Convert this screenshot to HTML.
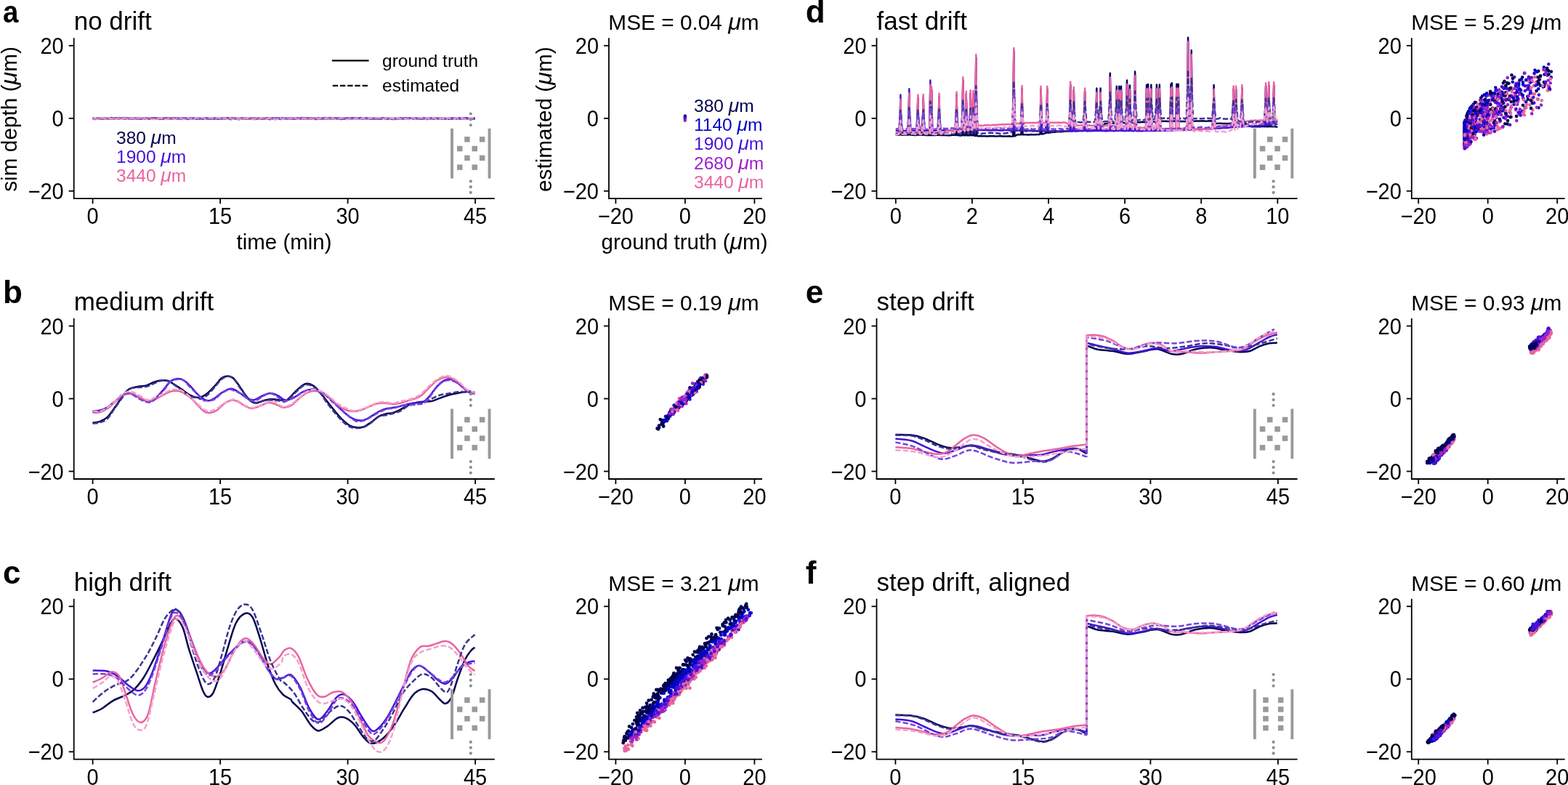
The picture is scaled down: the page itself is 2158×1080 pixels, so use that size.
<!DOCTYPE html>
<html><head><meta charset="utf-8"><style>html,body{margin:0;padding:0;background:#fff;overflow:hidden;}svg{display:block;}</style></head><body>
<svg width="2158" height="1080" viewBox="0 0 2158 1080" font-family="'Liberation Sans', Arial, sans-serif">
<rect width="2158" height="1080" fill="#fff"/>
<path d="M127.6 162.8C128.3 162.9 130.5 163.1 132.0 163.2C133.4 163.2 134.9 163.2 136.4 163.1C137.8 163.1 139.3 162.9 140.8 162.9C142.2 162.9 143.7 163.0 145.1 163.0C146.6 163.0 148.1 163.0 149.5 163.0C151.0 163.0 152.5 163.0 153.9 163.1C155.4 163.1 156.8 163.2 158.3 163.1C159.8 163.1 161.2 162.9 162.7 162.8C164.1 162.7 165.6 162.7 167.1 162.8C168.5 162.8 170.0 163.1 171.5 163.2C172.9 163.2 174.4 163.0 175.8 163.0C177.3 163.0 178.8 163.2 180.2 163.1C181.7 163.1 183.2 162.8 184.6 162.8C186.1 162.7 187.5 162.9 189.0 163.0C190.5 163.0 191.9 163.1 193.4 163.1C194.8 163.1 196.3 162.8 197.8 162.9C199.2 162.9 200.7 163.2 202.2 163.2C203.6 163.3 205.1 163.3 206.5 163.2C208.0 163.1 209.5 162.8 210.9 162.8C212.4 162.7 213.9 162.7 215.3 162.8C216.8 162.8 218.2 162.9 219.7 163.0C221.2 163.1 222.6 163.2 224.1 163.2C225.6 163.2 227.0 163.0 228.5 162.9C229.9 162.9 231.4 162.9 232.9 162.9C234.3 162.9 235.8 163.0 237.2 163.0C238.7 162.9 240.2 162.8 241.6 162.8C243.1 162.7 244.6 162.8 246.0 162.9C247.5 162.9 248.9 162.9 250.4 163.0C251.9 163.0 253.3 163.0 254.8 163.0C256.3 163.0 257.7 162.9 259.2 162.9C260.6 162.8 262.1 162.9 263.6 162.9C265.0 162.9 266.5 162.8 267.9 162.9C269.4 162.9 270.9 163.0 272.3 163.0C273.8 163.0 275.3 162.9 276.7 162.9C278.2 162.9 279.6 162.7 281.1 162.8C282.6 162.8 284.0 163.1 285.5 163.2C287.0 163.2 288.4 163.0 289.9 163.0C291.3 163.0 292.8 163.1 294.3 163.1C295.7 163.0 297.2 162.8 298.6 162.8C300.1 162.9 301.6 163.2 303.0 163.2C304.5 163.3 306.0 163.3 307.4 163.2C308.9 163.1 310.3 162.9 311.8 162.8C313.3 162.8 314.7 162.9 316.2 162.9C317.7 163.0 319.1 163.1 320.6 163.1C322.0 163.1 323.5 163.1 325.0 163.1C326.4 163.1 327.9 163.2 329.3 163.2C330.8 163.2 332.3 163.0 333.7 163.0C335.2 163.0 336.7 163.1 338.1 163.2C339.6 163.2 341.0 163.1 342.5 163.1C344.0 163.0 345.4 162.9 346.9 162.9C348.4 162.9 349.8 163.0 351.3 163.0C352.7 163.1 354.2 163.2 355.7 163.2C357.1 163.2 358.6 163.2 360.0 163.2C361.5 163.1 363.0 163.0 364.4 163.0C365.9 163.0 367.4 163.1 368.8 163.0C370.3 163.0 371.7 162.8 373.2 162.8C374.7 162.7 376.1 162.8 377.6 162.9C379.1 162.9 380.5 163.1 382.0 163.1C383.4 163.2 384.9 163.0 386.4 163.0C387.8 162.9 389.3 162.8 390.8 162.8C392.2 162.8 393.7 163.0 395.1 163.0C396.6 163.1 398.1 163.1 399.5 163.1C401.0 163.1 402.4 163.1 403.9 163.1C405.4 163.1 406.8 163.0 408.3 162.9C409.8 162.9 411.2 163.0 412.7 163.0C414.1 163.0 415.6 163.0 417.1 163.0C418.5 163.0 420.0 163.1 421.5 163.1C422.9 163.1 424.4 163.0 425.8 163.0C427.3 163.0 428.8 162.9 430.2 162.9C431.7 162.9 433.1 163.0 434.6 163.0C436.1 163.0 437.5 162.8 439.0 162.8C440.5 162.7 441.9 162.7 443.4 162.8C444.8 162.8 446.3 163.0 447.8 163.1C449.2 163.2 450.7 163.3 452.2 163.2C453.6 163.2 455.1 163.1 456.5 163.0C458.0 163.0 459.5 163.0 460.9 162.9C462.4 162.9 463.8 162.8 465.3 162.8C466.8 162.8 468.2 162.9 469.7 163.0C471.2 163.1 472.6 163.2 474.1 163.2C475.5 163.3 477.0 163.2 478.5 163.1C479.9 163.1 481.4 163.0 482.9 163.0C484.3 163.0 485.8 163.2 487.2 163.2C488.7 163.2 490.2 162.9 491.6 162.9C493.1 162.8 494.5 162.9 496.0 163.0C497.5 163.1 498.9 163.2 500.4 163.2C501.9 163.2 503.3 163.1 504.8 163.0C506.2 163.0 507.7 163.0 509.2 163.0C510.6 163.0 512.1 162.9 513.6 162.9C515.0 162.9 516.5 163.0 517.9 163.0C519.4 163.1 520.9 163.3 522.3 163.2C523.8 163.2 525.2 162.8 526.7 162.8C528.2 162.7 529.6 163.1 531.1 163.1C532.6 163.2 534.0 163.2 535.5 163.2C536.9 163.2 538.4 163.2 539.9 163.2C541.3 163.2 542.8 163.1 544.3 163.1C545.7 163.1 547.2 163.2 548.6 163.2C550.1 163.1 551.6 163.0 553.0 163.0C554.5 163.0 555.9 163.0 557.4 163.0C558.9 163.0 560.3 163.0 561.8 163.0C563.3 162.9 564.7 162.7 566.2 162.8C567.6 162.8 569.1 163.1 570.6 163.2C572.0 163.2 573.5 163.1 575.0 163.0C576.4 163.0 577.9 162.9 579.3 162.8C580.8 162.8 582.3 163.0 583.7 163.0C585.2 163.0 586.7 163.0 588.1 163.0C589.6 163.0 591.0 162.9 592.5 162.9C594.0 162.9 595.4 162.9 596.9 162.9C598.3 162.9 599.8 163.0 601.3 163.0C602.7 163.0 604.2 163.1 605.7 163.1C607.1 163.1 608.6 163.1 610.0 163.1C611.5 163.0 613.0 163.0 614.4 163.0C615.9 162.9 617.4 162.8 618.8 162.8C620.3 162.7 621.7 162.9 623.2 162.9C624.7 162.9 626.1 162.8 627.6 162.8C629.0 162.9 630.5 163.0 632.0 163.0C633.4 163.1 634.9 163.2 636.4 163.2C637.8 163.2 639.3 163.2 640.7 163.1C642.2 163.1 643.7 163.1 645.1 163.1C646.6 163.2 648.1 163.2 649.5 163.2C651.0 163.1 653.2 162.9 653.9 162.9" fill="none" stroke="#03034f" stroke-width="2.5" stroke-linejoin="round"/>
<path d="M127.6 163.2C128.3 163.2 130.5 163.1 132.0 163.1C133.4 163.0 134.9 162.8 136.4 162.8C137.8 162.7 139.3 162.8 140.8 162.8C142.2 162.8 143.7 162.7 145.1 162.8C146.6 162.8 148.1 163.1 149.5 163.1C151.0 163.1 152.5 162.9 153.9 162.9C155.4 162.8 156.8 162.8 158.3 162.8C159.8 162.8 161.2 163.0 162.7 163.1C164.1 163.1 165.6 163.0 167.1 162.9C168.5 162.9 170.0 162.8 171.5 162.8C172.9 162.8 174.4 162.8 175.8 162.8C177.3 162.9 178.8 163.0 180.2 163.0C181.7 163.0 183.2 162.9 184.6 162.8C186.1 162.8 187.5 162.8 189.0 162.9C190.5 162.9 191.9 163.1 193.4 163.1C194.8 163.1 196.3 163.0 197.8 163.0C199.2 162.9 200.7 162.9 202.2 162.9C203.6 162.9 205.1 163.0 206.5 163.0C208.0 163.0 209.5 162.8 210.9 162.8C212.4 162.8 213.9 162.9 215.3 162.9C216.8 163.0 218.2 163.0 219.7 163.0C221.2 162.9 222.6 162.9 224.1 162.8C225.6 162.8 227.0 162.7 228.5 162.8C229.9 162.9 231.4 163.2 232.9 163.2C234.3 163.2 235.8 163.1 237.2 163.0C238.7 162.9 240.2 162.8 241.6 162.9C243.1 162.9 244.6 163.0 246.0 163.1C247.5 163.1 248.9 163.2 250.4 163.2C251.9 163.1 253.3 162.8 254.8 162.8C256.3 162.7 257.7 162.7 259.2 162.8C260.6 162.8 262.1 162.8 263.6 162.8C265.0 162.9 266.5 163.1 267.9 163.1C269.4 163.1 270.9 162.8 272.3 162.8C273.8 162.8 275.3 163.1 276.7 163.1C278.2 163.1 279.6 163.1 281.1 163.1C282.6 163.1 284.0 163.1 285.5 163.0C287.0 163.0 288.4 162.8 289.9 162.9C291.3 162.9 292.8 163.2 294.3 163.2C295.7 163.3 297.2 163.2 298.6 163.1C300.1 163.1 301.6 163.1 303.0 163.0C304.5 163.0 306.0 162.9 307.4 162.9C308.9 162.9 310.3 163.1 311.8 163.1C313.3 163.1 314.7 163.0 316.2 162.9C317.7 162.9 319.1 163.0 320.6 163.0C322.0 163.0 323.5 162.9 325.0 162.9C326.4 162.9 327.9 163.1 329.3 163.1C330.8 163.0 332.3 162.8 333.7 162.8C335.2 162.8 336.7 162.8 338.1 162.9C339.6 163.0 341.0 163.2 342.5 163.2C344.0 163.3 345.4 163.2 346.9 163.2C348.4 163.1 349.8 162.9 351.3 162.9C352.7 162.9 354.2 163.2 355.7 163.2C357.1 163.2 358.6 162.9 360.0 162.9C361.5 162.9 363.0 163.2 364.4 163.2C365.9 163.3 367.4 163.2 368.8 163.1C370.3 163.1 371.7 163.0 373.2 163.0C374.7 162.9 376.1 162.9 377.6 162.9C379.1 162.8 380.5 162.7 382.0 162.8C383.4 162.8 384.9 163.2 386.4 163.2C387.8 163.2 389.3 162.8 390.8 162.8C392.2 162.8 393.7 163.1 395.1 163.2C396.6 163.2 398.1 163.3 399.5 163.2C401.0 163.2 402.4 163.1 403.9 163.0C405.4 163.0 406.8 162.8 408.3 162.8C409.8 162.9 411.2 163.1 412.7 163.2C414.1 163.3 415.6 163.3 417.1 163.2C418.5 163.2 420.0 163.1 421.5 163.1C422.9 163.1 424.4 163.0 425.8 163.0C427.3 163.0 428.8 163.0 430.2 162.9C431.7 162.9 433.1 162.9 434.6 162.9C436.1 162.9 437.5 162.8 439.0 162.9C440.5 162.9 441.9 163.1 443.4 163.1C444.8 163.1 446.3 163.0 447.8 163.0C449.2 162.9 450.7 162.9 452.2 162.8C453.6 162.8 455.1 162.8 456.5 162.8C458.0 162.8 459.5 163.1 460.9 163.1C462.4 163.1 463.8 162.9 465.3 162.9C466.8 162.9 468.2 163.0 469.7 163.0C471.2 163.0 472.6 162.9 474.1 162.9C475.5 162.9 477.0 163.1 478.5 163.2C479.9 163.2 481.4 163.3 482.9 163.2C484.3 163.1 485.8 162.8 487.2 162.8C488.7 162.7 490.2 162.8 491.6 162.9C493.1 162.9 494.5 162.8 496.0 162.9C497.5 163.0 498.9 163.2 500.4 163.2C501.9 163.3 503.3 163.2 504.8 163.1C506.2 163.1 507.7 163.0 509.2 162.9C510.6 162.9 512.1 162.8 513.6 162.9C515.0 162.9 516.5 163.0 517.9 163.1C519.4 163.1 520.9 163.1 522.3 163.2C523.8 163.2 525.2 163.3 526.7 163.2C528.2 163.2 529.6 162.9 531.1 162.9C532.6 162.9 534.0 163.2 535.5 163.2C536.9 163.2 538.4 163.1 539.9 163.1C541.3 163.1 542.8 163.0 544.3 163.0C545.7 163.0 547.2 163.3 548.6 163.2C550.1 163.2 551.6 162.9 553.0 162.9C554.5 162.8 555.9 163.1 557.4 163.1C558.9 163.1 560.3 162.8 561.8 162.8C563.3 162.7 564.7 162.8 566.2 162.8C567.6 162.9 569.1 163.2 570.6 163.2C572.0 163.2 573.5 162.9 575.0 162.9C576.4 162.8 577.9 163.1 579.3 163.1C580.8 163.2 582.3 163.0 583.7 163.1C585.2 163.1 586.7 163.2 588.1 163.2C589.6 163.2 591.0 163.0 592.5 162.9C594.0 162.9 595.4 162.9 596.9 162.9C598.3 162.9 599.8 162.9 601.3 162.9C602.7 162.9 604.2 163.2 605.7 163.2C607.1 163.2 608.6 163.0 610.0 163.1C611.5 163.1 613.0 163.2 614.4 163.2C615.9 163.3 617.4 163.3 618.8 163.2C620.3 163.1 621.7 162.8 623.2 162.8C624.7 162.8 626.1 163.0 627.6 163.0C629.0 163.0 630.5 162.8 632.0 162.8C633.4 162.8 634.9 162.8 636.4 162.8C637.8 162.8 639.3 162.7 640.7 162.8C642.2 162.9 643.7 163.1 645.1 163.2C646.6 163.2 648.1 163.1 649.5 163.1C651.0 163.1 653.2 163.2 653.9 163.2" fill="none" stroke="#4512d9" stroke-width="2.5" stroke-linejoin="round"/>
<path d="M127.6 162.9C128.3 162.9 130.5 163.0 132.0 163.1C133.4 163.1 134.9 163.2 136.4 163.1C137.8 163.1 139.3 163.0 140.8 162.9C142.2 162.9 143.7 163.0 145.1 163.0C146.6 163.0 148.1 162.9 149.5 162.9C151.0 162.8 152.5 162.8 153.9 162.8C155.4 162.8 156.8 162.8 158.3 162.9C159.8 163.0 161.2 163.2 162.7 163.2C164.1 163.2 165.6 163.0 167.1 163.0C168.5 163.0 170.0 163.2 171.5 163.2C172.9 163.2 174.4 163.0 175.8 163.0C177.3 162.9 178.8 162.9 180.2 162.9C181.7 162.9 183.2 163.1 184.6 163.1C186.1 163.2 187.5 163.2 189.0 163.2C190.5 163.1 191.9 162.8 193.4 162.8C194.8 162.7 196.3 163.1 197.8 163.1C199.2 163.1 200.7 162.8 202.2 162.8C203.6 162.7 205.1 162.7 206.5 162.8C208.0 162.9 209.5 163.2 210.9 163.2C212.4 163.2 213.9 162.8 215.3 162.8C216.8 162.7 218.2 162.8 219.7 162.9C221.2 162.9 222.6 163.2 224.1 163.2C225.6 163.3 227.0 163.0 228.5 163.0C229.9 162.9 231.4 162.8 232.9 162.8C234.3 162.8 235.8 162.8 237.2 162.8C238.7 162.8 240.2 162.8 241.6 162.9C243.1 162.9 244.6 163.1 246.0 163.1C247.5 163.1 248.9 162.8 250.4 162.8C251.9 162.8 253.3 163.2 254.8 163.2C256.3 163.2 257.7 162.9 259.2 162.9C260.6 162.9 262.1 163.2 263.6 163.2C265.0 163.3 266.5 163.3 267.9 163.2C269.4 163.1 270.9 163.0 272.3 162.9C273.8 162.8 275.3 162.9 276.7 162.9C278.2 162.9 279.6 163.0 281.1 163.0C282.6 163.0 284.0 162.8 285.5 162.8C287.0 162.8 288.4 163.1 289.9 163.1C291.3 163.1 292.8 162.8 294.3 162.8C295.7 162.7 297.2 162.7 298.6 162.8C300.1 162.8 301.6 163.2 303.0 163.2C304.5 163.3 306.0 162.9 307.4 162.9C308.9 162.9 310.3 163.0 311.8 163.0C313.3 163.1 314.7 163.0 316.2 163.0C317.7 163.0 319.1 162.9 320.6 162.9C322.0 162.9 323.5 162.7 325.0 162.8C326.4 162.8 327.9 163.1 329.3 163.2C330.8 163.3 332.3 163.2 333.7 163.2C335.2 163.2 336.7 163.3 338.1 163.2C339.6 163.2 341.0 162.9 342.5 162.8C344.0 162.7 345.4 162.8 346.9 162.9C348.4 162.9 349.8 163.0 351.3 163.1C352.7 163.1 354.2 163.2 355.7 163.2C357.1 163.2 358.6 163.0 360.0 163.0C361.5 163.0 363.0 163.1 364.4 163.1C365.9 163.1 367.4 163.1 368.8 163.1C370.3 163.0 371.7 162.9 373.2 162.9C374.7 162.9 376.1 163.0 377.6 163.0C379.1 163.0 380.5 162.9 382.0 162.9C383.4 162.9 384.9 162.9 386.4 162.9C387.8 162.9 389.3 162.8 390.8 162.8C392.2 162.8 393.7 162.8 395.1 162.9C396.6 163.0 398.1 163.2 399.5 163.2C401.0 163.3 402.4 163.0 403.9 163.0C405.4 162.9 406.8 163.1 408.3 163.1C409.8 163.1 411.2 163.0 412.7 163.1C414.1 163.1 415.6 163.2 417.1 163.2C418.5 163.2 420.0 163.0 421.5 162.9C422.9 162.9 424.4 162.9 425.8 162.9C427.3 162.9 428.8 162.9 430.2 162.9C431.7 162.9 433.1 162.9 434.6 162.9C436.1 163.0 437.5 163.1 439.0 163.2C440.5 163.2 441.9 163.2 443.4 163.2C444.8 163.2 446.3 162.9 447.8 162.9C449.2 162.9 450.7 162.9 452.2 162.9C453.6 162.9 455.1 163.0 456.5 163.0C458.0 163.0 459.5 163.0 460.9 163.0C462.4 163.0 463.8 163.1 465.3 163.0C466.8 163.0 468.2 162.9 469.7 162.9C471.2 162.8 472.6 162.8 474.1 162.8C475.5 162.8 477.0 162.9 478.5 162.9C479.9 162.9 481.4 162.8 482.9 162.8C484.3 162.8 485.8 163.0 487.2 163.0C488.7 163.0 490.2 162.8 491.6 162.8C493.1 162.7 494.5 162.7 496.0 162.8C497.5 162.8 498.9 163.0 500.4 163.1C501.9 163.1 503.3 162.9 504.8 162.9C506.2 162.9 507.7 163.1 509.2 163.1C510.6 163.2 512.1 163.0 513.6 163.0C515.0 163.0 516.5 163.2 517.9 163.2C519.4 163.2 520.9 162.9 522.3 162.8C523.8 162.8 525.2 162.9 526.7 163.0C528.2 163.1 529.6 163.2 531.1 163.1C532.6 163.1 534.0 162.8 535.5 162.8C536.9 162.8 538.4 163.2 539.9 163.2C541.3 163.2 542.8 162.9 544.3 162.8C545.7 162.8 547.2 163.1 548.6 163.1C550.1 163.2 551.6 163.2 553.0 163.2C554.5 163.2 555.9 163.2 557.4 163.2C558.9 163.1 560.3 163.0 561.8 162.9C563.3 162.9 564.7 162.8 566.2 162.8C567.6 162.8 569.1 162.9 570.6 163.0C572.0 163.1 573.5 163.2 575.0 163.2C576.4 163.2 577.9 162.9 579.3 162.9C580.8 162.9 582.3 163.2 583.7 163.2C585.2 163.2 586.7 162.8 588.1 162.8C589.6 162.8 591.0 163.2 592.5 163.2C594.0 163.2 595.4 162.8 596.9 162.8C598.3 162.7 599.8 162.8 601.3 162.9C602.7 163.0 604.2 163.2 605.7 163.2C607.1 163.2 608.6 163.2 610.0 163.2C611.5 163.2 613.0 163.2 614.4 163.2C615.9 163.2 617.4 163.2 618.8 163.2C620.3 163.2 621.7 163.1 623.2 163.1C624.7 163.1 626.1 163.1 627.6 163.1C629.0 163.0 630.5 162.9 632.0 162.8C633.4 162.8 634.9 163.0 636.4 163.0C637.8 163.0 639.3 162.8 640.7 162.8C642.2 162.9 643.7 163.1 645.1 163.1C646.6 163.1 648.1 163.1 649.5 163.1C651.0 163.0 653.2 162.9 653.9 162.9" fill="none" stroke="#e9659f" stroke-width="2.5" stroke-linejoin="round"/>
<path d="M127.6 162.0C128.0 162.4 129.4 163.7 130.2 164.0C131.1 164.3 132.0 163.8 132.9 163.7C133.7 163.5 134.6 163.2 135.5 163.1C136.4 163.0 137.2 163.0 138.1 163.1C139.0 163.2 139.9 163.8 140.8 163.8C141.6 163.7 142.5 163.1 143.4 162.9C144.3 162.7 145.1 162.8 146.0 162.8C146.9 162.7 147.8 162.7 148.7 162.6C149.5 162.6 150.4 162.6 151.3 162.5C152.2 162.4 153.0 161.8 153.9 162.0C154.8 162.1 155.7 163.2 156.5 163.3C157.4 163.5 158.3 162.8 159.2 162.8C160.1 162.8 160.9 163.3 161.8 163.2C162.7 163.0 163.6 162.1 164.4 162.0C165.3 162.0 166.2 162.7 167.1 162.7C167.9 162.7 168.8 162.3 169.7 162.2C170.6 162.1 171.5 162.1 172.3 162.2C173.2 162.2 174.1 162.2 175.0 162.5C175.8 162.7 176.7 163.7 177.6 163.7C178.5 163.8 179.4 162.9 180.2 162.8C181.1 162.6 182.0 162.7 182.9 162.8C183.7 162.9 184.6 163.3 185.5 163.2C186.4 163.2 187.2 162.6 188.1 162.4C189.0 162.2 189.9 161.8 190.8 161.9C191.6 162.0 192.5 162.9 193.4 163.1C194.3 163.2 195.1 163.0 196.0 163.0C196.9 163.0 197.8 163.4 198.7 163.3C199.5 163.3 200.4 162.9 201.3 162.9C202.2 162.9 203.0 163.3 203.9 163.4C204.8 163.5 205.7 163.7 206.5 163.5C207.4 163.3 208.3 162.5 209.2 162.4C210.1 162.3 210.9 162.9 211.8 163.0C212.7 163.1 213.6 163.1 214.4 163.0C215.3 162.9 216.2 162.4 217.1 162.4C217.9 162.4 218.8 162.7 219.7 162.8C220.6 162.9 221.5 163.0 222.3 163.1C223.2 163.3 224.1 163.8 225.0 163.9C225.8 164.0 226.7 164.2 227.6 163.9C228.5 163.7 229.4 162.6 230.2 162.5C231.1 162.4 232.0 163.4 232.9 163.3C233.7 163.2 234.6 162.2 235.5 162.0C236.4 161.8 237.2 161.9 238.1 162.1C239.0 162.2 239.9 162.7 240.8 163.0C241.6 163.3 242.5 164.0 243.4 163.8C244.3 163.7 245.1 162.3 246.0 162.3C246.9 162.2 247.8 163.3 248.6 163.6C249.5 163.9 250.4 164.0 251.3 163.8C252.2 163.7 253.0 162.7 253.9 162.6C254.8 162.5 255.7 163.2 256.5 163.4C257.4 163.6 258.3 163.9 259.2 163.8C260.1 163.7 260.9 162.8 261.8 162.7C262.7 162.7 263.6 163.3 264.4 163.4C265.3 163.6 266.2 163.6 267.1 163.5C267.9 163.5 268.8 163.2 269.7 163.2C270.6 163.3 271.5 163.7 272.3 163.8C273.2 163.9 274.1 163.8 275.0 163.9C275.8 163.9 276.7 164.1 277.6 164.0C278.5 163.9 279.3 163.4 280.2 163.2C281.1 162.9 282.0 162.4 282.9 162.3C283.7 162.2 284.6 162.4 285.5 162.5C286.4 162.5 287.2 162.3 288.1 162.4C289.0 162.5 289.9 163.0 290.8 163.2C291.6 163.4 292.5 163.8 293.4 163.6C294.3 163.4 295.1 162.0 296.0 162.0C296.9 162.0 297.8 163.2 298.6 163.4C299.5 163.6 300.4 163.6 301.3 163.5C302.2 163.4 303.0 162.7 303.9 162.7C304.8 162.6 305.7 163.1 306.5 163.0C307.4 163.0 308.3 162.2 309.2 162.3C310.1 162.3 310.9 163.6 311.8 163.5C312.7 163.5 313.6 161.9 314.4 162.0C315.3 162.1 316.2 163.8 317.1 164.1C317.9 164.3 318.8 163.8 319.7 163.7C320.6 163.5 321.5 163.5 322.3 163.3C323.2 163.1 324.1 162.4 325.0 162.5C325.8 162.6 326.7 163.7 327.6 163.9C328.5 164.2 329.3 164.3 330.2 164.0C331.1 163.7 332.0 162.3 332.9 162.2C333.7 162.1 334.6 163.3 335.5 163.6C336.4 163.9 337.2 163.8 338.1 163.8C339.0 163.7 339.9 163.4 340.8 163.4C341.6 163.3 342.5 163.5 343.4 163.4C344.3 163.4 345.1 162.8 346.0 162.9C346.9 163.0 347.8 163.7 348.6 163.9C349.5 164.1 350.4 164.2 351.3 164.0C352.2 163.8 353.0 162.8 353.9 162.7C354.8 162.7 355.7 163.6 356.5 163.7C357.4 163.7 358.3 163.1 359.2 162.9C360.0 162.6 360.9 162.3 361.8 162.3C362.7 162.2 363.6 162.6 364.4 162.6C365.3 162.6 366.2 162.0 367.1 162.2C367.9 162.4 368.8 163.6 369.7 163.9C370.6 164.2 371.5 164.3 372.3 164.0C373.2 163.7 374.1 162.3 375.0 162.2C375.8 162.0 376.7 163.1 377.6 163.2C378.5 163.3 379.3 163.0 380.2 162.8C381.1 162.6 382.0 162.2 382.9 162.2C383.7 162.1 384.6 162.5 385.5 162.6C386.4 162.6 387.2 162.3 388.1 162.4C389.0 162.6 389.9 163.6 390.8 163.5C391.6 163.5 392.5 162.1 393.4 161.9C394.3 161.7 395.1 162.2 396.0 162.3C396.9 162.5 397.8 162.9 398.6 162.9C399.5 162.8 400.4 161.9 401.3 161.9C402.2 162.0 403.0 163.1 403.9 163.3C404.8 163.5 405.7 163.2 406.5 163.2C407.4 163.3 408.3 163.9 409.2 163.7C410.0 163.6 410.9 162.6 411.8 162.4C412.7 162.2 413.6 162.4 414.4 162.5C415.3 162.6 416.2 163.1 417.1 163.1C417.9 163.1 418.8 162.5 419.7 162.5C420.6 162.5 421.5 163.2 422.3 163.2C423.2 163.2 424.1 162.4 425.0 162.5C425.8 162.5 426.7 163.2 427.6 163.4C428.5 163.6 429.3 163.6 430.2 163.6C431.1 163.7 432.0 163.6 432.9 163.7C433.7 163.7 434.6 164.1 435.5 164.0C436.4 163.9 437.2 163.3 438.1 163.1C439.0 162.9 439.9 162.9 440.7 163.0C441.6 163.1 442.5 163.7 443.4 163.8C444.3 163.9 445.1 163.7 446.0 163.6C446.9 163.5 447.8 163.3 448.6 163.2C449.5 163.0 450.4 162.8 451.3 162.7C452.2 162.6 453.0 162.6 453.9 162.5C454.8 162.4 455.7 161.9 456.5 162.1C457.4 162.3 458.3 163.7 459.2 163.7C460.0 163.7 460.9 162.2 461.8 162.2C462.7 162.1 463.6 163.4 464.4 163.5C465.3 163.7 466.2 163.0 467.1 163.1C467.9 163.2 468.8 163.9 469.7 164.0C470.6 164.1 471.4 163.6 472.3 163.6C473.2 163.6 474.1 164.3 475.0 164.0C475.8 163.8 476.7 162.4 477.6 162.2C478.5 162.0 479.3 162.8 480.2 163.0C481.1 163.2 482.0 163.2 482.9 163.2C483.7 163.1 484.6 162.6 485.5 162.6C486.4 162.6 487.2 163.0 488.1 163.0C489.0 163.0 489.9 162.7 490.7 162.7C491.6 162.7 492.5 163.2 493.4 163.1C494.3 162.9 495.1 161.9 496.0 161.9C496.9 161.9 497.8 162.7 498.6 162.9C499.5 163.0 500.4 162.9 501.3 162.9C502.2 162.8 503.0 162.6 503.9 162.6C504.8 162.6 505.7 162.6 506.5 162.8C507.4 163.0 508.3 163.5 509.2 163.6C510.0 163.7 510.9 163.5 511.8 163.4C512.7 163.3 513.6 163.0 514.4 163.0C515.3 163.0 516.2 163.4 517.1 163.3C517.9 163.3 518.8 162.9 519.7 162.7C520.6 162.6 521.4 162.5 522.3 162.3C523.2 162.2 524.1 161.9 525.0 161.9C525.8 161.9 526.7 162.3 527.6 162.5C528.5 162.7 529.3 163.0 530.2 163.2C531.1 163.4 532.0 163.8 532.9 163.8C533.7 163.9 534.6 163.9 535.5 163.7C536.4 163.6 537.2 163.0 538.1 163.0C539.0 163.1 539.9 164.1 540.7 164.1C541.6 164.1 542.5 163.0 543.4 162.9C544.3 162.9 545.1 163.8 546.0 163.7C546.9 163.7 547.8 162.8 548.6 162.8C549.5 162.8 550.4 163.3 551.3 163.5C552.1 163.8 553.0 164.2 553.9 164.1C554.8 163.9 555.7 162.9 556.5 162.6C557.4 162.3 558.3 162.2 559.2 162.3C560.0 162.4 560.9 163.1 561.8 163.3C562.7 163.4 563.6 163.2 564.4 163.1C565.3 163.0 566.2 162.9 567.1 162.7C567.9 162.5 568.8 161.9 569.7 161.9C570.6 161.9 571.4 162.6 572.3 162.8C573.2 162.9 574.1 162.8 575.0 162.8C575.8 162.8 576.7 162.6 577.6 162.8C578.5 163.0 579.3 163.7 580.2 163.8C581.1 163.9 582.0 163.2 582.8 163.2C583.7 163.1 584.6 163.4 585.5 163.5C586.4 163.6 587.2 163.9 588.1 163.9C589.0 163.9 589.9 163.7 590.7 163.5C591.6 163.4 592.5 163.0 593.4 163.0C594.3 163.0 595.1 163.5 596.0 163.5C596.9 163.6 597.8 163.3 598.6 163.3C599.5 163.3 600.4 163.3 601.3 163.3C602.1 163.3 603.0 163.4 603.9 163.3C604.8 163.2 605.7 162.8 606.5 162.8C607.4 162.8 608.3 163.2 609.2 163.3C610.0 163.4 610.9 163.2 611.8 163.3C612.7 163.4 613.6 163.9 614.4 164.0C615.3 164.0 616.2 163.7 617.1 163.6C617.9 163.6 618.8 163.8 619.7 163.8C620.6 163.8 621.4 163.6 622.3 163.6C623.2 163.6 624.1 163.8 625.0 163.7C625.8 163.6 626.7 163.4 627.6 163.2C628.5 163.1 629.3 162.8 630.2 162.7C631.1 162.5 632.0 162.4 632.8 162.5C633.7 162.6 634.6 163.2 635.5 163.5C636.4 163.7 637.2 163.9 638.1 163.8C639.0 163.8 639.9 163.4 640.7 163.1C641.6 162.8 642.5 162.1 643.4 162.2C644.3 162.3 645.1 163.6 646.0 163.7C646.9 163.9 647.8 163.1 648.6 163.0C649.5 162.8 650.4 163.1 651.3 162.9C652.1 162.8 653.5 162.2 653.9 162.0" fill="none" stroke="#3b3590" stroke-width="2.5" stroke-linejoin="round" stroke-dasharray="7.4 3" stroke-opacity="0.85"/>
<path d="M127.6 163.0C128.0 163.1 129.4 163.6 130.2 163.5C131.1 163.5 132.0 163.0 132.9 162.8C133.7 162.7 134.6 162.6 135.5 162.7C136.4 162.8 137.2 163.5 138.1 163.3C139.0 163.2 139.9 162.0 140.8 161.9C141.6 161.9 142.5 162.7 143.4 163.0C144.3 163.4 145.1 163.9 146.0 164.0C146.9 164.0 147.8 163.6 148.7 163.4C149.5 163.2 150.4 162.8 151.3 162.8C152.2 162.8 153.0 163.3 153.9 163.4C154.8 163.5 155.7 163.4 156.5 163.2C157.4 163.1 158.3 162.5 159.2 162.4C160.1 162.2 160.9 162.1 161.8 162.4C162.7 162.6 163.6 163.8 164.4 163.8C165.3 163.9 166.2 162.8 167.1 162.5C167.9 162.2 168.8 161.9 169.7 162.1C170.6 162.3 171.5 163.6 172.3 163.7C173.2 163.9 174.1 163.2 175.0 163.1C175.8 162.9 176.7 162.7 177.6 162.7C178.5 162.7 179.4 162.9 180.2 163.0C181.1 163.2 182.0 163.6 182.9 163.5C183.7 163.4 184.6 162.3 185.5 162.3C186.4 162.2 187.2 163.1 188.1 163.3C189.0 163.5 189.9 163.4 190.8 163.5C191.6 163.5 192.5 163.9 193.4 163.7C194.3 163.5 195.1 162.6 196.0 162.5C196.9 162.4 197.8 163.3 198.7 163.2C199.5 163.2 200.4 162.4 201.3 162.4C202.2 162.4 203.0 163.2 203.9 163.1C204.8 163.1 205.7 162.2 206.5 162.3C207.4 162.4 208.3 163.4 209.2 163.6C210.1 163.9 210.9 164.0 211.8 163.8C212.7 163.6 213.6 162.9 214.4 162.6C215.3 162.4 216.2 162.2 217.1 162.4C217.9 162.6 218.8 163.8 219.7 164.0C220.6 164.2 221.5 163.5 222.3 163.5C223.2 163.4 224.1 164.0 225.0 163.8C225.8 163.5 226.7 161.9 227.6 162.0C228.5 162.0 229.4 163.7 230.2 163.9C231.1 164.1 232.0 163.5 232.9 163.3C233.7 163.1 234.6 162.7 235.5 162.6C236.4 162.5 237.2 162.7 238.1 162.8C239.0 163.0 239.9 163.4 240.8 163.6C241.6 163.7 242.5 163.8 243.4 163.6C244.3 163.4 245.1 162.4 246.0 162.3C246.9 162.3 247.8 163.3 248.6 163.3C249.5 163.3 250.4 162.1 251.3 162.3C252.2 162.4 253.0 163.9 253.9 164.0C254.8 164.1 255.7 162.9 256.5 162.9C257.4 162.9 258.3 163.8 259.2 163.9C260.1 164.0 260.9 163.6 261.8 163.5C262.7 163.4 263.6 163.4 264.4 163.2C265.3 163.1 266.2 162.5 267.1 162.5C267.9 162.4 268.8 163.1 269.7 163.1C270.6 163.0 271.5 162.3 272.3 162.2C273.2 162.1 274.1 162.0 275.0 162.2C275.8 162.4 276.7 163.4 277.6 163.5C278.5 163.6 279.3 162.7 280.2 162.7C281.1 162.7 282.0 163.6 282.9 163.6C283.7 163.5 284.6 162.4 285.5 162.4C286.4 162.4 287.2 163.3 288.1 163.5C289.0 163.7 289.9 163.6 290.8 163.5C291.6 163.3 292.5 162.8 293.4 162.6C294.3 162.3 295.1 162.1 296.0 162.1C296.9 162.2 297.8 162.6 298.6 162.8C299.5 162.9 300.4 163.1 301.3 163.0C302.2 162.9 303.0 162.2 303.9 162.1C304.8 162.0 305.7 162.3 306.5 162.3C307.4 162.3 308.3 161.9 309.2 162.0C310.1 162.2 310.9 162.9 311.8 163.2C312.7 163.5 313.6 164.0 314.4 163.9C315.3 163.7 316.2 162.7 317.1 162.4C317.9 162.1 318.8 161.8 319.7 162.0C320.6 162.2 321.5 163.2 322.3 163.4C323.2 163.7 324.1 163.6 325.0 163.7C325.8 163.8 326.7 164.1 327.6 164.0C328.5 163.9 329.3 163.5 330.2 163.2C331.1 163.0 332.0 162.6 332.9 162.7C333.7 162.7 334.6 163.8 335.5 163.7C336.4 163.7 337.2 162.2 338.1 162.2C339.0 162.1 339.9 163.4 340.8 163.4C341.6 163.4 342.5 162.2 343.4 162.1C344.3 162.0 345.1 162.6 346.0 162.8C346.9 162.9 347.8 163.0 348.6 163.0C349.5 163.0 350.4 162.9 351.3 162.7C352.2 162.6 353.0 162.3 353.9 162.3C354.8 162.2 355.7 162.2 356.5 162.4C357.4 162.6 358.3 163.6 359.2 163.7C360.0 163.8 360.9 163.0 361.8 162.9C362.7 162.8 363.6 163.3 364.4 163.2C365.3 163.1 366.2 162.3 367.1 162.4C367.9 162.4 368.8 163.4 369.7 163.5C370.6 163.5 371.5 162.7 372.3 162.6C373.2 162.6 374.1 163.0 375.0 163.2C375.8 163.4 376.7 163.8 377.6 163.9C378.5 164.0 379.3 164.4 380.2 164.1C381.1 163.8 382.0 162.1 382.9 162.0C383.7 161.9 384.6 163.4 385.5 163.7C386.4 164.0 387.2 164.0 388.1 163.8C389.0 163.6 389.9 162.8 390.8 162.6C391.6 162.4 392.5 162.6 393.4 162.7C394.3 162.8 395.1 163.0 396.0 163.2C396.9 163.4 397.8 164.0 398.6 163.9C399.5 163.9 400.4 162.8 401.3 162.8C402.2 162.8 403.0 163.7 403.9 163.8C404.8 164.0 405.7 163.8 406.5 163.6C407.4 163.3 408.3 162.2 409.2 162.2C410.0 162.3 410.9 164.0 411.8 163.9C412.7 163.9 413.6 162.2 414.4 161.9C415.3 161.7 416.2 162.0 417.1 162.2C417.9 162.5 418.8 163.4 419.7 163.4C420.6 163.3 421.5 162.1 422.3 162.0C423.2 161.9 424.1 162.7 425.0 162.7C425.8 162.8 426.7 162.2 427.6 162.2C428.5 162.2 429.3 162.7 430.2 162.9C431.1 163.2 432.0 163.6 432.9 163.7C433.7 163.9 434.6 164.2 435.5 163.9C436.4 163.6 437.2 162.3 438.1 162.0C439.0 161.7 439.9 161.7 440.7 162.0C441.6 162.3 442.5 163.8 443.4 163.7C444.3 163.7 445.1 162.2 446.0 162.0C446.9 161.8 447.8 162.5 448.6 162.5C449.5 162.5 450.4 162.2 451.3 162.2C452.2 162.1 453.0 162.1 453.9 162.1C454.8 162.1 455.7 161.8 456.5 162.0C457.4 162.2 458.3 163.0 459.2 163.3C460.0 163.6 460.9 163.5 461.8 163.5C462.7 163.6 463.6 163.4 464.4 163.4C465.3 163.4 466.2 163.8 467.1 163.8C467.9 163.8 468.8 163.5 469.7 163.4C470.6 163.2 471.4 162.8 472.3 162.8C473.2 162.7 474.1 163.1 475.0 163.3C475.8 163.5 476.7 164.0 477.6 164.0C478.5 164.0 479.3 163.6 480.2 163.3C481.1 163.0 482.0 162.6 482.9 162.4C483.7 162.2 484.6 161.8 485.5 162.0C486.4 162.3 487.2 163.8 488.1 164.0C489.0 164.2 489.9 163.4 490.7 163.2C491.6 163.0 492.5 162.7 493.4 162.7C494.3 162.7 495.1 163.2 496.0 163.2C496.9 163.3 497.8 163.2 498.6 163.1C499.5 163.1 500.4 163.2 501.3 163.0C502.2 162.9 503.0 162.1 503.9 162.0C504.8 162.0 505.7 162.5 506.5 162.7C507.4 162.8 508.3 162.9 509.2 162.8C510.0 162.8 510.9 162.2 511.8 162.3C512.7 162.5 513.6 163.8 514.4 163.8C515.3 163.9 516.2 162.9 517.1 162.8C517.9 162.8 518.8 163.3 519.7 163.4C520.6 163.5 521.4 163.4 522.3 163.5C523.2 163.5 524.1 163.5 525.0 163.5C525.8 163.5 526.7 163.5 527.6 163.5C528.5 163.5 529.3 163.7 530.2 163.6C531.1 163.4 532.0 162.4 532.9 162.5C533.7 162.5 534.6 164.1 535.5 164.0C536.4 164.0 537.2 162.3 538.1 162.2C539.0 162.2 539.9 163.7 540.7 163.9C541.6 164.2 542.5 163.8 543.4 163.8C544.3 163.8 545.1 164.1 546.0 163.8C546.9 163.5 547.8 162.3 548.6 162.0C549.5 161.7 550.4 161.8 551.3 162.1C552.1 162.4 553.0 163.6 553.9 163.7C554.8 163.8 555.7 163.1 556.5 162.9C557.4 162.8 558.3 162.5 559.2 162.7C560.0 162.9 560.9 164.2 561.8 164.1C562.7 163.9 563.6 162.2 564.4 162.0C565.3 161.8 566.2 162.9 567.1 163.1C567.9 163.2 568.8 163.0 569.7 162.9C570.6 162.7 571.4 162.2 572.3 162.2C573.2 162.2 574.1 162.6 575.0 162.8C575.8 163.0 576.7 163.3 577.6 163.5C578.5 163.6 579.3 164.1 580.2 163.8C581.1 163.6 582.0 162.1 582.8 162.0C583.7 161.8 584.6 163.0 585.5 163.1C586.4 163.1 587.2 162.0 588.1 162.1C589.0 162.2 589.9 163.7 590.7 163.7C591.6 163.7 592.5 162.4 593.4 162.1C594.3 161.8 595.1 161.9 596.0 162.0C596.9 162.1 597.8 162.5 598.6 162.7C599.5 163.0 600.4 163.5 601.3 163.5C602.1 163.5 603.0 162.8 603.9 162.6C604.8 162.4 605.7 162.0 606.5 162.2C607.4 162.4 608.3 163.4 609.2 163.6C610.0 163.9 610.9 163.7 611.8 163.7C612.7 163.7 613.6 164.0 614.4 163.8C615.3 163.6 616.2 162.7 617.1 162.6C617.9 162.4 618.8 162.9 619.7 162.8C620.6 162.8 621.4 162.4 622.3 162.4C623.2 162.5 624.1 163.1 625.0 163.1C625.8 163.2 626.7 162.7 627.6 162.6C628.5 162.5 629.3 162.5 630.2 162.6C631.1 162.8 632.0 163.4 632.8 163.6C633.7 163.9 634.6 164.1 635.5 164.0C636.4 163.9 637.2 163.5 638.1 163.2C639.0 162.9 639.9 162.1 640.7 162.1C641.6 162.2 642.5 163.2 643.4 163.3C644.3 163.5 645.1 162.8 646.0 162.9C646.9 163.0 647.8 164.0 648.6 164.1C649.5 164.2 650.4 163.5 651.3 163.5C652.1 163.4 653.5 163.7 653.9 163.7" fill="none" stroke="#7444dc" stroke-width="2.5" stroke-linejoin="round" stroke-dasharray="7.4 3" stroke-opacity="0.85"/>
<path d="M127.6 163.4C128.0 163.4 129.4 163.0 130.2 163.1C131.1 163.2 132.0 163.8 132.9 163.9C133.7 164.0 134.6 164.0 135.5 163.7C136.4 163.5 137.2 162.8 138.1 162.5C139.0 162.3 139.9 162.2 140.8 162.2C141.6 162.3 142.5 162.6 143.4 162.7C144.3 162.8 145.1 163.1 146.0 163.0C146.9 162.9 147.8 162.2 148.7 162.1C149.5 162.0 150.4 162.5 151.3 162.7C152.2 162.8 153.0 163.3 153.9 163.2C154.8 163.1 155.7 161.9 156.5 162.0C157.4 162.1 158.3 163.5 159.2 163.7C160.1 163.9 160.9 163.5 161.8 163.3C162.7 163.1 163.6 162.7 164.4 162.6C165.3 162.5 166.2 162.5 167.1 162.6C167.9 162.6 168.8 162.7 169.7 162.7C170.6 162.7 171.5 162.5 172.3 162.6C173.2 162.8 174.1 163.5 175.0 163.5C175.8 163.6 176.7 163.1 177.6 163.0C178.5 162.9 179.4 163.2 180.2 163.1C181.1 162.9 182.0 162.1 182.9 162.2C183.7 162.4 184.6 163.8 185.5 163.9C186.4 164.0 187.2 162.8 188.1 162.6C189.0 162.4 189.9 162.7 190.8 162.6C191.6 162.5 192.5 161.8 193.4 162.1C194.3 162.3 195.1 163.9 196.0 164.1C196.9 164.2 197.8 163.0 198.7 163.0C199.5 162.9 200.4 163.7 201.3 163.9C202.2 164.1 203.0 163.9 203.9 163.9C204.8 164.0 205.7 164.1 206.5 164.0C207.4 164.0 208.3 163.7 209.2 163.7C210.1 163.7 210.9 163.9 211.8 163.9C212.7 164.0 213.6 164.0 214.4 163.9C215.3 163.9 216.2 164.0 217.1 163.7C217.9 163.4 218.8 162.3 219.7 162.2C220.6 162.1 221.5 162.9 222.3 163.1C223.2 163.2 224.1 163.0 225.0 163.2C225.8 163.3 226.7 164.0 227.6 164.1C228.5 164.2 229.4 163.7 230.2 163.6C231.1 163.5 232.0 163.5 232.9 163.4C233.7 163.4 234.6 163.7 235.5 163.5C236.4 163.4 237.2 162.6 238.1 162.7C239.0 162.8 239.9 163.9 240.8 164.0C241.6 164.1 242.5 163.5 243.4 163.3C244.3 163.1 245.1 162.9 246.0 162.8C246.9 162.7 247.8 162.7 248.6 162.9C249.5 163.1 250.4 164.0 251.3 164.1C252.2 164.1 253.0 163.4 253.9 163.1C254.8 162.8 255.7 162.4 256.5 162.3C257.4 162.1 258.3 162.0 259.2 162.2C260.1 162.4 260.9 163.3 261.8 163.4C262.7 163.6 263.6 163.1 264.4 163.1C265.3 163.2 266.2 164.0 267.1 163.9C267.9 163.8 268.8 162.5 269.7 162.3C270.6 162.1 271.5 162.6 272.3 162.8C273.2 163.0 274.1 163.6 275.0 163.5C275.8 163.4 276.7 162.2 277.6 162.0C278.5 161.8 279.3 161.9 280.2 162.1C281.1 162.3 282.0 163.0 282.9 163.1C283.7 163.2 284.6 162.6 285.5 162.5C286.4 162.3 287.2 162.1 288.1 162.1C289.0 162.1 289.9 162.3 290.8 162.5C291.6 162.7 292.5 163.2 293.4 163.3C294.3 163.4 295.1 163.3 296.0 163.1C296.9 162.9 297.8 162.2 298.6 162.1C299.5 161.9 300.4 161.8 301.3 162.1C302.2 162.3 303.0 163.6 303.9 163.8C304.8 164.0 305.7 163.6 306.5 163.3C307.4 163.1 308.3 162.2 309.2 162.3C310.1 162.4 310.9 163.9 311.8 163.8C312.7 163.7 313.6 162.1 314.4 161.9C315.3 161.8 316.2 162.4 317.1 162.7C317.9 163.0 318.8 163.6 319.7 163.8C320.6 163.9 321.5 163.7 322.3 163.5C323.2 163.3 324.1 162.5 325.0 162.5C325.8 162.6 326.7 163.7 327.6 163.9C328.5 164.0 329.3 163.2 330.2 163.2C331.1 163.2 332.0 163.7 332.9 163.8C333.7 163.9 334.6 164.0 335.5 163.9C336.4 163.7 337.2 162.9 338.1 162.8C339.0 162.8 339.9 163.3 340.8 163.4C341.6 163.4 342.5 163.0 343.4 163.1C344.3 163.2 345.1 163.9 346.0 164.0C346.9 164.1 347.8 163.7 348.6 163.7C349.5 163.6 350.4 163.5 351.3 163.5C352.2 163.5 353.0 163.6 353.9 163.7C354.8 163.8 355.7 164.3 356.5 164.1C357.4 163.9 358.3 162.8 359.2 162.5C360.0 162.2 360.9 162.2 361.8 162.3C362.7 162.5 363.6 163.3 364.4 163.5C365.3 163.8 366.2 163.7 367.1 163.6C367.9 163.5 368.8 163.1 369.7 163.0C370.6 162.9 371.5 163.0 372.3 163.0C373.2 162.9 374.1 162.6 375.0 162.8C375.8 162.9 376.7 163.7 377.6 163.8C378.5 164.0 379.3 163.8 380.2 163.7C381.1 163.5 382.0 163.5 382.9 163.2C383.7 162.9 384.6 161.9 385.5 162.0C386.4 162.1 387.2 163.6 388.1 163.8C389.0 163.9 389.9 163.2 390.8 162.9C391.6 162.7 392.5 162.4 393.4 162.3C394.3 162.3 395.1 162.4 396.0 162.6C396.9 162.7 397.8 163.5 398.6 163.4C399.5 163.3 400.4 162.1 401.3 161.9C402.2 161.7 403.0 162.1 403.9 162.2C404.8 162.3 405.7 162.3 406.5 162.6C407.4 162.8 408.3 163.7 409.2 163.9C410.0 164.0 410.9 163.5 411.8 163.5C412.7 163.6 413.6 164.1 414.4 164.0C415.3 164.0 416.2 163.2 417.1 163.1C417.9 162.9 418.8 163.2 419.7 163.2C420.6 163.2 421.5 163.1 422.3 163.1C423.2 163.1 424.1 163.1 425.0 163.1C425.8 163.1 426.7 163.0 427.6 163.1C428.5 163.2 429.3 163.6 430.2 163.7C431.1 163.9 432.0 164.1 432.9 164.0C433.7 163.8 434.6 162.9 435.5 162.8C436.4 162.7 437.2 163.3 438.1 163.3C439.0 163.2 439.9 162.7 440.7 162.6C441.6 162.5 442.5 162.5 443.4 162.6C444.3 162.6 445.1 162.9 446.0 163.0C446.9 163.1 447.8 163.2 448.6 163.2C449.5 163.2 450.4 163.0 451.3 163.1C452.2 163.3 453.0 164.2 453.9 164.0C454.8 163.9 455.7 162.4 456.5 162.3C457.4 162.1 458.3 163.0 459.2 163.3C460.0 163.6 460.9 164.1 461.8 164.1C462.7 164.1 463.6 163.7 464.4 163.5C465.3 163.4 466.2 163.3 467.1 163.1C467.9 163.0 468.8 162.8 469.7 162.7C470.6 162.7 471.4 162.6 472.3 162.8C473.2 163.0 474.1 163.8 475.0 164.0C475.8 164.1 476.7 164.0 477.6 163.9C478.5 163.8 479.3 163.4 480.2 163.4C481.1 163.4 482.0 163.8 482.9 163.9C483.7 164.0 484.6 164.0 485.5 163.9C486.4 163.9 487.2 164.0 488.1 163.8C489.0 163.6 489.9 162.9 490.7 162.7C491.6 162.6 492.5 162.8 493.4 162.9C494.3 163.1 495.1 163.7 496.0 163.7C496.9 163.6 497.8 162.7 498.6 162.7C499.5 162.7 500.4 163.5 501.3 163.5C502.2 163.6 503.0 163.1 503.9 163.0C504.8 162.8 505.7 162.6 506.5 162.6C507.4 162.6 508.3 163.0 509.2 162.9C510.0 162.8 510.9 162.2 511.8 162.2C512.7 162.1 513.6 162.6 514.4 162.7C515.3 162.8 516.2 162.9 517.1 162.8C517.9 162.7 518.8 162.0 519.7 161.9C520.6 161.9 521.4 162.2 522.3 162.3C523.2 162.4 524.1 162.2 525.0 162.5C525.8 162.7 526.7 163.7 527.6 163.8C528.5 163.9 529.3 163.4 530.2 163.2C531.1 163.0 532.0 162.4 532.9 162.5C533.7 162.7 534.6 164.1 535.5 164.1C536.4 164.1 537.2 162.6 538.1 162.5C539.0 162.3 539.9 162.9 540.7 163.0C541.6 163.2 542.5 163.5 543.4 163.5C544.3 163.6 545.1 163.5 546.0 163.4C546.9 163.3 547.8 162.8 548.6 162.9C549.5 162.9 550.4 163.6 551.3 163.6C552.1 163.6 553.0 163.0 553.9 163.0C554.8 162.9 555.7 163.5 556.5 163.5C557.4 163.5 558.3 162.9 559.2 163.0C560.0 163.1 560.9 164.0 561.8 164.0C562.7 164.1 563.6 163.8 564.4 163.5C565.3 163.2 566.2 162.3 567.1 162.1C567.9 161.9 568.8 161.9 569.7 162.2C570.6 162.5 571.4 164.0 572.3 164.0C573.2 164.1 574.1 162.7 575.0 162.4C575.8 162.1 576.7 161.9 577.6 162.0C578.5 162.0 579.3 162.3 580.2 162.5C581.1 162.6 582.0 162.7 582.8 163.0C583.7 163.2 584.6 164.0 585.5 164.0C586.4 164.0 587.2 162.9 588.1 162.8C589.0 162.7 589.9 163.3 590.7 163.5C591.6 163.7 592.5 164.0 593.4 163.7C594.3 163.5 595.1 162.2 596.0 162.1C596.9 162.0 597.8 162.9 598.6 163.2C599.5 163.6 600.4 164.1 601.3 164.1C602.1 164.1 603.0 163.3 603.9 163.1C604.8 162.9 605.7 163.2 606.5 163.1C607.4 163.0 608.3 162.5 609.2 162.7C610.0 162.8 610.9 163.8 611.8 164.0C612.7 164.2 613.6 164.3 614.4 164.0C615.3 163.7 616.2 162.3 617.1 162.1C617.9 162.0 618.8 163.0 619.7 163.1C620.6 163.2 621.4 162.8 622.3 162.8C623.2 162.9 624.1 163.5 625.0 163.4C625.8 163.3 626.7 162.3 627.6 162.2C628.5 162.0 629.3 162.4 630.2 162.5C631.1 162.5 632.0 162.4 632.8 162.5C633.7 162.6 634.6 162.8 635.5 163.0C636.4 163.1 637.2 163.5 638.1 163.6C639.0 163.8 639.9 163.8 640.7 163.8C641.6 163.8 642.5 163.7 643.4 163.6C644.3 163.6 645.1 163.6 646.0 163.4C646.9 163.1 647.8 162.2 648.6 162.1C649.5 162.0 650.4 162.5 651.3 162.8C652.1 163.0 653.5 163.3 653.9 163.4" fill="none" stroke="#f2a2cc" stroke-width="2.5" stroke-linejoin="round" stroke-dasharray="7.4 3" stroke-opacity="0.85"/>
<path d="M942.7 161.9h0M943.4 159.5h0" stroke="#03034f" stroke-width="3.2" stroke-linecap="round" fill="none"/>
<path d="M942.7 163.0h0M942.5 164.7h0" stroke="#0505c4" stroke-width="3.2" stroke-linecap="round" fill="none"/>
<path d="M942.6 159.9h0M942.3 160.5h0" stroke="#4512d9" stroke-width="3.2" stroke-linecap="round" fill="none"/>
<path d="M943.1 161.0h0M943.4 160.9h0" stroke="#9b22cc" stroke-width="3.2" stroke-linecap="round" fill="none"/>
<path d="M942.6 165.4h0M942.6 163.9h0" stroke="#e9659f" stroke-width="3.2" stroke-linecap="round" fill="none"/>
<path d="M943.1 162.5h0M942.4 161.2h0M943.1 163.2h0" stroke="#0505c4" stroke-width="3.2" stroke-linecap="round" fill="none"/>
<path d="M942.8 165.4h0M943.1 161.1h0M943.1 161.3h0" stroke="#4512d9" stroke-width="3.2" stroke-linecap="round" fill="none"/>
<path d="M943.4 161.3h0M943.3 165.3h0M942.7 165.5h0" stroke="#9b22cc" stroke-width="3.2" stroke-linecap="round" fill="none"/>
<path d="M942.7 161.4h0M943.2 166.1h0M942.7 165.9h0" stroke="#e9659f" stroke-width="3.2" stroke-linecap="round" fill="none"/>
<path d="M943.3 159.5h0M942.8 164.4h0M942.5 162.0h0" stroke="#03034f" stroke-width="3.2" stroke-linecap="round" fill="none"/>
<path d="M942.9 161.6h0M943.4 161.8h0" stroke="#4512d9" stroke-width="3.2" stroke-linecap="round" fill="none"/>
<path d="M942.5 165.3h0M942.8 162.7h0" stroke="#9b22cc" stroke-width="3.2" stroke-linecap="round" fill="none"/>
<path d="M942.7 164.5h0M943.5 165.2h0" stroke="#e9659f" stroke-width="3.2" stroke-linecap="round" fill="none"/>
<path d="M942.8 164.3h0M943.5 160.6h0" stroke="#03034f" stroke-width="3.2" stroke-linecap="round" fill="none"/>
<path d="M943.3 164.7h0M942.7 162.3h0" stroke="#0505c4" stroke-width="3.2" stroke-linecap="round" fill="none"/>
<path d="M942.4 163.7h0M942.6 164.1h0M943.3 163.7h0" stroke="#9b22cc" stroke-width="3.2" stroke-linecap="round" fill="none"/>
<path d="M942.4 163.1h0M942.8 162.2h0M943.3 163.1h0" stroke="#e9659f" stroke-width="3.2" stroke-linecap="round" fill="none"/>
<path d="M942.9 164.3h0M943.0 160.1h0M943.2 160.9h0" stroke="#03034f" stroke-width="3.2" stroke-linecap="round" fill="none"/>
<path d="M942.7 160.0h0M942.5 160.8h0M942.4 162.5h0" stroke="#0505c4" stroke-width="3.2" stroke-linecap="round" fill="none"/>
<path d="M943.3 163.6h0M943.3 163.4h0M943.3 162.1h0" stroke="#4512d9" stroke-width="3.2" stroke-linecap="round" fill="none"/>
<path d="M943.1 164.3h0M942.9 160.7h0" stroke="#e9659f" stroke-width="3.2" stroke-linecap="round" fill="none"/>
<path d="M942.9 158.9h0M943.5 162.9h0" stroke="#03034f" stroke-width="3.2" stroke-linecap="round" fill="none"/>
<path d="M943.1 162.7h0M943.1 160.6h0" stroke="#0505c4" stroke-width="3.2" stroke-linecap="round" fill="none"/>
<path d="M943.1 163.4h0M942.9 163.1h0" stroke="#4512d9" stroke-width="3.2" stroke-linecap="round" fill="none"/>
<path d="M942.3 165.9h0M943.4 164.0h0" stroke="#9b22cc" stroke-width="3.2" stroke-linecap="round" fill="none"/>
<path d="M943.4 164.8h0M942.6 162.2h0M942.8 163.5h0" stroke="#03034f" stroke-width="3.2" stroke-linecap="round" fill="none"/>
<path d="M942.5 162.7h0M943.4 161.8h0M942.3 159.3h0" stroke="#0505c4" stroke-width="3.2" stroke-linecap="round" fill="none"/>
<path d="M942.9 162.0h0M943.4 163.5h0M943.0 159.9h0" stroke="#4512d9" stroke-width="3.2" stroke-linecap="round" fill="none"/>
<path d="M942.8 163.5h0M943.4 162.8h0M943.2 163.7h0" stroke="#9b22cc" stroke-width="3.2" stroke-linecap="round" fill="none"/>
<path d="M943.1 165.9h0M942.5 164.4h0M942.9 162.5h0" stroke="#e9659f" stroke-width="3.2" stroke-linecap="round" fill="none"/>
<path d="M942.7 163.0h0M942.4 160.6h0" stroke="#0505c4" stroke-width="3.2" stroke-linecap="round" fill="none"/>
<path d="M942.9 160.7h0M942.6 162.3h0" stroke="#4512d9" stroke-width="3.2" stroke-linecap="round" fill="none"/>
<path d="M942.8 165.8h0M942.8 163.8h0" stroke="#9b22cc" stroke-width="3.2" stroke-linecap="round" fill="none"/>
<path d="M943.2 166.4h0M942.3 166.0h0" stroke="#e9659f" stroke-width="3.2" stroke-linecap="round" fill="none"/>
<path d="M943.3 160.2h0M942.6 163.2h0" stroke="#03034f" stroke-width="3.2" stroke-linecap="round" fill="none"/>
<path d="M943.0 161.2h0M942.6 162.9h0M942.9 162.1h0" stroke="#4512d9" stroke-width="3.2" stroke-linecap="round" fill="none"/>
<path d="M942.4 162.9h0M942.3 164.4h0M942.3 160.3h0" stroke="#9b22cc" stroke-width="3.2" stroke-linecap="round" fill="none"/>
<path d="M942.8 165.6h0M942.5 164.8h0M942.4 162.5h0" stroke="#e9659f" stroke-width="3.2" stroke-linecap="round" fill="none"/>
<path d="M942.8 159.6h0M942.5 162.3h0M943.0 164.8h0" stroke="#03034f" stroke-width="3.2" stroke-linecap="round" fill="none"/>
<path d="M943.1 165.3h0M942.7 162.9h0M942.9 159.3h0" stroke="#0505c4" stroke-width="3.2" stroke-linecap="round" fill="none"/>
<path d="M942.4 160.9h0M942.9 162.2h0" stroke="#9b22cc" stroke-width="3.2" stroke-linecap="round" fill="none"/>
<path d="M943.5 164.5h0M943.2 163.3h0" stroke="#e9659f" stroke-width="3.2" stroke-linecap="round" fill="none"/>
<path d="M942.9 162.6h0M942.5 161.4h0" stroke="#03034f" stroke-width="3.2" stroke-linecap="round" fill="none"/>
<path d="M942.7 160.1h0M942.6 164.0h0" stroke="#0505c4" stroke-width="3.2" stroke-linecap="round" fill="none"/>
<path d="M942.4 161.9h0M943.1 163.0h0" stroke="#4512d9" stroke-width="3.2" stroke-linecap="round" fill="none"/>
<path d="M942.9 163.5h0M943.2 164.9h0M942.5 163.1h0" stroke="#e9659f" stroke-width="3.2" stroke-linecap="round" fill="none"/>
<path d="M942.6 163.1h0M942.6 160.1h0M942.7 161.7h0" stroke="#03034f" stroke-width="3.2" stroke-linecap="round" fill="none"/>
<path d="M943.1 159.5h0M942.4 163.7h0M942.4 161.2h0" stroke="#0505c4" stroke-width="3.2" stroke-linecap="round" fill="none"/>
<path d="M943.0 164.8h0M943.2 163.8h0M942.3 161.5h0" stroke="#4512d9" stroke-width="3.2" stroke-linecap="round" fill="none"/>
<path d="M942.6 166.1h0M943.4 164.1h0M943.3 165.1h0" stroke="#9b22cc" stroke-width="3.2" stroke-linecap="round" fill="none"/>
<path d="M127.5 581.5C129.1 581.3 133.6 581.3 136.9 580.1C140.2 578.9 144.2 577.1 147.6 574.1C150.9 571.1 153.9 566.3 157.0 562.0C160.1 557.7 163.5 552.5 166.4 548.5C169.3 544.5 172.0 540.2 174.5 537.8C177.0 535.3 178.5 534.8 181.2 533.8C183.9 532.8 187.2 532.3 190.6 531.7C194.0 531.1 197.8 531.4 201.4 530.4C205.0 529.4 208.5 526.9 212.1 525.7C215.7 524.5 219.8 523.6 222.9 523.3C226.1 523.0 228.3 522.9 231.0 523.7C233.7 524.6 235.7 526.3 239.0 528.4C242.3 530.5 247.3 533.8 251.1 536.4C254.9 539.0 258.5 542.0 261.9 543.8C265.3 545.5 268.9 546.4 271.3 546.9C273.8 547.4 274.4 547.4 276.6 546.5C278.8 545.6 281.6 544.4 284.7 541.8C287.8 539.2 292.1 534.7 295.5 531.1C298.9 527.5 302.0 522.6 304.9 520.3C307.8 518.0 310.2 517.4 312.9 517.4C315.6 517.4 318.1 517.8 321.0 520.3C323.9 522.8 327.5 528.4 330.4 532.4C333.3 536.4 335.8 541.1 338.5 544.5C341.2 547.9 343.8 551.0 346.5 552.6C349.2 554.2 351.9 554.1 354.6 553.9C357.3 553.7 359.8 552.0 362.7 551.2C365.6 550.4 369.0 549.4 372.1 549.2C375.2 549.0 378.5 549.7 381.5 549.9C384.5 550.1 387.7 550.6 390.0 550.6C392.3 550.6 392.7 551.8 395.4 549.9C398.1 548.0 402.5 542.5 406.1 539.1C409.7 535.7 414.0 531.6 416.9 529.7C419.8 527.8 421.1 527.5 423.6 527.7C426.1 527.9 428.8 529.0 431.7 531.1C434.6 533.2 438.0 536.9 441.1 540.5C444.2 544.1 447.1 548.4 450.5 552.6C453.9 556.9 457.8 562.0 461.2 566.0C464.6 570.0 467.2 573.5 470.6 576.8C474.0 580.0 477.8 583.6 481.4 585.5C485.0 587.4 488.8 588.0 492.1 588.2C495.5 588.4 498.4 588.0 501.5 586.8C504.6 585.6 507.6 583.1 511.0 580.8C514.4 578.4 518.4 574.6 521.7 572.7C525.1 570.8 528.0 570.2 531.1 569.4C534.2 568.6 537.1 569.0 540.5 568.0C543.9 567.0 547.7 565.1 551.3 563.3C554.9 561.5 558.4 558.9 562.0 557.3C565.6 555.7 569.2 554.7 572.8 553.9C576.4 553.1 579.9 552.9 583.5 552.6C587.1 552.3 590.7 552.7 594.3 551.9C597.9 551.1 601.0 549.3 605.0 547.9C609.0 546.5 614.0 544.4 618.5 543.2C623.0 542.0 627.9 541.2 631.9 540.5C635.9 539.8 639.1 539.2 642.7 539.1C646.3 539.0 651.6 539.7 653.4 539.8" fill="none" stroke="#03034f" stroke-width="2.5" stroke-linejoin="round"/>
<path d="M127.5 565.3C129.1 565.2 133.6 565.5 136.9 564.7C140.2 563.9 144.2 562.5 147.6 560.6C150.9 558.7 153.9 555.7 157.0 553.2C160.1 550.8 163.5 547.9 166.4 545.9C169.3 543.9 172.0 541.8 174.5 541.1C177.0 540.4 178.5 540.9 181.2 541.8C183.9 542.7 187.5 544.9 190.6 546.5C193.7 548.1 197.1 550.3 200.0 551.2C202.9 552.1 205.2 553.0 208.1 551.9C211.0 550.8 214.4 547.5 217.5 544.5C220.6 541.5 224.0 537.2 226.9 533.8C229.8 530.4 232.1 526.4 235.0 524.3C237.9 522.2 241.5 521.2 244.4 521.0C247.3 520.8 249.6 521.3 252.5 523.0C255.4 524.7 258.8 528.0 261.9 531.1C265.0 534.2 268.4 538.9 271.3 541.8C274.2 544.7 276.6 546.9 279.3 548.5C282.0 550.1 284.7 551.3 287.4 551.2C290.1 551.1 292.6 549.7 295.5 547.9C298.4 546.1 301.5 542.6 304.9 540.5C308.2 538.4 312.7 535.9 315.6 535.1C318.5 534.3 319.6 534.7 322.3 535.8C325.0 536.9 328.6 539.7 331.7 541.8C334.8 543.9 338.0 547.1 341.1 548.5C344.2 549.9 347.2 550.6 350.6 549.9C354.0 549.2 357.7 546.0 361.3 544.5C364.9 543.0 368.5 541.1 372.1 541.1C375.7 541.1 379.8 543.1 382.8 544.5C385.8 545.9 387.9 548.5 390.0 549.5C392.1 550.5 392.7 551.2 395.4 550.6C398.1 550.0 402.5 547.8 406.1 545.9C409.7 544.0 413.3 540.8 416.9 539.1C420.5 537.4 424.5 536.2 427.6 535.8C430.7 535.3 432.6 535.4 435.7 536.4C438.8 537.4 442.8 539.3 446.4 541.8C450.0 544.3 453.6 547.8 457.2 551.2C460.8 554.6 464.4 558.6 468.0 562.0C471.6 565.4 475.1 568.8 478.7 571.4C482.3 574.0 485.8 576.3 489.4 577.4C493.0 578.5 496.6 578.9 500.2 578.1C503.8 577.3 507.4 574.7 511.0 572.7C514.6 570.7 518.1 567.8 521.7 566.0C525.3 564.2 528.9 562.9 532.5 562.0C536.1 561.1 539.6 561.3 543.2 560.6C546.8 559.9 550.4 558.8 554.0 557.9C557.6 557.0 561.1 556.0 564.7 555.3C568.3 554.6 572.4 554.3 575.5 553.9C578.6 553.5 580.8 554.2 583.5 552.6C586.2 551.0 588.9 547.6 591.6 544.5C594.3 541.4 596.9 536.9 599.6 533.8C602.3 530.7 605.0 527.7 607.7 525.7C610.4 523.7 613.1 522.2 615.8 521.7C618.5 521.2 621.1 521.9 623.8 523.0C626.5 524.1 629.0 526.2 631.9 528.4C634.8 530.6 637.7 534.4 641.3 536.4C644.9 538.4 651.4 539.8 653.4 540.5" fill="none" stroke="#4512d9" stroke-width="2.5" stroke-linejoin="round"/>
<path d="M127.5 567.4C129.1 567.4 133.6 568.3 136.9 567.4C140.2 566.5 144.2 564.1 147.6 562.0C150.9 559.9 153.9 557.3 157.0 554.6C160.1 551.9 163.2 548.1 166.4 545.9C169.6 543.6 173.2 541.8 175.9 541.1C178.6 540.4 179.7 540.8 182.6 541.8C185.5 542.8 190.0 545.6 193.3 547.2C196.7 548.8 199.6 550.8 202.7 551.2C205.8 551.7 208.7 551.0 212.1 549.9C215.5 548.8 219.3 546.3 222.9 544.5C226.5 542.7 230.5 540.2 233.6 539.1C236.7 538.0 239.0 537.8 241.7 537.8C244.4 537.8 246.7 537.8 249.8 539.1C252.9 540.5 256.9 543.0 260.5 545.9C264.1 548.8 267.9 553.2 271.3 556.6C274.7 560.0 277.8 564.1 280.7 566.0C283.6 567.9 285.8 568.2 288.7 568.0C291.6 567.8 294.7 566.8 298.1 564.7C301.5 562.6 305.3 557.6 308.9 555.3C312.5 552.9 316.5 551.0 319.6 550.6C322.7 550.2 324.6 551.2 327.7 552.6C330.8 554.0 335.4 557.7 338.5 559.3C341.6 560.9 343.6 562.0 346.5 562.0C349.4 562.0 352.1 560.6 355.9 559.3C359.7 557.9 365.4 554.3 369.4 553.9C373.4 553.5 376.7 555.5 380.1 556.6C383.5 557.7 386.6 560.4 390.0 560.6C393.4 560.8 397.2 559.9 400.8 557.9C404.4 555.9 407.9 551.4 411.5 548.5C415.1 545.6 418.7 542.3 422.3 540.5C425.9 538.7 429.4 537.7 433.0 537.8C436.6 537.9 440.2 539.3 443.8 541.1C447.4 542.9 450.9 545.7 454.5 548.5C458.1 551.3 461.7 555.3 465.3 557.9C468.9 560.5 472.4 562.6 476.0 564.0C479.6 565.4 483.2 566.0 486.8 566.0C490.4 566.0 493.9 565.1 497.5 564.0C501.1 562.9 504.7 560.8 508.3 559.3C511.9 557.8 515.4 556.1 519.0 555.3C522.6 554.5 526.2 554.5 529.8 554.6C533.4 554.7 536.9 555.9 540.5 555.9C544.1 555.9 547.7 555.4 551.3 554.6C554.9 553.8 558.4 552.3 562.0 551.2C565.6 550.1 569.7 549.2 572.8 547.9C575.9 546.6 577.7 545.8 580.8 543.2C583.9 540.6 588.0 535.8 591.6 532.4C595.2 529.0 598.7 525.2 602.3 523.0C605.9 520.8 610.0 519.5 613.1 519.0C616.2 518.5 618.0 519.0 621.1 520.3C624.2 521.6 628.3 524.1 631.9 527.0C635.5 529.9 639.1 535.2 642.7 537.8C646.3 540.4 651.6 541.7 653.4 542.5" fill="none" stroke="#e9659f" stroke-width="2.5" stroke-linejoin="round"/>
<path d="M127.5 582.6C129.1 582.4 133.6 582.5 136.9 581.4C140.2 580.4 144.2 579.4 147.6 576.3C150.9 573.3 153.9 567.6 157.0 563.1C160.1 558.7 163.5 553.7 166.4 549.7C169.3 545.7 172.0 541.8 174.5 539.2C177.0 536.6 178.5 535.3 181.2 534.2C183.9 533.2 187.2 533.3 190.6 532.9C194.0 532.5 197.8 532.8 201.4 531.9C205.0 531.0 208.5 529.0 212.1 527.6C215.7 526.2 219.8 524.1 222.9 523.5C226.1 523.0 228.3 523.6 231.0 524.4C233.7 525.3 235.7 526.3 239.0 528.6C242.3 530.9 247.3 535.5 251.1 538.3C254.9 541.2 258.5 544.0 261.9 545.5C265.3 546.9 268.9 546.4 271.3 547.0C273.8 547.6 274.4 549.3 276.6 548.9C278.8 548.4 281.6 546.8 284.7 544.1C287.8 541.4 292.1 536.4 295.5 532.7C298.9 528.9 302.0 524.3 304.9 521.8C307.8 519.3 310.2 518.0 312.9 517.8C315.6 517.5 318.1 517.7 321.0 520.3C323.9 523.0 327.5 529.6 330.4 533.7C333.3 537.7 335.8 541.4 338.5 544.6C341.2 547.9 343.8 551.4 346.5 553.1C349.2 554.7 351.9 554.8 354.6 554.5C357.3 554.2 359.8 552.0 362.7 551.3C365.6 550.6 369.0 550.4 372.1 550.3C375.2 550.3 378.5 550.6 381.5 551.0C384.5 551.3 387.7 552.6 390.0 552.6C392.3 552.7 392.7 553.1 395.4 551.1C398.1 549.1 402.5 544.0 406.1 540.6C409.7 537.3 414.0 532.8 416.9 530.9C419.8 529.0 421.1 529.1 423.6 529.3C426.1 529.5 428.8 530.2 431.7 532.2C434.6 534.2 438.0 537.4 441.1 541.2C444.2 545.0 447.1 550.5 450.5 555.0C453.9 559.5 457.8 564.4 461.2 568.4C464.6 572.4 467.2 575.7 470.6 578.8C474.0 582.0 477.8 585.5 481.4 587.2C485.0 588.9 488.8 588.9 492.1 589.0C495.5 589.0 498.4 588.6 501.5 587.4C504.6 586.1 507.6 583.9 511.0 581.5C514.4 579.1 518.4 574.6 521.7 572.9C525.1 571.2 528.0 571.9 531.1 571.2C534.2 570.6 537.1 569.9 540.5 569.0C543.9 568.0 547.7 567.1 551.3 565.3C554.9 563.5 558.4 559.7 562.0 558.2C565.6 556.7 569.2 556.9 572.8 556.2C576.4 555.5 579.9 555.1 583.5 553.8C587.1 552.5 590.7 550.1 594.3 548.5C597.9 546.8 601.0 544.9 605.0 543.7C609.0 542.5 614.0 542.1 618.5 541.3C623.0 540.5 627.9 539.2 631.9 538.9C635.9 538.6 639.1 539.5 642.7 539.7C646.3 539.9 651.6 540.0 653.4 540.0" fill="none" stroke="#3b3590" stroke-width="2.5" stroke-linejoin="round" stroke-dasharray="7.4 3"/>
<path d="M127.5 566.2C129.1 566.2 133.6 566.8 136.9 566.1C140.2 565.4 144.2 564.1 147.6 562.0C150.9 559.9 153.9 556.1 157.0 553.3C160.1 550.6 163.5 547.6 166.4 545.7C169.3 543.8 172.0 542.4 174.5 541.8C177.0 541.2 178.5 541.2 181.2 542.3C183.9 543.3 187.5 546.5 190.6 548.2C193.7 550.0 197.1 551.8 200.0 552.7C202.9 553.5 205.2 554.3 208.1 553.1C211.0 552.0 214.4 548.6 217.5 545.6C220.6 542.6 224.0 538.7 226.9 535.2C229.8 531.7 232.1 526.7 235.0 524.4C237.9 522.2 241.5 522.1 244.4 521.9C247.3 521.6 249.6 521.3 252.5 523.2C255.4 525.1 258.8 530.0 261.9 533.1C265.0 536.2 268.4 538.9 271.3 541.7C274.2 544.6 276.6 548.7 279.3 550.3C282.0 551.8 284.7 551.3 287.4 551.2C290.1 551.0 292.6 551.0 295.5 549.3C298.4 547.7 301.5 543.4 304.9 541.1C308.2 538.9 312.7 536.5 315.6 535.9C318.5 535.3 319.6 536.7 322.3 537.6C325.0 538.6 328.6 539.8 331.7 541.6C334.8 543.4 338.0 546.7 341.1 548.4C344.2 550.2 347.2 552.4 350.6 551.9C354.0 551.4 357.7 547.3 361.3 545.5C364.9 543.7 368.5 540.9 372.1 541.1C375.7 541.3 379.8 544.9 382.8 546.7C385.8 548.4 387.9 550.9 390.0 551.6C392.1 552.2 392.7 551.5 395.4 550.7C398.1 549.9 402.5 548.6 406.1 546.7C409.7 544.8 413.3 541.0 416.9 539.2C420.5 537.5 424.5 536.6 427.6 536.4C430.7 536.1 432.6 536.8 435.7 537.7C438.8 538.6 442.8 539.5 446.4 542.0C450.0 544.5 453.6 549.4 457.2 552.7C460.8 556.0 464.4 558.8 468.0 561.9C471.6 565.1 475.1 568.7 478.7 571.6C482.3 574.5 485.8 577.9 489.4 579.2C493.0 580.4 496.6 579.8 500.2 578.9C503.8 577.9 507.4 575.4 511.0 573.5C514.6 571.6 518.1 569.0 521.7 567.2C525.3 565.5 528.9 563.9 532.5 562.9C536.1 562.0 539.6 562.2 543.2 561.3C546.8 560.5 550.4 558.5 554.0 557.8C557.6 557.0 561.1 557.1 564.7 556.8C568.3 556.6 572.4 556.4 575.5 556.0C578.6 555.7 580.8 556.4 583.5 554.7C586.2 553.1 588.9 549.3 591.6 545.9C594.3 542.5 596.9 537.7 599.6 534.5C602.3 531.2 605.0 528.3 607.7 526.4C610.4 524.5 613.1 523.5 615.8 523.2C618.5 522.8 621.1 523.5 623.8 524.4C626.5 525.3 629.0 526.4 631.9 528.5C634.8 530.5 637.7 534.6 641.3 536.8C644.9 538.9 651.4 540.4 653.4 541.2" fill="none" stroke="#7444dc" stroke-width="2.5" stroke-linejoin="round" stroke-dasharray="7.4 3"/>
<path d="M127.5 565.2C129.1 565.4 133.6 567.0 136.9 566.2C140.2 565.5 144.2 562.9 147.6 560.8C150.9 558.8 153.9 556.7 157.0 553.8C160.1 551.0 163.2 546.0 166.4 543.5C169.6 541.0 173.2 539.6 175.9 538.9C178.6 538.2 179.7 538.3 182.6 539.4C185.5 540.4 190.0 543.1 193.3 544.9C196.7 546.7 199.6 549.7 202.7 550.2C205.8 550.6 208.7 548.6 212.1 547.4C215.5 546.2 219.3 544.7 222.9 543.0C226.5 541.2 230.5 538.0 233.6 536.8C236.7 535.6 239.0 535.6 241.7 535.7C244.4 535.8 246.7 535.8 249.8 537.3C252.9 538.9 256.9 542.1 260.5 545.1C264.1 548.1 267.9 552.2 271.3 555.3C274.7 558.3 277.8 561.5 280.7 563.2C283.6 565.0 285.8 566.0 288.7 565.9C291.6 565.7 294.7 564.1 298.1 562.3C301.5 560.4 305.3 556.7 308.9 554.6C312.5 552.5 316.5 550.2 319.6 549.7C322.7 549.3 324.6 550.3 327.7 551.7C330.8 553.2 335.4 556.9 338.5 558.5C341.6 560.0 343.6 560.9 346.5 561.0C349.4 561.0 352.1 560.1 355.9 558.8C359.7 557.4 365.4 553.7 369.4 553.0C373.4 552.3 376.7 553.3 380.1 554.4C383.5 555.6 386.6 559.5 390.0 559.8C393.4 560.1 397.2 558.3 400.8 556.3C404.4 554.2 407.9 550.4 411.5 547.5C415.1 544.6 418.7 541.0 422.3 539.1C425.9 537.1 429.4 536.0 433.0 536.0C436.6 536.1 440.2 537.4 443.8 539.2C447.4 541.0 450.9 544.0 454.5 546.7C458.1 549.5 461.7 553.4 465.3 555.9C468.9 558.3 472.4 559.9 476.0 561.5C479.6 563.0 483.2 564.9 486.8 565.2C490.4 565.4 493.9 564.2 497.5 563.1C501.1 562.1 504.7 560.4 508.3 558.9C511.9 557.4 515.4 555.1 519.0 554.2C522.6 553.2 526.2 553.0 529.8 553.1C533.4 553.3 536.9 555.1 540.5 554.9C544.1 554.7 547.7 552.9 551.3 552.1C554.9 551.3 558.4 551.0 562.0 550.0C565.6 549.0 569.7 547.7 572.8 546.2C575.9 544.6 577.7 543.5 580.8 540.8C583.9 538.1 588.0 533.3 591.6 530.1C595.2 526.9 598.7 523.7 602.3 521.5C605.9 519.2 610.0 517.3 613.1 516.8C616.2 516.3 618.0 517.1 621.1 518.6C624.2 520.1 628.3 522.8 631.9 525.7C635.5 528.5 639.1 533.6 642.7 535.9C646.3 538.3 651.6 539.3 653.4 540.0" fill="none" stroke="#f2a2cc" stroke-width="2.5" stroke-linejoin="round" stroke-dasharray="7.4 3"/>
<path d="M945.3 547.1h0M964.7 519.9h0M941.1 553.6h0M971.0 523.9h0M916.0 572.9h0M945.1 542.4h0M954.4 537.9h0M938.1 552.8h0M926.1 566.9h0" stroke="#4512d9" stroke-width="4.8" stroke-linecap="round" fill="none"/>
<path d="M936.0 553.4h0M935.3 554.4h0M936.2 555.2h0M928.2 564.5h0M927.6 562.1h0M931.3 558.9h0M926.2 565.0h0M953.7 536.4h0M931.6 560.8h0" stroke="#e9659f" stroke-width="4.8" stroke-linecap="round" fill="none"/>
<path d="M951.8 535.7h0M942.5 547.4h0M926.0 566.2h0M919.9 576.1h0M956.6 532.1h0M927.7 557.7h0M941.4 549.0h0M938.0 552.6h0M941.8 551.0h0" stroke="#0505c4" stroke-width="4.8" stroke-linecap="round" fill="none"/>
<path d="M946.1 545.4h0M934.4 555.0h0M926.5 570.1h0M945.0 550.8h0M956.2 528.6h0M959.4 530.3h0M929.1 563.2h0M931.9 559.2h0M952.0 541.1h0" stroke="#9b22cc" stroke-width="4.8" stroke-linecap="round" fill="none"/>
<path d="M962.4 531.7h0M947.9 545.2h0M964.0 526.4h0M956.5 532.5h0M955.5 537.6h0M943.1 553.5h0M940.0 551.2h0M942.5 550.3h0M971.8 518.0h0" stroke="#03034f" stroke-width="4.8" stroke-linecap="round" fill="none"/>
<path d="M933.4 554.1h0M941.8 546.1h0M933.1 564.8h0M949.1 543.9h0M954.3 537.3h0M942.2 548.9h0M932.0 558.5h0M966.8 520.6h0M934.8 556.1h0" stroke="#e9659f" stroke-width="4.8" stroke-linecap="round" fill="none"/>
<path d="M944.5 546.6h0M960.8 526.7h0M942.3 552.0h0M948.5 537.7h0M932.0 559.2h0M962.6 526.6h0M944.2 548.3h0M934.0 560.4h0M943.0 545.6h0" stroke="#0505c4" stroke-width="4.8" stroke-linecap="round" fill="none"/>
<path d="M951.1 538.3h0M935.0 558.8h0M962.7 524.6h0M925.0 568.6h0M938.7 547.6h0M970.3 523.3h0M930.5 562.6h0M934.3 558.0h0M938.7 552.5h0" stroke="#9b22cc" stroke-width="4.8" stroke-linecap="round" fill="none"/>
<path d="M923.5 564.0h0M964.3 523.6h0M959.4 533.9h0M949.8 543.3h0M953.2 540.9h0M946.7 544.7h0M907.1 588.2h0M941.4 547.9h0M936.2 552.5h0" stroke="#03034f" stroke-width="4.8" stroke-linecap="round" fill="none"/>
<path d="M928.8 563.1h0M951.5 537.4h0M958.4 532.9h0M913.4 580.7h0M939.9 551.6h0M946.3 545.4h0M967.5 522.3h0M952.2 541.6h0M967.4 519.8h0" stroke="#4512d9" stroke-width="4.8" stroke-linecap="round" fill="none"/>
<path d="M961.0 530.9h0M922.1 572.6h0M961.7 533.6h0M965.2 526.5h0M939.6 550.5h0M956.3 532.9h0M952.3 538.5h0M948.4 539.3h0M951.2 539.6h0" stroke="#0505c4" stroke-width="4.8" stroke-linecap="round" fill="none"/>
<path d="M950.5 544.4h0M934.0 557.9h0M955.0 534.7h0M922.7 570.2h0M959.0 530.5h0M924.1 562.8h0M942.5 550.5h0M945.0 546.6h0M938.7 550.8h0" stroke="#9b22cc" stroke-width="4.8" stroke-linecap="round" fill="none"/>
<path d="M950.9 544.1h0M962.4 532.6h0M954.0 540.3h0M925.7 567.0h0M922.0 567.0h0M944.6 546.6h0M942.2 547.5h0M945.8 547.3h0M923.1 568.3h0" stroke="#03034f" stroke-width="4.8" stroke-linecap="round" fill="none"/>
<path d="M929.8 561.9h0M928.7 562.8h0M927.8 563.0h0M967.7 528.5h0M942.0 549.6h0M943.9 546.6h0M963.5 521.5h0M940.0 546.3h0M925.8 568.2h0" stroke="#4512d9" stroke-width="4.8" stroke-linecap="round" fill="none"/>
<path d="M935.6 552.8h0M972.6 515.5h0M937.1 552.1h0M925.9 564.4h0M954.5 534.7h0M938.6 551.0h0M933.2 557.3h0M929.9 560.9h0M949.9 540.3h0" stroke="#e9659f" stroke-width="4.8" stroke-linecap="round" fill="none"/>
<path d="M936.9 551.4h0M943.9 546.3h0M950.8 540.5h0M929.0 562.1h0M923.4 568.0h0M953.7 538.2h0M960.8 532.1h0M938.7 554.9h0M951.8 543.8h0" stroke="#9b22cc" stroke-width="4.8" stroke-linecap="round" fill="none"/>
<path d="M940.5 553.3h0M940.0 549.3h0M918.2 575.2h0M911.5 582.4h0M937.9 555.4h0M940.2 551.0h0M952.5 536.2h0M927.3 564.3h0M962.5 530.2h0" stroke="#03034f" stroke-width="4.8" stroke-linecap="round" fill="none"/>
<path d="M930.6 559.9h0M946.7 544.3h0M941.1 555.2h0M944.8 546.2h0M951.2 538.7h0M942.3 550.3h0M917.3 577.5h0M950.1 537.4h0M943.0 551.8h0" stroke="#4512d9" stroke-width="4.8" stroke-linecap="round" fill="none"/>
<path d="M970.8 522.3h0M952.6 537.5h0M950.0 539.5h0M943.2 549.9h0M951.4 536.1h0M959.2 532.2h0M951.4 539.3h0M942.5 552.6h0M925.0 565.9h0" stroke="#e9659f" stroke-width="4.8" stroke-linecap="round" fill="none"/>
<path d="M942.8 546.5h0M944.6 545.6h0M952.4 535.1h0M911.2 580.1h0M954.2 538.7h0M939.1 553.8h0M911.9 584.0h0M958.6 535.0h0M958.7 533.3h0" stroke="#0505c4" stroke-width="4.8" stroke-linecap="round" fill="none"/>
<path d="M953.3 538.2h0M939.3 556.1h0M908.8 577.1h0M941.0 553.0h0M934.7 556.9h0M921.0 569.5h0M912.2 583.3h0M942.0 551.5h0M958.4 532.8h0" stroke="#03034f" stroke-width="4.8" stroke-linecap="round" fill="none"/>
<path d="M918.1 579.1h0M933.4 559.3h0M938.1 558.1h0M954.4 541.7h0M942.8 548.9h0M949.2 546.1h0M946.9 545.3h0M947.3 541.0h0M934.0 561.1h0" stroke="#4512d9" stroke-width="4.8" stroke-linecap="round" fill="none"/>
<path d="M929.8 559.1h0M941.9 545.9h0M935.9 550.6h0M935.3 553.8h0M945.5 539.8h0M962.4 522.6h0M946.3 541.6h0M924.0 566.3h0M934.9 560.6h0" stroke="#e9659f" stroke-width="4.8" stroke-linecap="round" fill="none"/>
<path d="M948.3 541.7h0M962.2 527.8h0M912.8 578.2h0M948.7 537.4h0M910.5 583.5h0M948.1 543.1h0M928.3 565.4h0M944.9 545.6h0M953.4 537.3h0" stroke="#0505c4" stroke-width="4.8" stroke-linecap="round" fill="none"/>
<path d="M946.4 542.9h0M920.1 571.3h0M968.4 520.2h0M942.6 551.7h0M933.5 561.2h0M933.1 557.8h0M953.7 542.5h0M938.6 558.9h0M932.8 562.6h0" stroke="#9b22cc" stroke-width="4.8" stroke-linecap="round" fill="none"/>
<path d="M969.1 520.9h0M948.1 542.8h0M957.7 537.2h0M921.5 568.0h0M940.9 550.9h0M934.0 558.7h0M930.1 560.3h0M965.5 527.4h0M941.2 546.6h0" stroke="#4512d9" stroke-width="4.8" stroke-linecap="round" fill="none"/>
<path d="M932.2 553.9h0M941.2 546.1h0M949.7 539.5h0M935.9 555.9h0M939.8 547.6h0M935.1 556.4h0M941.0 551.0h0M931.9 557.2h0M931.4 557.0h0" stroke="#e9659f" stroke-width="4.8" stroke-linecap="round" fill="none"/>
<path d="M917.1 573.2h0M926.7 564.3h0M944.9 546.1h0M954.1 537.1h0M950.6 538.8h0M964.7 524.7h0M962.0 527.4h0M945.2 548.2h0M952.5 542.0h0" stroke="#0505c4" stroke-width="4.8" stroke-linecap="round" fill="none"/>
<path d="M939.0 554.5h0M945.3 543.0h0M953.1 542.9h0M937.0 556.0h0M941.4 548.9h0M939.2 548.6h0M947.8 540.2h0M952.0 540.2h0M963.3 528.6h0" stroke="#9b22cc" stroke-width="4.8" stroke-linecap="round" fill="none"/>
<path d="M967.2 520.8h0M942.2 550.6h0M911.3 583.1h0M957.3 531.4h0M957.3 535.4h0M953.0 534.1h0M931.4 562.5h0M952.7 543.1h0M972.9 519.0h0" stroke="#03034f" stroke-width="4.8" stroke-linecap="round" fill="none"/>
<path d="M944.6 551.1h0M934.2 552.7h0M943.8 542.9h0M937.8 551.1h0M953.1 539.3h0M928.1 565.2h0M951.7 537.7h0M925.5 568.1h0M929.9 564.5h0" stroke="#e9659f" stroke-width="4.8" stroke-linecap="round" fill="none"/>
<path d="M951.9 537.9h0M923.8 569.0h0M945.4 543.3h0M957.6 536.7h0M927.9 567.3h0M939.6 552.8h0M953.5 542.6h0M949.7 541.4h0M950.0 541.4h0" stroke="#0505c4" stroke-width="4.8" stroke-linecap="round" fill="none"/>
<path d="M934.0 558.3h0M940.9 552.1h0M950.3 543.1h0M954.7 537.6h0M938.3 550.8h0M929.2 560.1h0M937.0 554.5h0M924.9 567.4h0M936.9 554.1h0" stroke="#9b22cc" stroke-width="4.8" stroke-linecap="round" fill="none"/>
<path d="M905.9 590.3h0M907.0 585.7h0M953.4 536.1h0M965.6 526.4h0M948.0 541.1h0M939.7 556.1h0M943.0 550.6h0M917.1 577.9h0M963.0 529.3h0" stroke="#03034f" stroke-width="4.8" stroke-linecap="round" fill="none"/>
<path d="M915.6 577.7h0M931.6 562.9h0M943.0 547.3h0M955.9 536.6h0M960.8 526.8h0M947.4 539.7h0M943.2 552.4h0M956.4 538.9h0M947.0 546.4h0" stroke="#4512d9" stroke-width="4.8" stroke-linecap="round" fill="none"/>
<path d="M955.1 534.3h0M958.1 528.0h0M949.8 539.9h0M938.6 547.4h0M925.5 565.6h0M918.1 573.0h0M955.8 535.6h0M954.9 535.6h0M948.1 544.3h0" stroke="#0505c4" stroke-width="4.8" stroke-linecap="round" fill="none"/>
<path d="M948.1 542.5h0M955.0 533.4h0M940.1 553.1h0M954.9 538.8h0M948.8 538.2h0M947.6 545.4h0M938.9 551.4h0M944.3 549.5h0M953.0 539.2h0" stroke="#9b22cc" stroke-width="4.8" stroke-linecap="round" fill="none"/>
<path d="M913.1 586.5h0M937.3 555.3h0M949.5 533.4h0M933.8 560.2h0M912.9 580.5h0M911.1 579.2h0M932.4 561.3h0M949.8 540.0h0M941.3 550.7h0" stroke="#03034f" stroke-width="4.8" stroke-linecap="round" fill="none"/>
<path d="M957.7 528.7h0M954.5 535.4h0M948.9 546.6h0M921.1 570.5h0M937.2 554.6h0M943.8 547.3h0M970.6 516.3h0M956.1 533.1h0M958.6 538.8h0" stroke="#4512d9" stroke-width="4.8" stroke-linecap="round" fill="none"/>
<path d="M938.6 549.9h0M936.8 551.3h0M937.5 555.5h0M950.4 542.6h0M936.1 550.6h0M970.3 517.4h0M931.2 555.4h0M933.0 557.3h0M960.1 525.2h0" stroke="#e9659f" stroke-width="4.8" stroke-linecap="round" fill="none"/>
<path d="M934.1 556.6h0M934.5 557.3h0M939.5 550.9h0M933.8 553.2h0M944.2 555.2h0M943.3 549.8h0M967.6 524.2h0M934.6 558.5h0M955.2 540.5h0" stroke="#9b22cc" stroke-width="4.8" stroke-linecap="round" fill="none"/>
<path d="M967.8 525.3h0M945.0 550.6h0M963.9 523.5h0M946.8 548.3h0M952.8 534.3h0M929.9 559.2h0M922.6 567.3h0M951.1 536.2h0M937.6 556.3h0" stroke="#03034f" stroke-width="4.8" stroke-linecap="round" fill="none"/>
<path d="M940.7 546.9h0M940.1 549.4h0M954.4 533.4h0M935.6 557.3h0M949.2 541.4h0M945.3 545.0h0M945.6 544.9h0M943.9 547.4h0M949.4 549.4h0" stroke="#4512d9" stroke-width="4.8" stroke-linecap="round" fill="none"/>
<path d="M937.0 556.0h0M959.3 531.6h0M926.3 564.4h0M941.4 547.3h0M941.1 550.9h0M956.8 540.0h0M952.7 536.2h0M931.4 555.4h0M948.7 542.5h0" stroke="#e9659f" stroke-width="4.8" stroke-linecap="round" fill="none"/>
<path d="M927.8 566.8h0M943.6 549.5h0M917.1 577.0h0M946.3 545.2h0M950.0 541.0h0M925.3 565.8h0M922.3 570.5h0M914.9 579.7h0M937.0 557.2h0" stroke="#0505c4" stroke-width="4.8" stroke-linecap="round" fill="none"/>
<path d="M963.5 527.3h0M973.0 517.2h0M918.0 573.8h0M904.6 589.4h0M948.4 546.6h0M960.4 525.1h0M963.0 522.9h0M961.2 532.1h0M956.3 536.7h0M943.8 551.6h0" stroke="#03034f" stroke-width="4.8" stroke-linecap="round" fill="none"/>
<path d="M940.7 550.2h0M952.7 540.0h0M960.0 533.9h0M937.6 553.9h0M954.1 534.2h0M951.2 541.0h0M934.5 560.5h0M950.7 536.1h0M927.4 567.3h0M952.1 538.1h0" stroke="#4512d9" stroke-width="4.8" stroke-linecap="round" fill="none"/>
<path d="M942.7 551.6h0M937.3 556.9h0M945.2 543.6h0M932.0 563.8h0M947.5 539.9h0M934.9 548.2h0M948.5 538.4h0M942.8 549.8h0M925.2 566.3h0M964.9 526.2h0" stroke="#e9659f" stroke-width="4.8" stroke-linecap="round" fill="none"/>
<path d="M952.7 539.1h0M946.0 547.8h0M922.5 570.7h0M948.6 544.9h0M946.2 542.0h0M935.9 553.1h0M938.3 555.1h0M962.7 528.3h0M959.7 532.5h0M959.1 535.0h0" stroke="#0505c4" stroke-width="4.8" stroke-linecap="round" fill="none"/>
<path d="M934.2 555.8h0M941.8 549.2h0M943.8 549.9h0M922.2 569.0h0M953.2 527.4h0M938.2 548.0h0M969.8 522.8h0M943.9 549.4h0M941.7 549.8h0M936.8 549.2h0" stroke="#9b22cc" stroke-width="4.8" stroke-linecap="round" fill="none"/>
<path d="M127.7 980.4C130.0 979.4 136.6 977.0 141.3 974.2C146.0 971.4 150.6 966.8 155.8 963.8C161.0 960.8 167.6 959.1 172.5 956.5C177.4 953.9 180.8 952.1 185.0 948.1C189.2 944.1 193.3 938.9 197.5 932.5C201.7 926.1 205.8 917.6 210.0 909.6C214.2 901.6 218.3 893.3 222.5 884.6C226.7 875.9 231.7 863.0 235.0 857.5C238.3 852.0 239.5 850.2 242.3 851.3C245.1 852.3 248.8 856.9 251.7 863.8C254.6 870.7 256.9 882.8 260.0 892.9C263.1 903.0 267.3 914.8 270.4 924.2C273.5 933.6 276.4 943.5 278.8 949.2C281.2 954.9 282.6 957.8 285.0 958.5C287.4 959.2 290.2 959.0 293.3 953.3C296.4 947.6 300.3 935.0 303.8 924.2C307.3 913.5 310.7 899.9 314.2 888.8C317.7 877.7 320.8 865.0 324.6 857.5C328.4 850.0 333.3 845.4 337.1 844.0C340.9 842.6 344.0 843.5 347.5 849.2C351.0 854.9 354.4 867.5 357.9 878.3C361.4 889.1 364.8 903.4 368.3 913.8C371.8 924.2 375.3 933.9 378.8 940.8C382.3 947.7 385.7 951.9 389.2 955.4C392.7 958.9 397.8 960.3 400.0 962.0C402.2 963.7 400.0 963.1 402.5 965.8C405.0 968.5 410.8 973.1 415.0 978.3C419.2 983.5 423.7 992.6 427.5 997.1C431.3 1001.6 434.1 1005.0 437.9 1005.4C441.7 1005.8 445.9 1002.2 450.4 999.2C454.9 996.2 460.8 989.6 465.0 987.7C469.2 985.8 471.6 986.1 475.4 987.7C479.2 989.3 484.1 993.1 487.9 997.1C491.7 1001.1 494.8 1007.5 498.3 1011.7C501.8 1015.9 505.3 1020.6 508.8 1022.1C512.3 1023.6 515.4 1022.7 519.2 1021.0C523.0 1019.3 527.5 1016.0 531.7 1011.7C535.9 1007.4 540.0 1001.2 544.2 995.0C548.4 988.8 552.5 980.8 556.7 974.2C560.9 967.6 565.0 959.8 569.2 955.4C573.4 951.0 577.5 948.8 581.7 948.1C585.9 947.4 590.4 949.0 594.2 951.3C598.0 953.6 601.5 958.9 604.6 961.7C607.7 964.5 610.1 968.2 612.9 967.9C615.7 967.5 618.5 965.1 621.3 959.6C624.1 954.1 626.5 943.3 629.6 934.6C632.7 925.9 636.9 914.1 640.0 907.5C643.1 900.9 646.0 897.8 648.3 895.0C650.5 892.2 652.6 891.5 653.5 890.8" fill="none" stroke="#03034f" stroke-width="2.5" stroke-linejoin="round"/>
<path d="M127.7 922.5C131.0 922.7 141.8 922.2 147.5 923.5C153.2 924.8 157.2 927.2 162.1 930.4C167.0 933.6 172.2 939.6 176.7 942.9C181.2 946.2 185.4 949.9 189.2 950.2C193.0 950.6 196.1 949.3 199.6 945.0C203.1 940.7 206.2 933.9 210.0 924.2C213.8 914.5 218.3 899.6 222.5 886.7C226.7 873.9 231.7 855.1 235.0 847.1C238.3 839.1 239.5 838.4 242.3 838.8C245.1 839.1 248.0 841.9 251.7 849.2C255.3 856.5 260.0 871.7 264.2 882.5C268.4 893.3 272.9 906.5 276.7 913.8C280.5 921.1 283.6 925.3 287.1 926.3C290.6 927.3 293.7 923.5 297.5 920.0C301.3 916.5 305.8 909.9 310.0 905.4C314.2 900.9 318.3 896.7 322.5 892.9C326.7 889.1 331.2 883.9 335.0 882.5C338.8 881.1 341.9 882.2 345.4 884.6C348.9 887.0 352.0 891.2 355.8 897.1C359.6 903.0 364.5 913.9 368.3 920.0C372.1 926.1 375.3 931.4 378.8 933.5C382.3 935.6 385.6 933.4 389.2 932.5C392.8 931.6 396.4 926.2 400.4 928.3C404.3 930.4 408.7 937.4 412.9 945.0C417.1 952.6 421.2 966.7 425.4 974.2C429.6 981.7 433.7 989.1 437.9 989.8C442.1 990.5 446.2 983.3 450.4 978.3C454.6 973.3 459.1 963.4 462.9 959.6C466.7 955.8 469.5 954.4 473.3 955.4C477.1 956.4 481.6 960.6 485.8 965.8C490.0 971.0 494.1 980.3 498.3 986.7C502.5 993.1 507.3 1001.6 510.8 1004.4C514.3 1007.2 515.7 1005.9 519.2 1003.3C522.7 1000.7 527.5 995.0 531.7 988.8C535.9 982.5 540.0 973.8 544.2 965.8C548.4 957.8 552.9 948.1 556.7 940.8C560.5 933.5 563.6 926.3 567.1 922.1C570.6 917.9 573.7 915.4 577.5 915.8C581.3 916.1 585.8 920.9 590.0 924.2C594.2 927.5 598.7 932.8 602.5 935.6C606.3 938.4 609.4 941.3 612.9 940.8C616.4 940.3 619.5 936.7 623.3 932.5C627.1 928.3 632.0 919.4 635.8 915.8C639.6 912.1 643.3 911.6 646.3 910.6C649.2 909.6 652.3 909.8 653.5 909.6" fill="none" stroke="#4512d9" stroke-width="2.5" stroke-linejoin="round"/>
<path d="M127.7 938.8C130.0 937.8 137.0 934.9 141.3 932.5C145.7 930.1 150.0 924.6 153.8 924.2C157.6 923.9 161.1 925.5 164.2 930.4C167.3 935.2 169.4 944.6 172.5 953.3C175.6 962.0 179.4 975.7 182.9 982.5C186.4 989.3 189.8 994.0 193.3 994.0C196.8 994.0 200.3 992.0 203.8 982.5C207.3 973.0 210.4 952.7 214.2 936.7C218.0 920.7 222.9 900.2 226.7 886.7C230.5 873.2 234.1 862.0 237.1 855.4C240.1 848.8 241.6 846.8 244.4 847.1C247.2 847.5 250.2 850.5 253.8 857.5C257.4 864.5 262.1 879.1 266.3 888.8C270.5 898.5 275.0 909.2 278.8 915.8C282.6 922.4 285.7 925.9 289.2 928.3C292.7 930.7 296.1 931.8 299.6 930.4C303.1 929.0 306.5 925.2 310.0 920.0C313.5 914.8 316.9 905.5 320.4 899.2C323.9 893.0 327.7 886.0 330.8 882.5C333.9 879.0 336.1 877.6 339.2 878.3C342.3 879.0 345.8 882.2 349.6 886.7C353.4 891.2 358.3 900.9 362.1 905.4C365.9 909.9 368.7 914.1 372.5 913.8C376.3 913.4 381.9 906.4 385.0 903.3C388.1 900.2 388.4 896.9 391.0 895.0C393.6 893.1 397.1 890.5 400.4 891.9C403.7 893.3 407.0 896.2 410.8 903.3C414.6 910.4 419.1 925.9 423.3 934.6C427.5 943.3 432.0 951.4 435.8 955.4C439.6 959.4 442.5 959.0 446.3 958.5C450.1 958.0 454.6 953.3 458.8 952.3C463.0 951.3 467.1 950.0 471.3 952.3C475.5 954.5 479.6 959.4 483.8 965.8C488.0 972.2 492.5 983.1 496.3 990.8C500.1 998.4 503.2 1006.8 506.7 1011.7C510.2 1016.6 513.6 1019.0 517.1 1020.4C520.6 1021.8 523.7 1023.9 527.5 1020.0C531.3 1016.1 535.8 1007.9 540.0 997.1C544.2 986.3 548.3 970.0 552.5 955.4C556.7 940.8 560.8 920.4 565.0 909.6C569.2 898.8 573.3 894.3 577.5 890.8C581.7 887.3 586.2 889.7 590.0 888.8C593.8 887.9 596.6 886.7 600.4 885.6C604.2 884.5 609.1 881.9 612.9 882.1C616.7 882.3 619.8 883.9 623.3 886.7C626.8 889.6 630.3 894.4 633.8 899.2C637.3 904.1 640.9 911.8 644.2 915.8C647.5 919.8 652.0 921.9 653.5 923.1" fill="none" stroke="#e9659f" stroke-width="2.5" stroke-linejoin="round"/>
<path d="M127.7 965.8C130.0 963.7 136.3 957.1 141.3 953.3C146.3 949.5 151.7 946.2 157.9 942.9C164.2 939.6 171.9 939.8 178.8 933.5C185.8 927.2 193.7 914.6 199.6 905.4C205.5 896.2 209.7 887.3 214.2 878.3C218.7 869.3 222.9 857.7 226.7 851.3C230.5 844.9 234.3 841.9 237.1 839.8C239.9 837.7 240.5 836.2 243.3 838.8C246.1 841.4 250.3 846.7 253.8 855.4C257.3 864.1 260.7 879.7 264.2 890.8C267.7 901.9 271.1 913.8 274.6 922.1C278.1 930.4 281.5 939.1 285.0 940.8C288.5 942.5 291.9 939.4 295.4 932.5C298.9 925.6 302.3 911.0 305.8 899.2C309.3 887.4 312.8 871.8 316.3 861.7C319.8 851.6 323.2 843.8 326.7 838.8C330.2 833.8 333.6 831.5 337.1 831.5C340.6 831.5 343.7 832.0 347.5 838.8C351.3 845.6 355.8 860.3 360.0 872.1C364.2 883.9 368.3 899.2 372.5 909.6C376.7 920.0 381.8 929.5 385.0 934.6C388.2 939.7 388.7 936.9 392.0 940.0C395.3 943.1 400.4 947.6 404.6 953.3C408.8 959.0 412.9 968.0 417.1 974.2C421.3 980.5 425.8 987.7 429.6 990.8C433.4 993.9 436.2 994.6 440.0 992.9C443.8 991.2 448.0 984.0 452.5 980.4C457.0 976.8 462.6 971.4 467.1 971.0C471.6 970.6 475.4 973.9 479.6 978.3C483.8 982.6 487.9 990.9 492.1 997.1C496.3 1003.4 500.8 1012.1 504.6 1015.8C508.4 1019.4 511.2 1021.1 515.0 1019.0C518.8 1016.9 523.3 1009.4 527.5 1003.3C531.7 997.2 535.5 990.8 540.0 982.5C544.5 974.2 549.7 960.9 554.6 953.3C559.5 945.7 564.7 941.0 569.2 936.7C573.7 932.4 577.5 928.0 581.7 927.3C585.9 926.6 590.0 929.2 594.2 932.5C598.4 935.8 603.2 943.8 606.7 947.1C610.2 950.4 612.6 953.3 615.0 952.3C617.4 951.2 618.9 947.2 621.3 940.8C623.7 934.4 626.5 922.8 629.6 913.8C632.7 904.8 636.0 893.5 640.0 886.7C644.0 879.9 651.2 875.4 653.5 873.1" fill="none" stroke="#3b3590" stroke-width="2.5" stroke-linejoin="round" stroke-dasharray="7.4 3"/>
<path d="M127.7 927.3C131.0 927.3 141.8 926.4 147.5 927.5C153.2 928.6 157.2 930.6 162.1 934.0C167.0 937.4 172.2 944.2 176.7 948.0C181.2 951.8 185.4 956.2 189.2 956.5C193.0 956.8 196.1 954.8 199.6 950.0C203.1 945.2 206.2 938.0 210.0 928.0C213.8 918.0 218.3 903.0 222.5 890.0C226.7 877.0 231.7 857.8 235.0 850.0C238.3 842.2 239.5 842.5 242.3 843.0C245.1 843.5 248.0 845.7 251.7 853.0C255.3 860.3 260.0 876.2 264.2 887.0C268.4 897.8 272.9 911.0 276.7 918.0C280.5 925.0 283.6 928.3 287.1 929.0C290.6 929.7 293.7 925.7 297.5 922.0C301.3 918.3 305.8 911.7 310.0 907.0C314.2 902.3 318.3 897.9 322.5 894.0C326.7 890.1 331.2 884.8 335.0 883.5C338.8 882.2 341.9 883.4 345.4 886.0C348.9 888.6 352.0 893.2 355.8 899.0C359.6 904.8 364.5 915.2 368.3 921.0C372.1 926.8 375.3 932.0 378.8 934.0C382.3 936.0 385.6 933.7 389.2 933.0C392.8 932.3 396.4 927.5 400.4 930.0C404.3 932.5 408.7 940.0 412.9 948.0C417.1 956.0 421.2 970.2 425.4 978.0C429.6 985.8 433.7 994.0 437.9 995.0C442.1 996.0 446.2 989.3 450.4 984.0C454.6 978.7 459.1 966.8 462.9 963.0C466.7 959.2 469.5 959.7 473.3 961.0C477.1 962.3 481.6 966.0 485.8 971.0C490.0 976.0 494.1 984.7 498.3 991.0C502.5 997.3 507.3 1006.3 510.8 1009.0C514.3 1011.7 515.7 1010.0 519.2 1007.0C522.7 1004.0 527.5 997.5 531.7 991.0C535.9 984.5 540.0 976.0 544.2 968.0C548.4 960.0 552.9 950.3 556.7 943.0C560.5 935.7 563.6 928.5 567.1 924.0C570.6 919.5 573.7 916.0 577.5 916.0C581.3 916.0 585.8 921.0 590.0 924.0C594.2 927.0 598.7 931.6 602.5 934.0C606.3 936.4 609.4 939.0 612.9 938.5C616.4 938.0 619.5 934.6 623.3 931.0C627.1 927.4 632.0 920.0 635.8 917.0C639.6 914.0 643.3 913.7 646.3 913.0C649.2 912.3 652.3 912.8 653.5 912.8" fill="none" stroke="#7444dc" stroke-width="2.5" stroke-linejoin="round" stroke-dasharray="7.4 3"/>
<path d="M127.7 947.1C130.0 945.7 137.3 941.6 141.3 938.8C145.3 936.0 148.2 930.8 151.7 930.4C155.2 930.0 158.6 931.1 162.1 936.7C165.6 942.3 169.0 954.1 172.5 963.8C176.0 973.5 179.6 988.2 182.9 995.0C186.2 1001.8 189.2 1004.1 192.3 1004.4C195.4 1004.7 198.4 1005.2 201.7 997.0C205.0 988.8 208.3 971.0 212.1 955.4C215.9 939.8 220.4 918.9 224.6 903.3C228.8 887.7 233.8 870.4 237.1 861.7C240.4 853.0 241.3 850.6 244.4 851.3C247.5 852.0 251.8 857.8 255.8 865.8C259.8 873.8 264.1 889.5 268.3 899.2C272.5 908.9 276.6 918.0 280.8 924.2C285.0 930.5 289.5 935.3 293.3 936.7C297.1 938.1 300.0 937.4 303.8 932.5C307.6 927.6 312.1 915.1 316.3 907.5C320.5 899.9 325.0 890.9 328.8 886.7C332.6 882.5 335.4 880.8 339.2 882.5C343.0 884.2 347.5 891.9 351.7 897.1C355.9 902.3 360.4 910.0 364.2 913.8C368.0 917.6 370.8 920.4 374.6 920.0C378.4 919.6 384.5 914.5 387.1 911.7C389.7 908.9 387.8 905.2 390.0 903.3C392.2 901.4 396.9 898.8 400.4 900.2C403.9 901.6 407.0 904.2 410.8 911.7C414.6 919.2 419.1 936.3 423.3 945.0C427.5 953.7 432.0 960.0 435.8 963.8C439.6 967.6 442.5 967.9 446.3 967.9C450.1 967.9 454.6 964.8 458.8 963.8C463.0 962.8 467.1 960.3 471.3 961.7C475.5 963.1 479.3 965.9 483.8 972.1C488.3 978.4 493.8 990.5 498.3 999.2C502.8 1007.9 507.0 1018.3 510.8 1024.2C514.6 1030.1 517.8 1033.9 521.3 1034.6C524.8 1035.3 528.2 1033.5 531.7 1028.3C535.2 1023.1 538.3 1016.5 542.1 1003.3C545.9 990.1 550.4 964.8 554.6 949.2C558.8 933.6 562.9 918.3 567.1 909.6C571.3 900.9 575.4 899.9 579.6 897.1C583.8 894.3 587.6 894.3 592.1 892.9C596.6 891.5 602.2 889.1 606.7 888.8C611.2 888.4 615.0 888.4 619.2 890.8C623.4 893.2 627.5 898.4 631.7 903.3C635.9 908.2 640.6 915.8 644.2 920.0C647.8 924.2 652.0 926.9 653.5 928.3" fill="none" stroke="#f2a2cc" stroke-width="2.5" stroke-linejoin="round" stroke-dasharray="7.4 3"/>
<path d="M968.3 909.0h0M932.0 955.8h0M949.4 946.7h0M996.3 882.6h0M989.9 893.6h0M949.5 935.9h0M928.6 959.3h0M1026.4 854.0h0M960.4 924.3h0M936.8 948.3h0M985.7 898.6h0M987.9 890.9h0M876.6 1017.7h0M984.3 900.9h0M954.3 924.9h0M961.4 924.5h0M995.5 881.6h0M963.3 918.3h0M950.5 933.6h0M970.0 915.8h0M953.1 928.4h0M974.0 904.2h0M964.9 919.1h0M928.6 955.7h0M995.7 886.4h0M970.5 911.2h0" stroke="#e9659f" stroke-width="4.8" stroke-linecap="round" fill="none"/>
<path d="M997.0 856.3h0M991.3 869.9h0M891.9 972.5h0M937.0 924.0h0M902.2 960.3h0M939.2 921.3h0M944.6 910.2h0M912.8 953.1h0M919.8 935.6h0M953.7 900.8h0M876.0 994.8h0M925.3 935.2h0M918.2 944.4h0M890.6 971.3h0M994.6 859.0h0M876.2 990.5h0M925.5 930.9h0M861.9 1015.5h0M916.4 949.7h0M930.6 928.5h0M947.7 906.3h0M879.8 984.5h0M914.7 946.4h0M909.5 947.6h0M973.2 884.6h0M973.0 884.8h0" stroke="#03034f" stroke-width="4.8" stroke-linecap="round" fill="none"/>
<path d="M1006.6 862.4h0M986.9 877.0h0M1005.6 864.1h0M886.9 995.9h0M1012.3 856.2h0M895.5 977.7h0M905.0 970.5h0M928.0 944.9h0M939.8 927.2h0M1022.3 843.8h0M941.4 927.1h0M943.0 928.6h0M886.5 985.5h0M963.3 902.1h0M906.9 969.8h0M933.5 937.4h0M998.6 869.0h0M936.6 927.5h0M893.7 983.6h0M985.2 881.6h0M940.3 924.5h0M931.9 930.1h0M932.6 941.1h0M972.1 896.6h0M915.1 949.8h0M988.7 878.3h0" stroke="#0505c4" stroke-width="4.8" stroke-linecap="round" fill="none"/>
<path d="M959.3 921.1h0M947.5 932.9h0M882.9 1000.9h0M969.0 907.4h0M926.1 955.8h0M939.0 945.4h0M931.4 947.2h0M979.8 896.8h0M900.1 982.5h0M945.7 926.1h0M971.4 906.8h0M910.6 968.6h0M889.6 994.7h0M931.3 953.4h0M898.0 986.4h0M985.7 897.7h0M955.1 921.8h0M923.3 953.7h0M966.3 913.6h0M963.6 916.0h0M948.0 929.5h0M924.9 958.9h0M948.6 932.0h0M957.0 924.1h0M941.1 941.7h0M939.5 939.0h0" stroke="#4512d9" stroke-width="4.8" stroke-linecap="round" fill="none"/>
<path d="M920.7 963.7h0M995.7 883.0h0M991.0 886.3h0M943.0 940.1h0M934.9 948.3h0M964.7 913.1h0M1019.5 857.8h0M959.8 922.0h0M911.3 979.0h0M949.7 934.3h0M879.6 1010.5h0M943.5 944.3h0M916.6 968.8h0M967.7 912.4h0M957.4 919.3h0M965.0 909.1h0M957.6 922.3h0M970.9 912.7h0M917.1 969.3h0M960.5 917.8h0M967.9 912.2h0M952.5 929.2h0M876.2 1017.1h0M914.4 966.9h0M954.1 924.9h0M893.4 993.4h0" stroke="#9b22cc" stroke-width="4.8" stroke-linecap="round" fill="none"/>
<path d="M936.9 926.2h0M893.1 978.7h0M999.4 856.4h0M981.3 877.6h0M862.4 1008.9h0M927.6 933.2h0M941.1 921.4h0M978.9 876.4h0M999.1 852.8h0M898.9 968.2h0M935.6 918.8h0M933.7 921.3h0M925.2 936.6h0M957.2 904.1h0M990.0 864.4h0M923.4 936.0h0M915.7 940.1h0M884.0 980.9h0M1018.1 841.9h0M987.7 866.1h0M902.4 956.7h0M1014.2 848.2h0M858.1 1019.0h0M865.0 1005.7h0M948.6 908.6h0M941.0 914.5h0" stroke="#03034f" stroke-width="4.8" stroke-linecap="round" fill="none"/>
<path d="M936.8 933.6h0M941.2 927.5h0M977.5 890.9h0M1020.1 844.8h0M929.2 944.9h0M894.7 977.6h0M968.2 899.4h0M878.7 996.5h0M953.5 915.4h0M959.5 906.3h0M869.7 1012.4h0M932.0 938.1h0M873.9 1007.6h0M928.5 942.6h0M900.1 975.2h0M937.4 928.7h0M934.5 933.9h0M996.7 873.4h0M907.1 971.4h0M932.2 932.3h0M887.3 992.0h0M1005.9 857.5h0M985.4 878.0h0M897.1 979.7h0M958.3 914.0h0M884.8 995.3h0" stroke="#0505c4" stroke-width="4.8" stroke-linecap="round" fill="none"/>
<path d="M952.2 924.1h0M964.3 912.2h0M986.1 889.6h0M945.4 933.9h0M887.6 993.9h0M886.2 999.3h0M950.6 925.4h0M877.9 1006.9h0M940.5 940.6h0M953.8 924.1h0M979.8 897.3h0M989.1 886.0h0M937.1 939.3h0M958.8 918.8h0M889.4 990.8h0M955.6 922.5h0M952.0 922.2h0M924.7 956.2h0M918.6 964.4h0M943.2 931.7h0M954.7 925.7h0M897.5 985.1h0M948.5 930.4h0M907.5 970.4h0M900.1 981.0h0M949.6 932.3h0" stroke="#4512d9" stroke-width="4.8" stroke-linecap="round" fill="none"/>
<path d="M917.4 967.2h0M967.9 910.5h0M933.8 952.5h0M921.0 961.1h0M931.1 956.0h0M970.3 908.8h0M907.9 977.1h0M913.4 971.7h0M961.9 914.5h0M913.4 978.3h0M964.6 915.9h0M966.8 914.2h0M990.1 890.9h0M924.8 958.1h0M950.0 932.7h0M916.3 971.5h0M967.5 915.5h0M891.5 995.1h0M904.6 980.2h0M943.3 933.5h0M908.8 974.8h0M888.0 996.3h0M987.3 892.3h0M868.2 1019.4h0M973.6 906.9h0M960.6 920.8h0" stroke="#9b22cc" stroke-width="4.8" stroke-linecap="round" fill="none"/>
<path d="M920.3 965.5h0M955.0 922.9h0M984.3 894.9h0M991.3 889.0h0M891.6 988.7h0M989.6 891.3h0M1007.4 868.4h0M1006.9 876.9h0M891.4 998.6h0M984.2 893.0h0M981.3 902.2h0M971.0 912.3h0M983.1 902.3h0M861.6 1030.5h0M982.8 902.9h0M940.0 947.4h0M878.5 1016.0h0M918.0 965.2h0M980.0 901.9h0M919.5 964.8h0M983.7 897.9h0M947.9 930.4h0M969.3 915.2h0M909.7 975.7h0M926.3 963.1h0M879.3 1002.1h0" stroke="#e9659f" stroke-width="4.8" stroke-linecap="round" fill="none"/>
<path d="M940.0 927.8h0M971.7 900.9h0M999.9 864.2h0M930.9 936.6h0M900.8 975.8h0M962.8 903.7h0M890.6 986.6h0M943.9 921.9h0M929.7 938.9h0M971.1 898.8h0M927.6 945.7h0M932.0 941.5h0M931.6 938.1h0M890.6 981.1h0M995.2 869.6h0M1009.9 857.8h0M931.2 938.3h0M877.7 993.7h0M927.6 937.3h0M889.7 986.5h0M873.8 1003.4h0M949.4 919.8h0M879.7 990.5h0M899.2 976.9h0M928.8 940.7h0M1029.8 838.8h0" stroke="#0505c4" stroke-width="4.8" stroke-linecap="round" fill="none"/>
<path d="M951.5 927.2h0M929.6 951.8h0M1024.5 848.4h0M953.9 927.0h0M991.5 882.0h0M975.8 901.1h0M906.9 974.3h0M950.9 932.1h0M875.5 1006.8h0M960.2 913.5h0M918.1 968.9h0M933.6 950.1h0M990.7 890.1h0M926.1 954.7h0M896.9 983.5h0M967.1 912.8h0M934.8 945.5h0M885.3 994.9h0M965.8 910.0h0M891.1 993.6h0M943.9 933.3h0M899.0 984.7h0M990.0 886.1h0M953.4 925.7h0M897.5 986.6h0M981.8 893.1h0" stroke="#4512d9" stroke-width="4.8" stroke-linecap="round" fill="none"/>
<path d="M928.9 955.1h0M967.4 914.2h0M962.5 913.5h0M884.4 997.7h0M969.4 906.7h0M966.4 917.5h0M868.0 1019.6h0M992.4 883.6h0M915.3 976.7h0M874.4 1008.7h0M1023.3 854.8h0M868.1 1016.9h0M955.5 923.7h0M919.7 967.7h0M969.0 912.0h0M952.7 929.7h0M936.1 950.2h0M928.1 956.6h0M1005.6 872.7h0M1012.7 869.6h0M975.1 903.1h0M947.3 934.5h0M963.8 912.8h0M938.1 945.5h0M916.9 964.5h0M954.7 925.3h0" stroke="#9b22cc" stroke-width="4.8" stroke-linecap="round" fill="none"/>
<path d="M947.2 941.9h0M921.2 969.9h0M888.3 1001.8h0M985.8 899.6h0M863.0 1030.6h0M916.6 967.1h0M967.7 908.7h0M934.7 955.9h0M964.9 920.1h0M967.2 919.0h0M948.3 935.3h0M891.1 999.8h0M957.2 923.4h0M899.0 992.3h0M1011.5 869.8h0M984.5 904.9h0M947.3 932.9h0M977.3 908.8h0M989.8 890.1h0M955.3 934.1h0M980.2 907.5h0M987.3 894.3h0M987.4 893.2h0M914.1 968.4h0M985.7 898.3h0M995.9 885.7h0" stroke="#e9659f" stroke-width="4.8" stroke-linecap="round" fill="none"/>
<path d="M946.5 905.3h0M904.3 956.3h0M926.2 935.6h0M1019.2 841.2h0M865.4 1011.5h0M881.8 991.1h0M961.4 894.5h0M879.5 997.4h0M903.3 949.0h0M893.3 972.7h0M890.4 974.6h0M860.8 1018.8h0M928.7 929.5h0M879.5 992.0h0M1016.7 849.2h0M859.5 1013.5h0M914.9 943.7h0M920.8 936.5h0M910.3 953.7h0M955.9 896.6h0M983.7 877.8h0M1020.9 843.1h0M920.8 941.8h0M971.7 889.6h0M914.8 947.3h0M915.3 943.9h0" stroke="#03034f" stroke-width="4.8" stroke-linecap="round" fill="none"/>
<path d="M974.6 901.6h0M895.5 986.2h0M945.7 931.3h0M947.4 933.7h0M889.6 994.3h0M927.9 959.1h0M953.4 927.6h0M991.2 883.3h0M953.0 924.3h0M879.3 1004.9h0M954.4 927.4h0M965.8 911.5h0M965.6 911.6h0M939.0 939.6h0M1026.8 848.6h0M1026.8 852.7h0M978.6 895.6h0M956.1 921.8h0M959.6 919.9h0M942.6 933.1h0M1031.5 847.1h0M933.7 951.4h0M903.6 981.6h0M918.1 962.4h0M950.9 930.5h0M989.5 886.0h0" stroke="#4512d9" stroke-width="4.8" stroke-linecap="round" fill="none"/>
<path d="M958.1 924.4h0M951.2 933.4h0M948.6 937.9h0M965.1 916.9h0M920.4 963.4h0M962.5 918.0h0M951.5 929.2h0M959.3 921.3h0M917.3 971.6h0M967.8 910.3h0M915.5 970.1h0M933.8 949.5h0M969.9 907.3h0M981.5 895.6h0M965.5 914.0h0M975.9 903.1h0M951.5 933.1h0M1028.1 850.7h0M916.5 969.5h0M960.7 919.3h0M968.0 914.3h0M908.3 980.6h0M1018.5 856.7h0M963.6 915.0h0M957.9 923.8h0M984.8 895.2h0" stroke="#9b22cc" stroke-width="4.8" stroke-linecap="round" fill="none"/>
<path d="M864.4 1025.1h0M982.2 903.6h0M973.9 910.6h0M911.5 972.9h0M981.6 895.4h0M930.9 957.5h0M951.0 932.3h0M986.3 892.7h0M863.8 1030.2h0M982.3 900.0h0M923.3 963.4h0M955.6 926.8h0M916.4 966.4h0M981.2 904.5h0M988.1 895.0h0M903.7 986.6h0M939.8 946.3h0M1013.2 865.4h0M987.6 894.0h0M907.3 988.0h0M991.2 888.7h0M991.9 890.5h0M925.7 954.0h0M981.6 898.7h0M879.5 1003.0h0M924.3 962.8h0" stroke="#e9659f" stroke-width="4.8" stroke-linecap="round" fill="none"/>
<path d="M985.5 875.6h0M967.9 893.0h0M1007.6 850.1h0M960.8 897.7h0M919.5 939.4h0M1022.1 836.3h0M926.1 934.6h0M886.6 984.6h0M1023.5 837.7h0M934.7 926.3h0M905.6 948.8h0M869.6 1006.7h0M927.4 926.1h0M866.1 999.5h0M893.6 980.0h0M966.8 890.5h0M913.9 947.4h0M889.2 979.3h0M964.6 895.6h0M925.5 935.9h0M876.4 992.5h0M902.8 965.8h0M859.5 1018.0h0M1010.8 848.9h0M911.1 949.2h0M882.8 988.0h0" stroke="#03034f" stroke-width="4.8" stroke-linecap="round" fill="none"/>
<path d="M981.6 881.9h0M974.9 892.5h0M942.3 926.6h0M931.2 935.9h0M1011.4 855.9h0M960.9 907.3h0M1009.0 858.8h0M1003.2 864.9h0M931.9 941.3h0M930.9 936.0h0M905.3 966.1h0M928.9 944.5h0M905.2 969.8h0M946.2 922.3h0M970.0 898.1h0M969.3 903.4h0M934.4 937.4h0M1011.6 862.1h0M868.3 1013.3h0M894.2 974.9h0M992.6 879.1h0M929.6 943.0h0M924.4 944.2h0M931.9 942.6h0M970.3 895.9h0M949.8 915.1h0" stroke="#0505c4" stroke-width="4.8" stroke-linecap="round" fill="none"/>
<path d="M973.9 908.4h0M906.1 983.2h0M898.9 986.8h0M989.1 889.2h0M955.8 924.2h0M966.2 917.3h0M970.7 907.0h0M949.7 929.2h0M940.6 941.0h0M921.5 964.9h0M966.5 909.2h0M910.6 975.2h0M918.7 968.0h0M909.7 977.4h0M920.8 962.1h0M923.4 963.8h0M947.3 938.4h0M987.3 894.4h0M996.6 880.9h0M957.8 923.1h0M982.1 891.5h0M915.1 971.3h0M966.2 907.5h0M991.6 882.4h0M961.4 922.4h0M912.7 973.5h0" stroke="#9b22cc" stroke-width="4.8" stroke-linecap="round" fill="none"/>
<path d="M986.7 896.2h0M900.9 993.3h0M897.9 992.9h0M987.6 894.0h0M943.1 943.0h0M979.3 902.9h0M990.4 886.3h0M1023.7 856.6h0M859.7 1033.0h0M963.4 922.9h0M947.3 937.1h0M944.5 946.9h0M968.7 909.7h0M940.6 939.3h0M959.7 925.4h0M954.9 929.3h0M976.5 907.9h0M914.2 975.3h0M992.4 889.9h0M963.6 917.7h0M950.1 931.2h0M871.5 1013.8h0M987.3 893.2h0M989.8 884.2h0M968.3 914.8h0M951.9 931.5h0" stroke="#e9659f" stroke-width="4.8" stroke-linecap="round" fill="none"/>
<path d="M923.9 933.7h0M946.8 917.0h0M899.0 958.7h0M946.7 915.7h0M963.1 890.0h0M916.1 944.6h0M1026.9 833.0h0M1027.8 835.9h0M915.8 942.5h0M923.8 932.8h0M1018.4 837.6h0M870.8 1004.4h0M994.8 861.1h0M863.8 1006.7h0M931.0 918.8h0M912.6 949.5h0M881.8 989.7h0M920.9 943.2h0M885.0 979.0h0M860.6 1013.2h0M953.8 908.0h0M881.3 989.6h0M1002.1 850.7h0M920.0 942.1h0M873.4 991.1h0M857.7 1022.1h0" stroke="#03034f" stroke-width="4.8" stroke-linecap="round" fill="none"/>
<path d="M883.9 987.6h0M1021.0 847.5h0M954.7 911.6h0M929.3 940.4h0M1008.3 860.0h0M894.8 983.8h0M1013.1 854.6h0M931.3 940.9h0M943.0 922.5h0M906.2 968.9h0M968.0 899.2h0M927.2 937.7h0M933.1 939.1h0M889.5 985.8h0M942.8 925.9h0M938.9 929.9h0M984.8 885.4h0M948.6 921.0h0M940.8 925.1h0M957.8 906.0h0M976.8 888.4h0M970.3 897.5h0M936.7 931.5h0M982.0 890.7h0M899.0 973.3h0M875.2 1001.9h0" stroke="#0505c4" stroke-width="4.8" stroke-linecap="round" fill="none"/>
<path d="M942.7 931.8h0M909.2 971.0h0M947.0 926.0h0M894.5 984.5h0M884.2 999.5h0M920.6 965.5h0M1010.6 865.7h0M982.8 890.7h0M890.0 990.1h0M1030.1 847.6h0M1008.1 866.7h0M983.2 895.9h0M874.5 1011.0h0M905.4 980.0h0M918.1 963.1h0M906.9 974.3h0M881.2 1004.3h0M935.6 944.7h0M953.0 923.5h0M945.3 933.5h0M991.4 885.2h0M955.7 925.0h0M937.9 943.1h0M928.5 954.9h0M920.3 961.7h0M900.0 980.6h0" stroke="#4512d9" stroke-width="4.8" stroke-linecap="round" fill="none"/>
<path d="M925.9 963.4h0M976.8 901.4h0M942.6 941.2h0M884.3 1003.4h0M976.5 908.1h0M964.4 919.3h0M967.0 915.4h0M982.4 899.3h0M949.1 929.3h0M949.3 936.7h0M978.2 902.8h0M994.3 887.2h0M934.1 953.5h0M890.2 1005.0h0M941.5 944.4h0M968.4 911.9h0M868.4 1018.8h0M996.8 882.0h0M967.9 913.2h0M996.7 887.9h0M960.6 923.7h0M925.7 961.3h0M978.3 905.0h0M986.2 896.9h0M896.0 994.4h0M961.9 912.6h0" stroke="#e9659f" stroke-width="4.8" stroke-linecap="round" fill="none"/>
<path d="M892.3 973.0h0M970.2 885.9h0M918.8 939.9h0M1018.5 837.4h0M958.2 897.0h0M890.1 967.3h0M869.1 1001.0h0M900.1 966.2h0M1015.7 846.2h0M1018.6 841.5h0M1004.6 853.0h0M979.2 879.9h0M933.4 921.9h0M1004.7 858.6h0M974.3 884.7h0M970.1 885.4h0M928.0 930.5h0M914.5 941.8h0M877.2 980.9h0M933.3 919.3h0M932.0 928.8h0M905.9 956.6h0M904.6 960.6h0M898.9 958.4h0M1026.1 833.4h0M913.5 948.1h0" stroke="#03034f" stroke-width="4.8" stroke-linecap="round" fill="none"/>
<path d="M1010.3 857.8h0M925.5 943.4h0M902.7 972.2h0M930.1 942.7h0M965.7 896.8h0M1000.5 868.4h0M888.8 987.0h0M997.7 871.0h0M914.4 962.6h0M871.3 1004.1h0M941.3 926.7h0M977.3 888.4h0M929.5 941.8h0M954.1 917.3h0M1024.3 841.2h0M933.4 933.7h0M936.4 930.1h0M880.4 1000.5h0M1017.0 851.8h0M895.8 974.4h0M997.9 873.6h0M922.8 944.1h0M918.9 959.4h0M932.4 938.7h0M929.3 939.3h0M1009.5 860.1h0" stroke="#0505c4" stroke-width="4.8" stroke-linecap="round" fill="none"/>
<path d="M951.6 928.8h0M962.7 913.1h0M949.4 926.9h0M940.1 931.5h0M951.1 924.1h0M964.7 918.2h0M991.6 884.9h0M954.9 926.7h0M998.7 881.3h0M960.7 919.6h0M953.3 927.7h0M943.1 931.1h0M950.3 924.6h0M936.9 945.2h0M989.4 893.4h0M944.9 935.3h0M948.4 927.8h0M1031.7 846.3h0M895.6 988.0h0M919.1 960.2h0M938.1 944.8h0M947.7 931.7h0M952.4 929.2h0M967.6 908.3h0M939.1 938.7h0M922.0 958.8h0" stroke="#4512d9" stroke-width="4.8" stroke-linecap="round" fill="none"/>
<path d="M927.6 953.1h0M869.4 1021.6h0M901.7 985.5h0M1021.1 856.2h0M921.1 962.6h0M974.8 906.4h0M984.3 895.0h0M990.3 883.7h0M879.2 1006.9h0M995.0 884.7h0M907.8 979.8h0M953.7 929.2h0M909.2 976.7h0M1006.7 873.3h0M962.2 918.4h0M965.7 909.2h0M946.7 931.2h0M882.0 1007.0h0M944.8 931.8h0M941.5 941.5h0M948.7 935.3h0M952.1 934.0h0M966.3 911.6h0M1002.4 876.2h0M951.7 932.3h0M951.5 926.5h0" stroke="#9b22cc" stroke-width="4.8" stroke-linecap="round" fill="none"/>
<path d="M949.9 906.4h0M926.7 929.2h0M899.7 954.3h0M998.9 866.7h0M906.9 959.5h0M1027.3 833.8h0M877.5 990.9h0M925.6 935.4h0M886.9 986.0h0M912.9 951.7h0M923.7 936.4h0M979.1 880.6h0M923.1 933.8h0M888.1 972.9h0M899.5 975.0h0M949.7 912.2h0M894.7 970.2h0M876.0 986.5h0M917.8 942.9h0M920.8 941.9h0M892.3 975.5h0M880.3 984.1h0M892.7 963.6h0M1010.4 853.1h0M878.1 990.0h0M878.2 985.0h0" stroke="#03034f" stroke-width="4.8" stroke-linecap="round" fill="none"/>
<path d="M908.4 960.1h0M938.2 929.2h0M946.4 922.9h0M1002.4 863.4h0M868.6 1010.7h0M900.7 972.1h0M954.3 914.6h0M988.9 878.5h0M896.9 984.6h0M928.0 941.4h0M964.1 898.6h0M926.4 942.0h0M933.4 931.2h0M940.5 923.4h0M869.5 1008.7h0M905.5 968.6h0M923.3 954.3h0M1009.5 861.4h0M929.5 942.6h0M944.4 925.5h0M935.8 930.1h0M1018.3 849.9h0M925.1 945.2h0M929.0 930.5h0M920.8 945.9h0M975.0 893.6h0" stroke="#0505c4" stroke-width="4.8" stroke-linecap="round" fill="none"/>
<path d="M929.9 950.1h0M931.8 954.5h0M963.1 913.6h0M960.5 917.7h0M973.0 900.7h0M940.0 936.0h0M904.7 978.6h0M917.5 963.6h0M947.9 928.7h0M880.5 1000.5h0M1014.5 860.5h0M894.4 990.1h0M1005.5 874.0h0M1016.5 866.2h0M1033.9 843.3h0M874.7 1005.8h0M961.9 917.1h0M936.4 938.1h0M939.5 937.2h0M957.3 920.1h0M947.2 929.7h0M959.1 919.1h0M941.8 933.0h0M957.9 922.5h0M1005.6 873.0h0M909.6 972.2h0" stroke="#4512d9" stroke-width="4.8" stroke-linecap="round" fill="none"/>
<path d="M964.6 914.2h0M962.0 921.4h0M923.9 963.2h0M946.8 932.5h0M907.4 979.3h0M871.6 1014.2h0M967.6 915.6h0M989.9 886.9h0M910.9 977.1h0M910.1 976.1h0M978.2 902.5h0M903.0 984.1h0M916.4 967.3h0M921.8 962.6h0M949.9 930.3h0M892.1 996.2h0M945.8 935.7h0M947.0 930.7h0M977.0 907.0h0M981.7 893.7h0M961.1 916.4h0M1002.9 876.3h0M960.9 918.5h0M964.5 914.2h0M974.1 902.5h0M931.8 946.4h0" stroke="#9b22cc" stroke-width="4.8" stroke-linecap="round" fill="none"/>
<path d="M965.1 911.8h0M962.9 919.3h0M887.1 997.9h0M927.8 959.7h0M908.7 978.3h0M974.9 909.6h0M984.8 898.9h0M884.8 996.4h0M892.9 995.5h0M952.9 929.7h0M956.8 919.3h0M921.0 966.2h0M887.7 1004.4h0M893.5 991.6h0M928.8 954.3h0M950.6 932.9h0M949.9 932.9h0M923.2 963.3h0M984.5 891.7h0M859.3 1029.6h0M956.6 928.2h0M1000.6 881.0h0M928.2 961.5h0M1025.4 853.2h0M912.9 973.7h0M951.9 933.2h0" stroke="#e9659f" stroke-width="4.8" stroke-linecap="round" fill="none"/>
<path d="M898.8 971.3h0M928.6 940.1h0M927.4 939.3h0M900.8 972.7h0M944.3 925.3h0M939.3 929.3h0M957.1 908.5h0M933.0 936.8h0M933.3 939.3h0M932.3 938.4h0M939.2 929.0h0M874.8 1006.7h0M884.9 994.6h0M867.3 1010.5h0M965.4 902.2h0M868.5 1008.1h0M897.2 980.1h0M868.5 1009.7h0M913.8 953.6h0M931.2 938.6h0M970.8 899.7h0M886.2 988.5h0M939.1 930.0h0M884.5 989.4h0M914.4 964.5h0M958.4 911.5h0" stroke="#0505c4" stroke-width="4.8" stroke-linecap="round" fill="none"/>
<path d="M941.6 934.0h0M950.3 927.7h0M936.1 937.9h0M963.7 914.2h0M942.6 931.1h0M918.7 963.9h0M924.7 963.9h0M974.6 906.9h0M901.2 982.1h0M954.6 928.6h0M954.4 924.3h0M959.5 916.6h0M950.3 929.4h0M973.3 901.2h0M968.2 909.2h0M939.0 937.0h0M935.8 952.1h0M880.7 1004.0h0M929.4 955.1h0M948.2 934.1h0M942.3 935.2h0M940.6 938.4h0M915.1 973.1h0M920.2 961.4h0M954.7 926.1h0M943.8 933.3h0" stroke="#4512d9" stroke-width="4.8" stroke-linecap="round" fill="none"/>
<path d="M947.9 936.5h0M960.3 919.7h0M952.0 928.3h0M919.0 966.7h0M889.4 996.0h0M966.1 915.2h0M894.0 989.0h0M964.6 918.0h0M966.1 913.0h0M927.4 960.5h0M961.5 917.9h0M911.4 976.5h0M978.7 902.5h0M877.4 1010.8h0M1026.1 851.3h0M967.1 914.6h0M989.2 887.3h0M950.4 930.4h0M966.6 919.1h0M945.8 935.2h0M1021.7 856.1h0M961.0 915.9h0M1011.5 864.9h0M955.3 926.0h0M963.7 916.2h0M964.4 916.4h0" stroke="#9b22cc" stroke-width="4.8" stroke-linecap="round" fill="none"/>
<path d="M1026.1 851.0h0M947.3 933.6h0M1017.6 862.3h0M1018.5 862.9h0M990.5 889.0h0M942.8 942.0h0M969.6 918.9h0M971.9 916.3h0M993.0 888.5h0M979.7 894.9h0M923.0 964.9h0M889.0 1004.5h0M860.7 1026.7h0M966.5 917.5h0M993.3 889.6h0M1017.9 862.7h0M903.8 978.7h0M1020.3 857.6h0M937.6 950.4h0M972.1 911.4h0M978.5 901.1h0M912.1 970.1h0M990.5 888.6h0M870.8 1018.3h0M927.2 963.2h0M963.5 918.8h0" stroke="#e9659f" stroke-width="4.8" stroke-linecap="round" fill="none"/>
<path d="M997.4 861.8h0M898.1 974.3h0M906.8 951.5h0M1027.2 830.8h0M1007.7 849.1h0M922.4 935.8h0M972.5 878.2h0M951.8 908.7h0M970.9 889.9h0M1012.8 847.0h0M921.8 936.9h0M998.6 867.7h0M915.3 948.1h0M913.9 948.1h0M975.4 875.8h0M877.1 997.5h0M859.2 1014.4h0M890.0 976.3h0M1015.9 846.9h0M892.3 972.6h0M940.0 914.5h0M964.6 891.0h0M1026.7 834.5h0M985.1 873.1h0M916.5 946.9h0M882.7 982.1h0" stroke="#03034f" stroke-width="4.8" stroke-linecap="round" fill="none"/>
<path d="M942.4 941.8h0M911.8 969.3h0M952.4 926.7h0M944.7 938.2h0M964.3 912.6h0M1027.2 847.7h0M948.6 923.5h0M891.3 994.8h0M1017.8 854.1h0M892.3 995.5h0M920.4 960.4h0M1032.8 843.1h0M978.5 899.0h0M943.3 930.5h0M911.3 970.4h0M993.6 884.9h0M965.4 914.6h0M955.6 922.8h0M989.6 882.7h0M983.5 891.1h0M941.2 936.7h0M876.3 1009.2h0M948.5 931.5h0M984.5 893.8h0M894.6 991.6h0M957.2 921.7h0" stroke="#4512d9" stroke-width="4.8" stroke-linecap="round" fill="none"/>
<path d="M951.0 927.0h0M988.5 887.6h0M869.5 1015.5h0M963.1 916.0h0M959.3 916.2h0M969.2 910.0h0M1022.8 852.1h0M961.2 921.6h0M952.6 928.5h0M908.7 979.1h0M870.5 1018.2h0M960.1 918.2h0M960.5 920.7h0M982.3 900.2h0M960.6 919.2h0M917.4 970.1h0M891.3 993.2h0M966.1 912.2h0M920.3 964.5h0M943.9 939.1h0M965.2 913.1h0M947.9 937.7h0M951.0 931.6h0M966.0 914.4h0M996.9 886.1h0M920.9 962.1h0" stroke="#9b22cc" stroke-width="4.8" stroke-linecap="round" fill="none"/>
<path d="M1019.0 860.5h0M933.5 952.1h0M956.4 923.3h0M998.8 882.3h0M947.7 936.1h0M1000.0 880.9h0M927.1 960.5h0M971.9 909.7h0M954.5 926.7h0M991.4 889.9h0M955.5 928.6h0M985.1 890.0h0M868.9 1024.4h0M983.1 901.1h0M993.7 889.7h0M861.1 1031.3h0M925.8 963.4h0M964.9 916.9h0M922.2 967.9h0M905.7 977.1h0M968.5 905.9h0M945.9 937.6h0M922.6 961.9h0M971.8 908.8h0M1002.7 878.9h0M936.1 950.0h0" stroke="#e9659f" stroke-width="4.8" stroke-linecap="round" fill="none"/>
<path d="M943.1 908.1h0M960.0 895.7h0M960.2 902.8h0M930.4 931.5h0M884.5 974.0h0M984.1 875.5h0M962.7 891.8h0M926.7 930.7h0M921.9 938.0h0M1017.0 839.3h0M979.4 872.5h0M934.1 926.4h0M924.4 932.6h0M924.6 939.5h0M870.9 996.1h0M920.3 938.2h0M944.1 914.7h0M885.3 988.6h0M927.1 934.4h0M1020.0 834.7h0M918.4 941.4h0M874.4 1003.5h0M925.9 935.9h0M976.7 883.1h0M913.1 943.4h0M925.7 935.6h0" stroke="#03034f" stroke-width="4.8" stroke-linecap="round" fill="none"/>
<path d="M980.2 883.0h0M890.3 988.8h0M940.2 928.2h0M903.6 970.0h0M932.1 939.1h0M905.7 964.0h0M929.0 938.6h0M934.6 934.3h0M1018.5 849.9h0M964.8 905.6h0M905.4 972.3h0M921.0 952.0h0M1020.8 849.0h0M992.2 873.7h0M974.0 892.8h0M939.4 930.1h0M928.1 939.2h0M938.6 932.3h0M879.0 1005.1h0M881.9 998.2h0M944.2 925.6h0M906.4 969.7h0M937.7 931.6h0M886.3 991.8h0M929.8 948.0h0M930.1 935.8h0" stroke="#0505c4" stroke-width="4.8" stroke-linecap="round" fill="none"/>
<path d="M924.4 965.5h0M975.8 903.2h0M922.4 961.5h0M1027.6 848.8h0M875.4 1014.4h0M985.7 897.2h0M983.3 895.5h0M914.7 971.5h0M954.2 930.5h0M963.3 919.3h0M876.3 1013.6h0M979.8 904.2h0M975.6 906.9h0M968.3 908.3h0M965.2 914.4h0M1025.7 853.5h0M906.3 980.1h0M982.9 892.4h0M970.4 911.4h0M960.2 921.9h0M912.1 975.6h0M951.8 926.0h0M936.0 946.4h0M947.2 934.2h0M957.1 922.8h0M874.7 1007.1h0M964.2 913.6h0" stroke="#9b22cc" stroke-width="4.8" stroke-linecap="round" fill="none"/>
<path d="M980.9 906.2h0M944.5 938.7h0M948.3 937.5h0M924.0 963.1h0M963.1 919.9h0M887.9 999.3h0M948.7 929.9h0M895.3 998.7h0M949.2 937.7h0M987.2 892.8h0M985.0 896.0h0M923.1 966.7h0M892.8 992.8h0M904.8 981.0h0M874.8 1007.1h0M962.0 916.4h0M957.7 931.8h0M974.2 907.1h0M864.9 1030.8h0M925.4 961.4h0M926.2 967.4h0M861.9 1032.6h0M870.4 1026.1h0M984.6 899.2h0M963.0 922.3h0M924.2 961.9h0M940.6 941.3h0" stroke="#e9659f" stroke-width="4.8" stroke-linecap="round" fill="none"/>
<path d="M952.0 909.3h0M915.3 945.3h0M881.0 977.4h0M986.5 863.8h0M1012.4 846.0h0M922.6 934.4h0M904.8 954.6h0M908.9 948.8h0M919.7 940.9h0M906.0 961.7h0M881.5 980.0h0M879.5 986.6h0M932.0 926.6h0M927.0 928.3h0M919.1 940.8h0M876.3 993.1h0M888.5 978.3h0M1016.4 842.4h0M896.6 962.7h0M892.7 978.1h0M916.2 944.9h0M922.1 938.7h0M971.5 889.4h0M980.0 878.6h0M928.9 929.9h0M864.0 1015.3h0M917.2 940.8h0" stroke="#03034f" stroke-width="4.8" stroke-linecap="round" fill="none"/>
<path d="M956.7 910.8h0M934.3 935.7h0M886.6 990.2h0M919.9 948.1h0M1032.1 843.3h0M895.1 982.4h0M942.4 922.8h0M946.6 921.2h0M973.1 897.6h0M997.6 871.6h0M934.3 933.5h0M924.1 943.6h0M931.9 940.4h0M984.5 885.5h0M940.8 928.6h0M965.9 903.6h0M898.1 978.2h0M1001.4 866.5h0M930.4 937.3h0M936.0 930.0h0M940.3 925.8h0M923.5 950.2h0M946.5 922.2h0M954.1 909.6h0M931.6 939.2h0M949.3 923.8h0M883.8 993.4h0" stroke="#0505c4" stroke-width="4.8" stroke-linecap="round" fill="none"/>
<path d="M931.3 946.8h0M956.2 918.1h0M905.3 981.0h0M990.3 884.7h0M983.3 896.1h0M942.9 933.2h0M922.2 957.9h0M961.3 918.0h0M919.1 964.0h0M933.6 947.4h0M987.4 889.5h0M950.7 928.0h0M947.1 935.3h0M915.8 968.9h0M965.6 918.0h0M956.9 916.2h0M960.4 918.0h0M974.3 903.2h0M1026.7 851.5h0M941.5 936.5h0M996.8 881.9h0M961.3 911.7h0M976.6 905.2h0M965.4 916.5h0M959.3 921.9h0M930.8 954.4h0M902.9 977.4h0" stroke="#4512d9" stroke-width="4.8" stroke-linecap="round" fill="none"/>
<path d="M1232.7 185.3 L1235.7 185.7 L1238.3 185.5 L1239.4 136.6 L1240.5 185.5 L1241.7 185.7 L1244.7 185.4 L1247.7 185.6 L1250.2 185.6 L1251.3 128.2 L1252.4 185.6 L1253.7 185.6 L1256.7 185.8 L1259.7 185.9 L1262.2 185.7 L1263.3 134.6 L1264.4 185.7 L1265.7 185.5 L1268.7 185.5 L1269.6 185.8 L1270.7 133.9 L1271.8 185.8 L1274.7 186.0 L1277.7 185.8 L1279.3 185.9 L1280.4 116.4 L1281.0 185.9 L1281.5 185.9 L1282.1 123.4 L1283.2 185.9 L1286.7 186.1 L1289.7 185.6 L1291.4 185.9 L1292.5 132.5 L1293.6 185.9 L1295.7 185.9 L1298.7 186.1 L1301.7 185.9 L1304.7 186.3 L1307.7 186.3 L1310.7 185.8 L1313.7 185.8 L1315.4 186.1 L1316.5 130.4 L1317.6 186.1 L1319.7 186.2 L1322.7 186.4 L1324.2 186.2 L1325.3 110.3 L1326.4 186.2 L1328.6 186.2 L1329.7 129.7 L1330.8 186.2 L1331.7 186.2 L1334.6 186.3 L1335.7 128.3 L1336.8 186.3 L1337.7 186.1 L1338.3 186.3 L1339.4 129.0 L1340.5 186.3 L1342.2 187.0 L1343.3 79.0 L1344.4 187.0 L1346.7 187.3 L1349.7 187.0 L1352.7 187.2 L1355.7 187.3 L1358.7 187.4 L1361.7 187.2 L1364.7 187.2 L1367.7 187.2 L1370.7 187.4 L1373.7 187.3 L1376.7 187.1 L1379.7 187.6 L1382.7 187.5 L1385.7 187.5 L1388.7 187.3 L1391.7 187.8 L1394.2 187.4 L1395.3 70.0 L1396.4 187.4 L1397.7 186.5 L1400.7 185.1 L1403.7 185.2 L1405.4 185.2 L1406.5 122.1 L1407.6 185.2 L1409.7 185.3 L1412.7 185.3 L1415.7 185.4 L1418.7 185.1 L1421.7 185.3 L1424.7 185.2 L1427.7 184.9 L1430.7 184.9 L1431.5 184.5 L1432.6 122.8 L1433.7 184.5 L1436.7 183.9 L1440.2 182.7 L1441.3 122.8 L1442.4 182.7 L1445.7 182.2 L1448.7 181.8 L1451.7 181.7 L1454.7 181.2 L1457.7 181.1 L1460.7 181.3 L1463.7 180.9 L1466.7 180.6 L1469.7 180.6 L1472.1 180.5 L1473.2 116.5 L1474.3 180.5 L1475.7 180.5 L1476.7 180.3 L1477.8 124.1 L1478.9 180.3 L1481.7 180.3 L1484.7 180.0 L1487.7 179.9 L1490.7 179.8 L1492.0 179.8 L1493.1 125.5 L1494.2 179.8 L1496.7 179.8 L1499.7 179.5 L1502.7 179.4 L1505.7 179.3 L1508.2 179.2 L1509.3 121.5 L1510.4 179.2 L1511.7 178.9 L1513.5 179.0 L1514.6 121.5 L1515.7 179.0 L1517.7 173.6 L1520.7 170.1 L1523.7 170.1 L1526.7 169.7 L1527.8 100.7 L1528.9 169.7 L1529.7 169.7 L1532.7 169.4 L1535.7 169.3 L1536.8 118.8 L1537.9 169.3 L1539.2 169.2 L1540.3 118.8 L1541.4 169.2 L1541.9 169.1 L1543.0 118.8 L1544.1 169.1 L1544.7 168.9 L1547.7 169.0 L1549.9 168.8 L1551.0 110.4 L1552.1 168.8 L1553.8 168.7 L1554.9 117.4 L1556.0 168.7 L1556.7 168.9 L1559.7 168.7 L1561.0 168.4 L1562.1 98.6 L1563.2 168.4 L1565.7 168.3 L1568.7 168.3 L1571.7 167.8 L1574.7 167.9 L1577.0 167.7 L1578.1 116.7 L1579.0 167.6 L1579.2 167.7 L1580.1 116.0 L1581.2 167.6 L1583.2 167.5 L1584.3 116.7 L1585.4 167.5 L1586.7 167.6 L1589.7 167.3 L1590.8 167.1 L1591.9 116.5 L1593.0 167.1 L1594.7 167.0 L1595.8 116.5 L1596.9 167.0 L1598.7 166.8 L1601.7 166.7 L1604.7 166.8 L1607.7 167.0 L1610.4 166.7 L1611.5 115.7 L1611.8 166.7 L1612.6 166.7 L1612.9 114.3 L1614.0 166.7 L1616.7 166.4 L1618.3 166.7 L1619.4 115.7 L1620.5 166.7 L1620.6 166.7 L1621.7 115.7 L1622.8 166.7 L1625.7 166.9 L1628.7 166.9 L1631.7 166.9 L1634.0 166.6 L1635.1 51.8 L1636.2 166.6 L1637.7 166.8 L1638.6 166.6 L1639.7 69.2 L1640.8 166.6 L1643.7 166.8 L1646.7 166.6 L1649.7 166.6 L1652.7 166.5 L1655.7 166.3 L1658.7 166.8 L1661.7 166.6 L1664.7 166.3 L1667.7 166.5 L1669.5 168.7 L1670.6 117.1 L1671.7 168.7 L1673.7 169.9 L1676.7 169.8 L1679.7 169.8 L1682.7 169.9 L1685.7 170.0 L1688.7 170.0 L1691.7 169.9 L1694.7 169.7 L1696.5 170.0 L1697.6 122.5 L1698.7 170.0 L1700.0 170.0 L1701.1 122.5 L1702.2 170.0 L1703.7 169.8 L1706.7 169.8 L1708.3 170.0 L1709.4 121.1 L1710.5 170.0 L1712.7 170.0 L1715.7 170.8 L1718.7 173.1 L1721.7 174.2 L1724.7 174.2 L1727.7 173.9 L1730.7 174.3 L1733.7 174.2 L1736.7 173.9 L1739.7 173.9 L1741.0 174.2 L1742.1 118.3 L1743.2 174.2 L1745.2 174.2 L1746.3 116.9 L1747.4 174.2 L1748.7 173.9 L1752.1 174.3 L1753.2 116.9 L1754.3 174.3 L1757.7 174.4 L1758.3 174.1" fill="none" stroke="#03034f" stroke-width="2.5" stroke-linejoin="round"/>
<path d="M1232.7 179.8 L1235.7 180.0 L1238.3 180.0 L1239.4 130.6 L1240.5 180.0 L1241.7 179.9 L1244.7 180.0 L1247.7 180.0 L1250.2 179.9 L1251.3 122.2 L1252.4 179.9 L1253.7 179.6 L1256.7 179.5 L1259.7 180.0 L1262.2 179.8 L1263.3 135.6 L1264.4 179.8 L1265.7 179.6 L1268.7 179.6 L1269.6 179.7 L1270.7 134.9 L1271.8 179.7 L1274.7 180.0 L1277.7 179.6 L1279.3 179.6 L1280.4 110.4 L1281.0 179.6 L1281.5 179.6 L1282.1 124.4 L1283.2 179.6 L1286.7 179.8 L1289.7 179.6 L1291.4 179.6 L1292.5 133.5 L1293.6 179.6 L1295.7 179.6 L1298.7 179.3 L1301.7 179.6 L1304.7 179.6 L1307.7 179.4 L1310.7 179.5 L1313.7 179.4 L1315.4 179.2 L1316.5 131.4 L1317.6 179.2 L1319.7 178.9 L1322.7 179.3 L1324.2 179.1 L1325.3 111.3 L1326.4 179.1 L1328.6 179.0 L1329.7 130.7 L1330.8 179.0 L1331.7 179.1 L1334.6 178.9 L1335.7 129.3 L1336.8 178.9 L1337.7 178.8 L1338.3 178.9 L1339.4 130.0 L1340.5 178.9 L1342.2 178.8 L1343.3 80.0 L1344.4 178.8 L1346.7 178.5 L1349.7 179.1 L1352.7 178.9 L1355.7 179.1 L1358.7 179.2 L1361.7 179.1 L1364.7 179.3 L1367.7 179.0 L1370.7 179.3 L1373.7 179.1 L1376.7 179.5 L1379.7 179.5 L1382.7 179.0 L1385.7 179.1 L1388.7 179.2 L1391.7 179.7 L1394.2 179.4 L1395.3 71.0 L1396.4 179.4 L1397.7 179.4 L1400.7 179.6 L1403.7 179.4 L1405.4 179.6 L1406.5 123.1 L1407.6 179.6 L1409.7 179.7 L1412.7 179.7 L1415.7 179.7 L1418.7 179.9 L1421.7 179.9 L1424.7 180.2 L1427.7 180.1 L1430.7 180.3 L1431.5 180.1 L1432.6 123.8 L1433.7 180.1 L1436.7 180.4 L1440.2 180.2 L1441.3 123.8 L1442.4 180.2 L1445.7 180.5 L1448.7 180.3 L1451.7 180.0 L1454.7 180.4 L1457.7 180.5 L1460.7 180.4 L1463.7 180.2 L1466.7 180.3 L1469.7 180.0 L1472.1 180.2 L1473.2 117.5 L1474.3 180.2 L1475.7 180.4 L1476.7 180.2 L1477.8 125.1 L1478.9 180.2 L1481.7 180.2 L1484.7 180.0 L1487.7 179.9 L1490.7 180.3 L1492.0 180.1 L1493.1 126.5 L1494.2 180.1 L1496.7 180.4 L1499.7 179.9 L1502.7 180.3 L1505.7 180.1 L1508.2 180.1 L1509.3 126.5 L1510.4 180.1 L1511.7 179.9 L1513.5 180.1 L1514.6 126.5 L1515.7 180.1 L1517.7 180.0 L1520.7 180.3 L1523.7 180.3 L1526.7 180.1 L1527.8 105.7 L1528.9 180.1 L1529.7 179.8 L1532.7 180.2 L1535.7 180.1 L1536.8 123.8 L1537.9 180.1 L1539.2 180.1 L1540.3 123.8 L1541.4 180.1 L1541.9 180.1 L1543.0 123.8 L1544.1 180.1 L1544.7 179.8 L1547.7 180.2 L1549.9 180.1 L1551.0 115.4 L1552.1 180.1 L1553.8 180.1 L1554.9 122.4 L1556.0 180.1 L1556.7 180.0 L1559.7 180.3 L1561.0 180.0 L1562.1 103.6 L1563.2 180.0 L1565.7 180.3 L1568.7 180.0 L1571.7 180.3 L1574.7 179.9 L1577.0 180.0 L1578.1 121.7 L1579.0 180.0 L1579.2 180.0 L1580.1 121.0 L1581.2 180.0 L1583.2 180.0 L1584.3 121.7 L1585.4 180.0 L1586.7 179.8 L1589.7 180.1 L1590.8 180.0 L1591.9 121.5 L1593.0 180.0 L1594.7 180.0 L1595.8 121.5 L1596.9 180.0 L1598.7 179.7 L1601.7 179.8 L1604.7 179.8 L1607.7 179.8 L1610.4 179.5 L1611.5 120.7 L1611.8 179.5 L1612.6 179.5 L1612.9 119.3 L1614.0 179.5 L1616.7 179.1 L1618.3 179.2 L1619.4 120.7 L1620.5 179.2 L1620.6 179.1 L1621.7 120.7 L1622.8 179.1 L1625.7 178.7 L1628.7 179.1 L1631.7 178.6 L1634.0 178.6 L1635.1 56.8 L1636.2 178.6 L1637.7 178.8 L1638.6 178.4 L1639.7 74.2 L1640.8 178.4 L1643.7 178.5 L1646.7 178.1 L1649.7 178.0 L1652.7 177.9 L1655.7 177.7 L1658.7 177.5 L1661.7 177.3 L1664.7 177.2 L1667.7 177.2 L1669.5 176.8 L1670.6 122.1 L1671.7 176.8 L1673.7 176.6 L1676.7 176.4 L1679.7 176.4 L1682.7 175.9 L1685.7 175.7 L1688.7 176.0 L1691.7 175.5 L1694.7 175.3 L1696.5 175.1 L1697.6 123.5 L1698.7 175.1 L1700.0 174.9 L1701.1 123.5 L1702.2 174.9 L1703.7 174.5 L1706.7 174.5 L1708.3 174.4 L1709.4 122.1 L1710.5 174.4 L1712.7 174.2 L1715.7 173.6 L1718.7 173.8 L1721.7 173.6 L1724.7 173.0 L1727.7 173.2 L1730.7 172.9 L1733.7 172.8 L1736.7 172.4 L1739.7 172.4 L1741.0 172.1 L1742.1 119.3 L1743.2 172.1 L1745.2 171.8 L1746.3 117.9 L1747.4 171.8 L1748.7 171.8 L1752.1 171.3 L1753.2 117.9 L1754.3 171.3 L1757.7 170.8 L1758.3 170.7" fill="none" stroke="#4512d9" stroke-width="2.5" stroke-linejoin="round"/>
<path d="M1232.7 183.1 L1235.7 183.2 L1238.3 183.0 L1239.4 136.6 L1240.5 183.0 L1241.7 183.2 L1244.7 183.4 L1247.7 183.3 L1250.2 183.1 L1251.3 128.2 L1252.4 183.1 L1253.7 183.4 L1256.7 182.9 L1259.7 183.2 L1262.2 183.2 L1263.3 130.6 L1264.4 183.2 L1265.7 183.5 L1268.7 183.4 L1269.6 183.3 L1270.7 129.9 L1271.8 183.3 L1274.7 183.6 L1277.7 183.1 L1279.3 183.4 L1280.4 116.4 L1281.0 183.4 L1281.5 183.4 L1282.1 119.4 L1283.2 183.4 L1286.7 183.4 L1289.7 183.3 L1291.4 183.4 L1292.5 128.5 L1293.6 183.4 L1295.7 183.5 L1298.7 183.5 L1301.7 180.7 L1304.7 178.8 L1307.7 178.9 L1310.7 179.2 L1313.7 179.2 L1315.4 179.0 L1316.5 126.4 L1317.6 179.0 L1319.7 178.8 L1322.7 179.2 L1324.2 179.0 L1325.3 106.3 L1326.4 179.0 L1328.6 179.0 L1329.7 125.7 L1330.8 179.0 L1331.7 178.8 L1334.6 179.0 L1335.7 124.3 L1336.8 179.0 L1337.7 179.1 L1338.3 179.0 L1339.4 125.0 L1340.5 179.0 L1342.2 178.4 L1343.3 75.0 L1344.4 178.4 L1346.7 172.7 L1349.7 172.5 L1352.7 172.9 L1355.7 172.3 L1358.7 172.1 L1361.7 172.4 L1364.7 172.2 L1367.7 171.7 L1370.7 171.9 L1373.7 171.5 L1376.7 171.4 L1379.7 171.0 L1382.7 171.3 L1385.7 171.0 L1388.7 171.0 L1391.7 170.8 L1394.2 170.3 L1395.3 66.0 L1396.4 170.3 L1397.7 170.1 L1400.7 170.0 L1403.7 169.7 L1405.4 169.7 L1406.5 118.1 L1407.6 169.7 L1409.7 169.3 L1412.7 169.1 L1415.7 169.1 L1418.7 169.1 L1421.7 168.7 L1424.7 169.1 L1427.7 168.8 L1430.7 168.8 L1431.5 168.9 L1432.6 118.8 L1433.7 168.9 L1436.7 169.1 L1440.2 168.8 L1441.3 118.8 L1442.4 168.8 L1445.7 168.8 L1448.7 168.7 L1451.7 168.7 L1454.7 168.8 L1457.7 168.4 L1460.7 168.9 L1463.7 168.3 L1466.7 168.8 L1469.7 170.5 L1472.1 172.6 L1473.2 112.5 L1474.3 172.6 L1475.7 172.3 L1476.7 172.6 L1477.8 120.1 L1478.9 172.6 L1481.7 172.8 L1484.7 172.5 L1487.7 172.6 L1490.7 172.3 L1492.0 172.6 L1493.1 121.5 L1494.2 172.6 L1496.7 172.3 L1499.7 172.4 L1502.7 172.9 L1505.7 172.4 L1508.2 172.6 L1509.3 127.5 L1510.4 172.6 L1511.7 172.8 L1513.5 172.6 L1514.6 127.5 L1515.7 172.6 L1517.7 172.9 L1520.7 172.9 L1523.7 172.5 L1526.7 172.8 L1527.8 106.7 L1528.9 172.8 L1529.7 172.8 L1532.7 173.1 L1535.7 173.4 L1536.8 124.8 L1537.9 173.4 L1539.2 173.6 L1540.3 124.8 L1541.4 173.6 L1541.9 173.8 L1543.0 124.8 L1544.1 173.8 L1544.7 174.1 L1547.7 173.9 L1549.9 174.4 L1551.0 116.4 L1552.1 174.4 L1553.8 174.7 L1554.9 123.4 L1556.0 174.7 L1556.7 174.9 L1559.7 175.2 L1561.0 175.1 L1562.1 104.6 L1563.2 175.1 L1565.7 175.5 L1568.7 175.2 L1571.7 175.9 L1574.7 175.5 L1577.0 175.9 L1578.1 122.7 L1579.0 176.0 L1579.2 175.9 L1580.1 122.0 L1581.2 176.0 L1583.2 176.2 L1584.3 122.7 L1585.4 176.2 L1586.7 176.2 L1589.7 176.6 L1590.8 176.6 L1591.9 122.5 L1593.0 176.6 L1594.7 176.8 L1595.8 122.5 L1596.9 176.8 L1598.7 177.2 L1601.7 176.9 L1604.7 177.3 L1607.7 177.1 L1610.4 177.1 L1611.5 121.7 L1611.8 177.1 L1612.6 177.1 L1612.9 120.3 L1614.0 177.1 L1616.7 177.0 L1618.3 177.2 L1619.4 121.7 L1620.5 177.2 L1620.6 177.2 L1621.7 121.7 L1622.8 177.2 L1625.7 177.1 L1628.7 177.0 L1631.7 177.0 L1634.0 177.3 L1635.1 57.8 L1636.2 177.3 L1637.7 177.1 L1638.6 177.3 L1639.7 75.2 L1640.8 177.3 L1643.7 177.5 L1646.7 177.7 L1649.7 177.2 L1652.7 177.2 L1655.7 177.8 L1658.7 177.5 L1661.7 177.1 L1664.7 176.5 L1667.7 176.1 L1669.5 175.6 L1670.6 123.1 L1671.7 175.6 L1673.7 175.2 L1676.7 174.4 L1679.7 173.8 L1682.7 173.1 L1685.7 173.0 L1688.7 172.0 L1691.7 171.7 L1694.7 171.3 L1696.5 170.5 L1697.6 118.5 L1698.7 170.5 L1700.0 169.8 L1701.1 118.5 L1702.2 169.8 L1703.7 169.0 L1706.7 168.8 L1708.3 168.1 L1709.4 117.1 L1710.5 168.1 L1712.7 167.7 L1715.7 166.9 L1718.7 166.4 L1721.7 165.7 L1724.7 165.9 L1727.7 165.6 L1730.7 166.0 L1733.7 165.6 L1736.7 165.6 L1739.7 165.9 L1741.0 165.5 L1742.1 114.3 L1743.2 165.5 L1745.2 165.4 L1746.3 112.9 L1747.4 165.4 L1748.7 165.5 L1752.1 165.2 L1753.2 112.9 L1754.3 165.2 L1757.7 165.3 L1758.3 165.0" fill="none" stroke="#e9659f" stroke-width="2.5" stroke-linejoin="round"/>
<path d="M1232.7 184.0 L1235.7 184.0 L1237.0 183.3 L1239.4 151.7 L1241.8 183.3 L1244.7 182.6 L1247.7 182.7 L1248.9 183.3 L1251.3 146.7 L1253.7 183.3 L1256.7 183.9 L1259.7 183.7 L1260.9 183.4 L1263.3 151.7 L1265.7 183.4 L1268.3 183.4 L1270.7 151.3 L1273.1 183.4 L1274.7 183.6 L1278.0 183.4 L1279.7 183.4 L1280.4 139.6 L1282.1 145.0 L1282.8 183.4 L1284.5 183.4 L1286.7 183.1 L1290.1 183.4 L1292.5 150.5 L1294.9 183.4 L1295.7 183.6 L1298.7 183.6 L1301.7 183.6 L1304.7 182.9 L1307.7 183.3 L1310.7 183.3 L1314.1 183.5 L1316.5 149.2 L1318.9 183.5 L1319.7 183.8 L1322.9 183.5 L1325.3 137.2 L1327.3 183.5 L1327.7 183.5 L1329.7 148.8 L1332.1 183.5 L1333.3 183.5 L1335.7 148.0 L1337.0 183.5 L1338.1 183.5 L1339.4 148.4 L1340.9 183.5 L1341.8 183.5 L1343.3 118.4 L1345.7 183.5 L1346.7 184.3 L1349.7 184.2 L1352.7 183.6 L1355.7 183.4 L1358.7 183.1 L1361.7 182.8 L1364.7 182.7 L1367.7 183.4 L1370.7 183.2 L1373.7 183.3 L1376.7 184.1 L1379.7 183.5 L1382.7 183.6 L1385.7 183.1 L1388.7 182.7 L1391.7 182.0 L1392.9 180.0 L1395.3 111.6 L1397.7 180.0 L1400.7 179.4 L1404.1 180.0 L1406.5 142.9 L1408.9 180.0 L1409.7 180.0 L1412.7 180.8 L1415.7 180.3 L1418.7 179.5 L1421.7 180.6 L1424.7 180.5 L1427.7 180.4 L1430.2 180.0 L1432.6 143.2 L1435.0 180.0 L1436.7 180.7 L1438.9 180.0 L1441.3 143.2 L1443.7 180.0 L1445.7 180.4 L1448.7 180.5 L1451.7 179.8 L1454.7 180.8 L1457.7 180.7 L1460.7 179.5 L1463.7 180.4 L1466.7 180.3 L1469.7 179.9 L1470.8 176.2 L1473.2 138.0 L1475.4 170.6 L1475.6 176.2 L1477.8 140.3 L1480.2 170.6 L1481.7 168.0 L1484.7 167.9 L1487.7 168.5 L1490.7 167.7 L1493.1 140.0 L1495.5 167.7 L1496.7 167.6 L1499.7 168.0 L1502.7 167.2 L1505.7 168.0 L1506.9 167.3 L1509.3 139.8 L1511.7 167.3 L1512.2 167.1 L1514.6 139.8 L1517.0 167.1 L1517.7 167.7 L1520.7 166.9 L1523.7 167.0 L1525.4 166.8 L1527.8 127.1 L1530.2 166.8 L1532.7 167.4 L1534.4 166.6 L1536.8 137.9 L1537.9 166.5 L1539.2 166.6 L1540.3 137.8 L1540.6 166.4 L1542.7 166.5 L1543.0 137.8 L1545.4 166.4 L1547.7 166.7 L1548.6 166.2 L1551.0 132.7 L1552.5 166.1 L1553.4 166.2 L1554.9 136.9 L1557.3 166.1 L1559.7 165.8 L1562.1 125.5 L1564.5 165.8 L1565.7 165.6 L1568.7 164.9 L1571.7 164.8 L1574.7 165.2 L1575.7 164.6 L1577.7 164.5 L1578.1 135.9 L1580.1 135.4 L1580.5 164.6 L1581.9 164.2 L1582.5 164.5 L1584.3 135.7 L1586.7 164.2 L1589.5 163.6 L1591.9 135.3 L1593.4 163.3 L1594.3 163.6 L1595.8 135.2 L1598.2 163.3 L1601.7 162.5 L1604.7 163.7 L1607.7 162.6 L1609.1 163.0 L1610.5 163.0 L1611.5 134.6 L1612.9 133.8 L1613.9 163.0 L1615.3 163.0 L1617.0 163.0 L1619.3 163.0 L1619.4 134.6 L1621.7 134.6 L1621.8 163.0 L1624.1 163.0 L1625.7 163.7 L1628.7 162.7 L1631.7 163.7 L1632.7 163.0 L1635.1 96.3 L1637.3 163.0 L1637.5 163.0 L1639.7 106.7 L1642.1 163.0 L1643.7 163.3 L1646.7 163.0 L1649.7 163.0 L1652.7 163.2 L1655.7 163.1 L1658.7 162.7 L1661.7 162.5 L1664.7 163.0 L1668.2 163.0 L1670.6 135.5 L1673.0 163.0 L1673.7 163.7 L1676.7 163.2 L1679.7 162.3 L1682.7 163.5 L1685.7 163.4 L1688.7 163.7 L1691.7 162.5 L1695.2 164.1 L1697.6 136.7 L1698.7 165.2 L1700.0 164.1 L1701.1 137.2 L1703.5 165.2 L1707.0 167.8 L1709.4 137.4 L1711.8 167.8 L1712.7 168.4 L1715.7 167.3 L1718.7 168.2 L1721.7 167.6 L1724.7 167.6 L1727.7 168.6 L1730.7 167.4 L1733.7 168.0 L1736.7 168.6 L1739.7 168.0 L1742.1 135.8 L1743.9 168.0 L1744.5 168.0 L1746.3 134.9 L1748.7 168.0 L1750.8 168.0 L1753.2 134.9 L1755.6 168.0 L1757.7 167.6 L1758.3 167.5" fill="none" stroke="#3b3590" stroke-width="2.5" stroke-linejoin="round" stroke-dasharray="7.4 3"/>
<path d="M1232.7 177.6 L1235.7 177.3 L1237.0 177.9 L1239.4 156.6 L1241.8 177.9 L1244.7 177.7 L1247.7 177.2 L1248.9 177.8 L1251.3 152.8 L1253.7 177.8 L1256.7 177.0 L1259.7 177.5 L1260.9 177.6 L1263.3 156.4 L1265.7 177.6 L1268.3 177.5 L1270.7 156.1 L1273.1 177.5 L1274.7 178.1 L1278.0 177.4 L1279.7 177.3 L1280.4 147.2 L1282.1 151.3 L1282.8 177.4 L1284.5 177.3 L1286.7 177.8 L1290.1 177.2 L1292.5 155.3 L1294.9 177.2 L1295.7 177.6 L1298.7 176.7 L1301.7 177.1 L1304.7 176.7 L1307.7 176.5 L1310.7 176.3 L1314.1 176.9 L1316.5 154.2 L1318.9 176.9 L1319.7 176.4 L1322.9 176.8 L1325.3 145.1 L1327.3 176.7 L1327.7 176.8 L1329.7 153.8 L1332.1 176.7 L1333.3 176.6 L1335.7 153.1 L1337.0 176.6 L1338.1 176.6 L1339.4 153.4 L1340.9 176.5 L1341.8 176.6 L1343.3 130.8 L1345.7 176.5 L1346.7 177.2 L1349.7 177.1 L1352.7 177.1 L1355.7 177.1 L1358.7 176.2 L1361.7 176.4 L1364.7 176.9 L1367.7 177.1 L1370.7 177.3 L1373.7 177.4 L1376.7 176.2 L1379.7 177.0 L1382.7 177.2 L1385.7 176.9 L1388.7 176.4 L1391.7 176.9 L1392.9 177.0 L1395.3 127.1 L1397.7 177.0 L1400.7 176.4 L1404.1 177.1 L1406.5 150.6 L1408.9 177.1 L1409.7 177.9 L1412.7 177.8 L1415.7 177.3 L1418.7 177.0 L1421.7 178.0 L1424.7 177.5 L1427.7 178.0 L1430.2 177.4 L1432.6 151.0 L1435.0 177.4 L1436.7 178.0 L1438.9 177.5 L1441.3 151.1 L1443.7 177.5 L1445.7 177.5 L1448.7 177.4 L1451.7 177.7 L1454.7 177.4 L1457.7 177.0 L1460.7 177.3 L1463.7 178.1 L1466.7 176.9 L1469.7 176.9 L1470.8 177.6 L1473.2 148.3 L1475.4 177.6 L1475.6 177.6 L1477.8 151.7 L1480.2 177.6 L1481.7 177.8 L1484.7 177.3 L1487.7 177.7 L1490.7 177.7 L1493.1 152.4 L1495.5 177.7 L1496.7 177.6 L1499.7 177.4 L1502.7 178.5 L1505.7 177.2 L1506.9 177.7 L1509.3 152.4 L1511.7 177.7 L1512.2 177.7 L1514.6 152.4 L1517.0 177.7 L1517.7 177.6 L1520.7 177.3 L1523.7 178.0 L1525.4 177.8 L1527.8 143.1 L1530.2 177.8 L1532.7 177.4 L1534.4 177.8 L1536.8 151.2 L1537.9 177.8 L1539.2 177.8 L1540.3 151.2 L1540.6 177.8 L1542.7 177.8 L1543.0 151.2 L1545.4 177.8 L1547.7 177.6 L1548.6 177.8 L1551.0 147.5 L1552.5 177.9 L1553.4 177.8 L1554.9 150.7 L1557.3 177.9 L1559.7 177.9 L1562.1 142.2 L1564.5 177.9 L1565.7 178.3 L1568.7 177.6 L1571.7 178.0 L1574.7 178.6 L1575.7 177.9 L1577.7 177.9 L1578.1 150.4 L1580.1 150.1 L1580.5 177.9 L1581.9 178.0 L1582.5 177.9 L1584.3 150.4 L1586.7 178.0 L1589.5 178.0 L1591.9 150.3 L1593.4 178.0 L1594.3 178.0 L1595.8 150.3 L1598.2 178.0 L1601.7 177.3 L1604.7 177.1 L1607.7 177.2 L1609.1 177.4 L1610.5 177.4 L1611.5 149.6 L1612.9 149.0 L1613.9 177.4 L1615.3 177.4 L1617.0 177.0 L1619.3 176.9 L1619.4 149.4 L1621.7 149.4 L1621.8 177.0 L1624.1 176.9 L1625.7 177.1 L1628.7 176.7 L1631.7 176.0 L1632.7 176.2 L1635.1 120.2 L1637.3 176.0 L1637.5 176.2 L1639.7 127.9 L1642.1 176.0 L1643.7 175.5 L1646.7 175.1 L1649.7 175.4 L1652.7 174.6 L1655.7 175.5 L1658.7 175.7 L1661.7 175.6 L1664.7 175.1 L1668.2 174.5 L1670.6 148.7 L1673.0 174.5 L1673.7 175.1 L1676.7 173.4 L1679.7 173.7 L1682.7 174.6 L1685.7 174.2 L1688.7 173.4 L1691.7 174.1 L1695.2 173.1 L1697.6 148.5 L1698.7 172.9 L1700.0 173.1 L1701.1 148.4 L1703.5 172.9 L1707.0 172.2 L1709.4 147.4 L1711.8 172.2 L1712.7 172.1 L1715.7 172.2 L1718.7 171.1 L1721.7 170.6 L1724.7 170.8 L1727.7 170.0 L1730.7 170.2 L1733.7 170.8 L1736.7 169.6 L1739.7 169.4 L1742.1 144.6 L1743.9 169.0 L1744.5 169.4 L1746.3 143.8 L1748.7 169.0 L1750.8 168.4 L1753.2 143.4 L1755.6 168.4 L1757.7 167.3 L1758.3 167.3" fill="none" stroke="#7444dc" stroke-width="2.5" stroke-linejoin="round" stroke-dasharray="7.4 3"/>
<path d="M1232.7 185.2 L1235.7 185.2 L1237.0 184.7 L1239.4 165.8 L1241.8 184.7 L1244.7 184.6 L1247.7 184.3 L1248.9 184.6 L1251.3 162.8 L1253.7 184.6 L1256.7 183.8 L1259.7 184.9 L1260.9 184.6 L1263.3 165.7 L1265.7 184.6 L1268.3 184.6 L1270.7 165.4 L1273.1 184.6 L1274.7 184.5 L1278.0 184.6 L1279.7 184.6 L1280.4 158.6 L1282.1 161.7 L1282.8 184.6 L1284.5 184.6 L1286.7 185.0 L1290.1 184.5 L1292.5 164.9 L1294.9 184.5 L1295.7 184.3 L1298.7 184.9 L1301.7 183.9 L1304.7 184.2 L1307.7 183.6 L1310.7 182.6 L1314.1 181.8 L1316.5 162.4 L1318.9 181.8 L1319.7 181.3 L1322.9 180.3 L1325.3 154.4 L1327.3 179.6 L1327.7 180.3 L1329.7 160.7 L1332.1 179.6 L1333.3 178.6 L1335.7 159.6 L1337.0 177.9 L1338.1 178.6 L1339.4 159.4 L1340.9 177.3 L1341.8 177.9 L1343.3 141.5 L1345.7 177.3 L1346.7 177.2 L1349.7 176.3 L1352.7 176.7 L1355.7 176.9 L1358.7 175.9 L1361.7 176.6 L1364.7 176.2 L1367.7 176.3 L1370.7 175.4 L1373.7 174.8 L1376.7 175.8 L1379.7 175.6 L1382.7 174.9 L1385.7 174.2 L1388.7 174.2 L1391.7 174.7 L1392.9 174.3 L1395.3 136.4 L1397.7 174.3 L1400.7 173.7 L1404.1 173.7 L1406.5 154.3 L1408.9 173.7 L1409.7 174.3 L1412.7 173.5 L1415.7 172.8 L1418.7 173.3 L1421.7 172.8 L1424.7 173.6 L1427.7 173.5 L1430.2 172.8 L1432.6 153.9 L1435.0 172.8 L1436.7 172.8 L1438.9 172.7 L1441.3 153.8 L1443.7 172.7 L1445.7 172.9 L1448.7 172.9 L1451.7 173.0 L1454.7 173.3 L1457.7 172.1 L1460.7 173.1 L1463.7 173.9 L1466.7 173.8 L1469.7 174.7 L1470.8 175.0 L1473.2 153.2 L1475.4 175.7 L1475.6 175.0 L1477.8 156.2 L1480.2 175.7 L1481.7 175.4 L1484.7 176.7 L1487.7 176.2 L1490.7 176.3 L1493.1 157.1 L1495.5 176.3 L1496.7 175.8 L1499.7 176.8 L1502.7 176.3 L1505.7 176.2 L1506.9 176.7 L1509.3 157.4 L1511.7 176.7 L1512.2 176.9 L1514.6 157.5 L1517.0 176.9 L1517.7 176.9 L1520.7 176.4 L1523.7 176.6 L1525.4 177.2 L1527.8 150.4 L1530.2 177.2 L1532.7 177.9 L1534.4 177.4 L1536.8 156.9 L1537.9 177.5 L1539.2 177.4 L1540.3 156.9 L1540.6 177.6 L1542.7 177.5 L1543.0 157.0 L1545.4 177.6 L1547.7 178.0 L1548.6 177.8 L1551.0 154.2 L1552.5 177.9 L1553.4 177.8 L1554.9 156.7 L1557.3 177.9 L1559.7 178.1 L1562.1 150.2 L1564.5 178.1 L1565.7 177.4 L1568.7 178.7 L1571.7 177.5 L1574.7 178.1 L1575.7 178.5 L1577.7 178.5 L1578.1 156.8 L1580.1 156.6 L1580.5 178.5 L1581.9 178.6 L1582.5 178.5 L1584.3 156.9 L1586.7 178.6 L1589.5 178.8 L1591.9 157.0 L1593.4 178.9 L1594.3 178.8 L1595.8 157.1 L1598.2 178.9 L1601.7 179.7 L1604.7 179.3 L1607.7 178.9 L1609.1 179.3 L1610.5 179.3 L1611.5 157.0 L1612.9 156.5 L1613.9 179.3 L1615.3 179.3 L1617.0 179.4 L1619.3 179.5 L1619.4 157.1 L1621.7 157.2 L1621.8 179.4 L1624.1 179.5 L1625.7 179.4 L1628.7 179.5 L1631.7 179.1 L1632.7 179.8 L1635.1 135.0 L1637.3 179.9 L1637.5 179.8 L1639.7 141.1 L1642.1 179.9 L1643.7 180.8 L1646.7 179.3 L1649.7 180.0 L1652.7 180.6 L1655.7 180.1 L1658.7 181.1 L1661.7 180.0 L1664.7 181.2 L1668.2 180.6 L1670.6 158.4 L1673.0 180.6 L1673.7 181.3 L1676.7 181.0 L1679.7 181.4 L1682.7 180.8 L1685.7 181.4 L1688.7 181.4 L1691.7 180.5 L1695.2 178.6 L1697.6 157.5 L1698.7 177.4 L1700.0 178.6 L1701.1 156.8 L1703.5 177.4 L1707.0 174.8 L1709.4 154.6 L1711.8 174.8 L1712.7 173.7 L1715.7 173.2 L1718.7 172.1 L1721.7 170.9 L1724.7 171.4 L1727.7 170.0 L1730.7 169.7 L1733.7 169.6 L1736.7 168.0 L1739.7 167.4 L1742.1 148.8 L1743.9 166.5 L1744.5 167.4 L1746.3 147.7 L1748.7 166.5 L1750.8 165.1 L1753.2 146.8 L1755.6 165.1 L1757.7 163.4 L1758.3 163.4" fill="none" stroke="#f2a2cc" stroke-width="2.5" stroke-linejoin="round" stroke-dasharray="7.4 3"/>
<path d="M2127.4 97.4h0M2068.9 147.8h0M2025.5 156.9h0M2087.3 166.1h0M2059.5 162.0h0M2028.5 178.8h0M2021.4 182.2h0M2015.6 179.8h0M2048.6 182.5h0M2085.4 129.6h0M2021.7 188.8h0M2017.6 192.4h0M2064.5 145.4h0M2017.3 187.1h0M2103.2 108.1h0M2021.8 169.5h0M2036.4 178.6h0M2024.9 178.7h0M2048.8 131.0h0M2028.1 157.8h0" stroke="#9b22cc" stroke-width="4.6" stroke-linecap="round" fill="none"/>
<path d="M2019.3 165.9h0M2035.1 154.4h0M2057.9 155.4h0M2030.4 148.4h0M2025.6 169.5h0M2034.6 144.9h0M2051.9 136.5h0M2044.7 149.6h0M2036.2 151.2h0M2074.2 136.8h0M2015.9 188.1h0M2071.9 132.8h0M2015.6 193.0h0M2046.1 164.4h0M2015.7 204.4h0M2064.2 177.0h0M2017.7 184.2h0M2048.4 149.1h0M2015.6 173.6h0M2018.9 167.5h0" stroke="#e9659f" stroke-width="4.6" stroke-linecap="round" fill="none"/>
<path d="M2045.7 152.9h0M2018.6 191.4h0M2034.0 148.8h0M2022.7 182.7h0M2020.4 186.5h0M2015.6 180.2h0M2028.1 160.1h0M2033.2 176.2h0M2026.3 175.9h0M2043.2 159.4h0M2079.9 146.9h0M2016.7 185.4h0M2033.6 159.1h0M2020.6 183.6h0M2015.7 192.4h0M2016.3 191.6h0M2018.6 169.4h0M2044.0 144.0h0M2018.7 167.9h0M2018.2 175.8h0" stroke="#4512d9" stroke-width="4.6" stroke-linecap="round" fill="none"/>
<path d="M2115.1 116.7h0M2059.9 141.6h0M2017.7 189.6h0M2015.8 203.4h0M2066.4 131.4h0M2037.3 142.8h0M2015.6 181.5h0M2069.4 141.9h0M2019.4 201.0h0M2017.5 197.1h0M2017.0 189.3h0M2019.4 164.6h0M2016.0 197.8h0M2066.9 129.7h0M2016.1 176.3h0M2018.8 185.9h0M2030.4 150.3h0M2016.6 168.5h0M2025.8 167.2h0M2078.1 154.3h0" stroke="#0505c4" stroke-width="4.6" stroke-linecap="round" fill="none"/>
<path d="M2015.7 188.1h0M2117.3 97.7h0M2072.4 118.5h0M2015.6 178.0h0M2015.6 179.9h0M2018.4 160.0h0M2038.4 156.7h0M2074.7 170.6h0M2072.5 137.6h0M2043.2 170.4h0M2019.8 177.1h0M2027.8 143.6h0M2057.2 166.2h0M2031.9 174.5h0M2015.6 195.1h0M2034.7 155.7h0M2098.0 100.7h0M2070.0 128.1h0M2015.6 189.7h0M2036.6 153.5h0" stroke="#03034f" stroke-width="4.6" stroke-linecap="round" fill="none"/>
<path d="M2016.4 182.7h0M2016.0 178.2h0M2018.8 198.9h0M2024.3 172.9h0M2023.8 168.9h0M2060.6 169.4h0M2059.7 170.1h0M2018.5 178.3h0M2015.7 178.5h0M2029.3 189.7h0M2064.0 167.4h0M2040.4 155.6h0M2027.0 155.1h0M2111.9 129.3h0M2015.6 190.9h0M2054.7 137.1h0M2057.2 159.0h0M2020.7 200.1h0M2085.5 116.7h0M2129.9 124.6h0" stroke="#e9659f" stroke-width="4.6" stroke-linecap="round" fill="none"/>
<path d="M2111.4 141.6h0M2015.6 182.0h0M2015.6 196.7h0M2021.6 183.0h0M2015.6 197.8h0M2084.2 106.0h0M2020.8 172.3h0M2017.7 191.2h0M2020.3 165.7h0M2073.3 136.9h0M2015.6 185.1h0M2131.3 88.2h0M2023.0 177.3h0M2060.4 124.1h0M2045.4 132.4h0M2015.6 171.6h0M2015.7 183.8h0M2018.8 160.8h0M2038.8 178.5h0M2016.7 178.6h0" stroke="#4512d9" stroke-width="4.6" stroke-linecap="round" fill="none"/>
<path d="M2015.6 194.7h0M2043.8 136.7h0M2084.9 128.6h0M2033.3 171.8h0M2060.4 154.4h0M2048.4 140.5h0M2041.8 148.8h0M2102.3 132.8h0M2018.6 196.6h0M2126.7 115.1h0M2090.2 117.0h0M2015.8 192.1h0M2017.3 199.8h0M2015.6 173.2h0M2031.4 155.2h0M2067.9 149.0h0M2015.6 180.3h0M2041.0 145.6h0M2024.5 194.9h0M2052.0 177.2h0" stroke="#0505c4" stroke-width="4.6" stroke-linecap="round" fill="none"/>
<path d="M2017.0 182.3h0M2057.5 137.5h0M2015.6 192.8h0M2045.5 159.2h0M2029.9 149.8h0M2028.1 179.1h0M2106.4 109.2h0M2072.0 130.4h0M2075.1 166.1h0M2037.7 177.0h0M2016.4 182.8h0M2015.8 177.5h0M2042.8 138.0h0M2016.4 190.4h0M2015.6 191.0h0M2031.4 162.5h0M2015.6 179.6h0M2065.3 149.9h0M2052.9 152.6h0M2016.0 192.4h0" stroke="#03034f" stroke-width="4.6" stroke-linecap="round" fill="none"/>
<path d="M2017.7 202.7h0M2041.4 147.9h0M2019.4 186.4h0M2016.1 197.5h0M2028.0 176.2h0M2054.3 164.3h0M2021.1 184.9h0M2025.5 161.0h0M2021.3 194.8h0M2088.8 139.9h0M2030.6 148.6h0M2038.0 150.8h0M2058.6 139.9h0M2075.1 144.1h0M2130.9 110.5h0M2071.9 163.2h0M2023.4 193.5h0M2015.6 172.3h0M2025.2 182.3h0M2015.7 183.5h0" stroke="#9b22cc" stroke-width="4.6" stroke-linecap="round" fill="none"/>
<path d="M2015.6 198.3h0M2025.3 183.7h0M2029.6 184.3h0M2039.1 147.6h0M2047.6 153.0h0M2026.8 144.7h0M2031.3 141.3h0M2045.6 180.4h0M2016.2 191.6h0M2016.1 184.1h0M2016.2 193.2h0M2084.0 137.6h0M2029.7 185.4h0M2015.7 199.7h0M2085.0 135.6h0M2069.4 161.8h0M2088.0 143.6h0M2056.1 176.2h0M2015.7 175.3h0M2061.6 157.4h0" stroke="#4512d9" stroke-width="4.6" stroke-linecap="round" fill="none"/>
<path d="M2134.8 106.3h0M2040.8 160.2h0M2044.4 139.3h0M2042.0 145.1h0M2072.9 156.3h0M2015.6 192.7h0M2018.2 165.5h0M2016.0 185.7h0M2021.9 173.9h0M2104.3 120.3h0M2073.6 128.9h0M2018.3 177.9h0M2018.7 173.3h0M2125.5 102.5h0M2100.2 140.4h0M2027.5 148.4h0M2016.0 175.1h0M2045.7 159.6h0M2022.1 173.4h0M2015.9 192.5h0" stroke="#0505c4" stroke-width="4.6" stroke-linecap="round" fill="none"/>
<path d="M2071.5 146.9h0M2068.4 174.4h0M2021.5 182.7h0M2015.6 191.9h0M2091.0 128.8h0M2017.4 197.2h0M2015.6 177.4h0M2025.1 146.8h0M2046.8 160.2h0M2015.6 186.0h0M2029.1 174.5h0M2016.1 194.2h0M2015.7 186.6h0M2022.3 178.2h0M2017.2 193.7h0M2015.6 187.7h0M2076.5 114.8h0M2026.7 177.2h0M2025.2 157.0h0M2018.7 167.5h0" stroke="#03034f" stroke-width="4.6" stroke-linecap="round" fill="none"/>
<path d="M2015.6 179.7h0M2023.2 179.7h0M2029.2 184.0h0M2019.6 170.1h0M2089.1 139.0h0M2038.9 139.2h0M2067.3 131.9h0M2039.5 138.2h0M2026.9 150.2h0M2015.9 202.2h0M2108.6 112.2h0M2017.7 183.4h0M2031.1 168.9h0M2020.4 174.6h0M2015.7 184.3h0M2029.6 157.3h0M2028.9 147.9h0M2019.4 174.7h0M2017.9 198.7h0M2024.3 163.9h0" stroke="#9b22cc" stroke-width="4.6" stroke-linecap="round" fill="none"/>
<path d="M2078.1 152.0h0M2069.4 142.2h0M2090.2 113.4h0M2018.6 201.9h0M2015.7 197.7h0M2015.6 187.6h0M2018.1 188.8h0M2109.1 138.9h0M2026.2 189.5h0M2043.2 157.5h0M2021.7 183.3h0M2019.2 177.6h0M2046.1 184.3h0M2079.9 130.8h0M2045.4 145.4h0M2086.2 151.6h0M2018.9 171.0h0M2060.8 174.0h0M2017.1 191.1h0M2107.6 136.7h0" stroke="#e9659f" stroke-width="4.6" stroke-linecap="round" fill="none"/>
<path d="M2015.6 173.5h0M2029.3 183.9h0M2022.9 182.2h0M2083.7 143.6h0M2025.5 165.8h0M2106.0 113.4h0M2042.3 174.9h0M2015.8 172.5h0M2023.2 189.1h0M2036.9 149.9h0M2019.6 159.9h0M2015.6 180.6h0M2068.6 142.0h0M2049.4 159.0h0M2046.1 154.4h0M2021.1 182.0h0M2040.2 132.0h0M2046.2 128.4h0M2024.9 147.0h0M2015.6 180.7h0" stroke="#0505c4" stroke-width="4.6" stroke-linecap="round" fill="none"/>
<path d="M2029.5 176.0h0M2054.3 148.7h0M2047.2 174.2h0M2020.2 163.2h0M2015.6 176.0h0M2123.8 119.5h0M2016.7 171.6h0M2125.0 118.9h0M2022.5 177.0h0M2077.4 122.1h0M2119.7 105.2h0M2025.6 185.1h0M2015.6 192.6h0M2114.6 125.1h0M2079.8 140.0h0M2037.9 158.2h0M2026.1 178.2h0M2015.6 195.8h0M2021.4 177.9h0M2026.1 175.5h0" stroke="#03034f" stroke-width="4.6" stroke-linecap="round" fill="none"/>
<path d="M2046.1 149.8h0M2067.9 174.8h0M2022.9 149.5h0M2133.8 114.2h0M2015.6 199.3h0M2015.7 191.4h0M2108.2 156.4h0M2016.1 179.2h0M2098.4 100.6h0M2080.7 122.7h0M2041.5 167.9h0M2017.5 172.3h0M2057.1 153.5h0M2091.2 157.5h0M2091.6 153.8h0M2018.4 199.5h0M2030.0 160.4h0M2048.9 160.5h0M2029.1 191.1h0M2051.3 182.5h0" stroke="#9b22cc" stroke-width="4.6" stroke-linecap="round" fill="none"/>
<path d="M2020.7 176.9h0M2109.1 141.3h0M2046.3 184.2h0M2119.6 109.1h0M2016.6 194.9h0M2015.6 182.5h0M2111.0 118.1h0M2015.6 181.0h0M2049.4 168.6h0M2016.9 193.8h0M2098.0 158.2h0M2051.1 139.8h0M2098.4 148.6h0M2085.6 134.4h0M2015.6 187.5h0M2108.4 134.9h0M2019.2 177.5h0M2041.7 141.1h0M2109.5 129.0h0M2098.9 149.2h0" stroke="#e9659f" stroke-width="4.6" stroke-linecap="round" fill="none"/>
<path d="M2057.2 158.4h0M2017.1 177.6h0M2038.6 172.1h0M2015.6 176.4h0M2027.9 180.6h0M2074.0 122.0h0M2036.9 170.2h0M2031.1 157.3h0M2017.7 175.5h0M2099.6 147.9h0M2015.6 188.4h0M2033.2 169.5h0M2087.9 123.9h0M2086.4 149.9h0M2028.6 153.6h0M2047.3 178.0h0M2016.6 174.0h0M2080.9 132.8h0M2017.4 169.4h0M2015.6 193.6h0" stroke="#4512d9" stroke-width="4.6" stroke-linecap="round" fill="none"/>
<path d="M2015.6 171.8h0M2016.4 185.8h0M2026.7 153.9h0M2015.6 200.3h0M2018.1 185.1h0M2051.1 125.9h0M2015.6 196.7h0M2054.9 135.7h0M2053.4 128.4h0M2034.9 151.5h0M2134.9 98.5h0M2030.6 165.9h0M2091.5 110.4h0M2066.8 126.6h0M2079.5 160.9h0M2032.1 147.6h0M2104.1 121.0h0M2074.2 114.7h0M2015.7 179.2h0M2067.1 152.6h0" stroke="#03034f" stroke-width="4.6" stroke-linecap="round" fill="none"/>
<path d="M2043.5 158.5h0M2069.3 137.0h0M2023.7 197.5h0M2016.9 184.3h0M2131.5 120.9h0M2015.7 175.1h0M2061.0 137.5h0M2015.6 189.8h0M2016.2 187.6h0M2016.5 185.3h0M2017.1 193.5h0M2016.7 190.2h0M2019.0 174.6h0M2015.6 203.3h0M2029.6 183.4h0M2016.0 183.0h0M2022.7 188.6h0M2018.6 166.7h0M2045.9 179.2h0M2072.7 158.9h0" stroke="#9b22cc" stroke-width="4.6" stroke-linecap="round" fill="none"/>
<path d="M2015.6 183.6h0M2038.0 168.5h0M2015.7 179.1h0M2029.4 161.9h0M2022.9 169.3h0M2028.6 186.8h0M2033.6 143.0h0M2039.4 176.8h0M2016.8 203.4h0M2021.3 165.0h0M2026.0 168.5h0M2018.1 191.7h0M2129.3 116.7h0M2020.4 194.8h0M2106.2 123.2h0M2109.4 151.5h0M2121.9 138.3h0M2113.4 105.9h0M2041.8 178.6h0M2134.2 108.6h0" stroke="#e9659f" stroke-width="4.6" stroke-linecap="round" fill="none"/>
<path d="M2025.8 152.6h0M2016.0 178.8h0M2089.7 154.9h0M2038.9 172.4h0M2016.2 168.9h0M2016.2 183.0h0M2027.9 181.9h0M2015.9 174.8h0M2017.6 198.8h0M2022.5 152.2h0M2092.8 158.6h0M2018.7 167.6h0M2076.8 124.0h0M2015.6 189.6h0M2018.4 189.8h0M2015.6 192.0h0M2018.6 195.0h0M2064.9 166.3h0M2026.9 176.6h0M2019.5 167.2h0" stroke="#4512d9" stroke-width="4.6" stroke-linecap="round" fill="none"/>
<path d="M2129.6 103.5h0M2017.5 185.4h0M2015.6 179.6h0M2042.1 185.6h0M2016.1 174.0h0M2029.9 169.1h0M2023.0 183.9h0M2087.6 126.6h0M2086.3 118.4h0M2015.9 184.2h0M2038.3 157.1h0M2095.6 152.8h0M2096.2 116.6h0M2017.5 191.4h0M2020.1 186.4h0M2045.0 180.0h0M2016.2 176.8h0M2015.8 196.1h0M2016.3 177.9h0M2119.8 117.6h0" stroke="#0505c4" stroke-width="4.6" stroke-linecap="round" fill="none"/>
<path d="M2121.1 144.5h0M2015.8 173.7h0M2028.6 167.6h0M2015.6 184.9h0M2050.6 171.9h0M2103.8 131.9h0M2063.3 123.6h0M2128.4 102.1h0M2032.1 190.3h0M2015.7 184.6h0M2016.3 187.4h0M2101.5 118.1h0M2052.7 173.7h0M2015.6 172.7h0M2017.9 184.2h0M2033.1 156.6h0M2048.2 176.5h0M2031.8 174.6h0M2016.0 188.4h0M2027.8 160.5h0" stroke="#9b22cc" stroke-width="4.6" stroke-linecap="round" fill="none"/>
<path d="M2086.7 142.2h0M2015.6 196.3h0M2015.6 196.2h0M2081.0 126.0h0M2090.1 137.9h0M2015.6 204.1h0M2015.8 182.0h0M2060.8 178.4h0M2030.1 192.0h0M2043.6 154.9h0M2017.3 203.0h0M2046.1 172.1h0M2015.8 182.6h0M2016.7 167.6h0M2053.6 163.9h0M2103.6 111.4h0M2017.9 190.3h0M2022.3 167.2h0M2058.6 160.4h0M2108.3 136.3h0" stroke="#e9659f" stroke-width="4.6" stroke-linecap="round" fill="none"/>
<path d="M2015.6 192.9h0M2036.7 164.3h0M2028.9 151.3h0M2093.3 124.3h0M2038.8 151.5h0M2032.9 173.0h0M2016.2 167.0h0M2067.0 119.3h0M2016.6 188.8h0M2063.3 142.5h0M2015.9 191.7h0M2016.5 179.1h0M2017.8 176.6h0M2041.0 167.1h0M2090.9 127.9h0M2078.1 171.8h0M2076.2 137.2h0M2076.7 137.3h0M2104.0 105.8h0M2023.9 167.8h0" stroke="#4512d9" stroke-width="4.6" stroke-linecap="round" fill="none"/>
<path d="M2020.8 153.2h0M2017.8 183.8h0M2048.6 138.0h0M2106.2 127.7h0M2022.5 155.5h0M2124.8 92.6h0M2015.6 197.3h0M2015.6 181.6h0M2015.6 185.4h0M2044.4 143.3h0M2015.7 197.7h0M2108.9 142.0h0M2024.3 162.8h0M2015.6 185.2h0M2015.6 182.0h0M2117.5 148.3h0M2066.2 135.2h0M2016.2 185.2h0M2015.7 168.7h0M2019.7 155.7h0" stroke="#0505c4" stroke-width="4.6" stroke-linecap="round" fill="none"/>
<path d="M2033.0 151.6h0M2023.5 195.1h0M2023.1 149.3h0M2017.1 185.1h0M2030.7 162.3h0M2116.9 106.3h0M2072.4 118.1h0M2019.1 163.0h0M2032.5 168.0h0M2045.9 167.0h0M2015.9 182.4h0M2015.6 169.0h0M2015.6 169.0h0M2118.4 109.8h0M2070.2 131.4h0M2049.3 154.0h0M2019.2 165.2h0M2082.0 107.9h0M2083.5 139.2h0M2068.1 140.8h0" stroke="#03034f" stroke-width="4.6" stroke-linecap="round" fill="none"/>
<path d="M2114.0 113.1h0M2057.5 149.4h0M2016.4 196.2h0M2078.8 150.1h0M2080.2 145.6h0M2100.9 144.0h0M2029.3 170.8h0M2017.5 182.0h0M2034.2 176.9h0M2123.3 118.1h0M2017.8 189.5h0M2015.6 204.5h0M2027.6 156.2h0M2084.4 130.9h0M2062.5 154.5h0M2051.5 165.8h0M2015.6 180.1h0M2022.8 185.8h0M2015.6 172.6h0M2038.2 169.5h0" stroke="#e9659f" stroke-width="4.6" stroke-linecap="round" fill="none"/>
<path d="M2092.2 155.1h0M2095.4 131.5h0M2016.2 195.6h0M2046.5 170.0h0M2024.5 150.7h0M2074.7 159.8h0M2040.0 160.3h0M2057.0 172.6h0M2103.9 117.7h0M2018.6 184.7h0M2089.4 135.7h0M2040.4 170.1h0M2106.0 109.1h0M2110.4 133.7h0M2020.8 185.7h0M2048.1 154.2h0M2016.0 188.5h0M2059.9 141.1h0M2016.7 188.3h0M2043.7 139.1h0" stroke="#4512d9" stroke-width="4.6" stroke-linecap="round" fill="none"/>
<path d="M2129.3 95.6h0M2117.3 122.2h0M2017.1 191.6h0M2039.2 146.6h0M2016.2 185.4h0M2081.8 112.7h0M2016.1 179.5h0M2066.1 144.5h0M2030.9 158.7h0M2019.5 175.4h0M2069.9 121.7h0M2106.0 128.3h0M2069.9 151.5h0M2111.6 101.0h0M2019.4 180.1h0M2095.9 131.1h0M2042.5 181.7h0M2015.6 169.1h0M2038.2 151.4h0M2015.7 182.0h0" stroke="#0505c4" stroke-width="4.6" stroke-linecap="round" fill="none"/>
<path d="M2051.7 150.8h0M2044.3 145.0h0M2095.2 106.2h0M2027.2 184.0h0M2015.8 189.2h0M2027.0 157.7h0M2074.2 114.0h0M2120.2 104.2h0M2051.3 143.9h0M2015.7 178.3h0M2040.7 163.5h0M2018.6 186.1h0M2016.2 181.8h0M2041.4 167.2h0M2076.8 135.6h0M2015.7 175.6h0M2035.5 158.2h0M2077.8 132.4h0M2131.6 102.3h0M2015.6 182.8h0" stroke="#03034f" stroke-width="4.6" stroke-linecap="round" fill="none"/>
<path d="M2016.9 172.8h0M2035.8 180.6h0M2015.6 200.3h0M2124.4 96.0h0M2054.8 156.4h0M2022.4 198.7h0M2054.7 160.2h0M2085.9 132.1h0M2045.7 164.0h0M2071.6 154.2h0M2021.3 191.9h0M2063.1 133.8h0M2039.1 181.1h0M2084.3 121.8h0M2061.1 130.6h0M2016.1 191.0h0M2056.3 132.2h0M2090.2 120.9h0M2061.5 146.2h0M2064.2 154.1h0" stroke="#9b22cc" stroke-width="4.6" stroke-linecap="round" fill="none"/>
<path d="M2015.6 198.6h0M2015.6 169.1h0M2016.9 175.8h0M2049.8 156.9h0M2052.9 132.0h0M2015.6 185.3h0M2044.4 174.7h0M2027.8 171.5h0M2116.6 136.5h0M2096.3 135.2h0M2015.9 183.1h0M2107.9 106.8h0M2057.0 180.8h0M2016.6 179.8h0M2025.6 170.1h0M2047.7 175.2h0M2061.3 133.5h0M2068.8 120.5h0M2088.7 119.5h0M2019.6 176.5h0" stroke="#4512d9" stroke-width="4.6" stroke-linecap="round" fill="none"/>
<path d="M2090.3 115.3h0M2019.3 190.5h0M2062.8 154.1h0M2016.7 165.2h0M2016.0 188.8h0M2015.6 180.5h0M2016.9 166.1h0M2024.2 147.9h0M2088.3 133.3h0M2100.2 110.1h0M2039.5 150.6h0M2096.0 113.4h0M2018.3 179.0h0M2093.9 109.1h0M2019.7 192.0h0M2021.5 163.6h0M2031.2 155.9h0M2016.6 174.0h0M2015.7 186.5h0M2016.2 188.1h0" stroke="#0505c4" stroke-width="4.6" stroke-linecap="round" fill="none"/>
<path d="M2016.4 188.0h0M2035.6 177.3h0M2016.8 189.9h0M2107.1 148.9h0M2016.4 166.4h0M2036.5 157.3h0M2028.1 163.0h0M2102.8 122.4h0M2096.0 144.8h0M2018.9 158.3h0M2015.6 175.9h0M2015.6 185.4h0M2016.4 190.6h0M2058.7 149.1h0M2023.2 181.1h0M2102.8 136.8h0M2051.2 128.8h0M2107.1 138.4h0M2015.6 176.2h0M2015.6 194.4h0" stroke="#03034f" stroke-width="4.6" stroke-linecap="round" fill="none"/>
<path d="M2029.0 164.4h0M2015.6 177.1h0M2022.3 170.6h0M2015.6 193.7h0M2026.9 188.8h0M2028.5 161.5h0M2024.2 179.3h0M2029.5 159.6h0M2015.9 171.9h0M2021.3 184.8h0M2021.7 194.5h0M2037.6 180.3h0M2058.9 168.6h0M2016.1 193.5h0M2127.7 100.1h0M2015.6 173.7h0M2091.9 150.2h0M2065.8 142.8h0M2045.6 154.0h0M2037.2 137.9h0" stroke="#9b22cc" stroke-width="4.6" stroke-linecap="round" fill="none"/>
<path d="M2016.1 193.8h0M2072.6 152.4h0M2018.6 169.3h0M2015.6 201.2h0M2055.0 149.6h0M2058.5 124.2h0M2079.1 156.1h0M2037.0 158.9h0M2067.0 149.4h0M2107.1 120.6h0M2057.8 137.6h0M2029.8 162.5h0M2046.0 165.0h0M2105.4 144.3h0M2052.7 180.7h0M2059.2 149.2h0M2017.6 177.2h0M2064.1 176.3h0M2070.7 128.7h0M2016.2 203.2h0" stroke="#e9659f" stroke-width="4.6" stroke-linecap="round" fill="none"/>
<path d="M2031.8 180.9h0M2027.6 152.5h0M2016.0 190.9h0M2018.7 201.8h0M2087.6 137.8h0M2017.3 179.7h0M2117.2 114.6h0M2068.4 129.7h0M2016.2 188.9h0M2112.5 96.6h0M2015.6 190.1h0M2056.8 128.4h0M2016.6 174.6h0M2043.0 130.3h0M2020.7 168.7h0M2016.2 180.2h0M2030.4 174.2h0M2091.8 122.9h0M2115.4 98.7h0M2057.3 128.7h0" stroke="#0505c4" stroke-width="4.6" stroke-linecap="round" fill="none"/>
<path d="M2055.7 169.0h0M2072.6 127.2h0M2124.9 113.1h0M2024.0 170.3h0M2018.0 167.9h0M2038.3 134.6h0M2093.5 129.0h0M2070.5 111.8h0M2016.1 189.7h0M2015.6 168.9h0M2015.6 169.1h0M2023.8 163.8h0M2029.1 151.9h0M2057.1 139.1h0M2015.6 191.5h0M2015.6 185.6h0M2033.0 176.8h0M2016.1 171.9h0M2058.3 150.3h0M2067.1 139.0h0" stroke="#03034f" stroke-width="4.6" stroke-linecap="round" fill="none"/>
<path d="M2015.7 180.4h0M2019.9 200.7h0M2035.6 153.4h0M2091.4 129.7h0M2019.0 174.3h0M2016.6 194.8h0M2033.2 173.5h0M2033.9 149.9h0M2029.3 165.5h0M2132.0 119.2h0M2039.3 144.2h0M2015.6 200.7h0M2077.5 135.2h0M2016.0 191.8h0M2115.1 147.7h0M2027.2 170.9h0M2060.5 135.1h0M2016.0 193.5h0M2041.5 147.9h0M2015.6 173.4h0" stroke="#9b22cc" stroke-width="4.6" stroke-linecap="round" fill="none"/>
<path d="M2016.6 199.7h0M2061.9 136.9h0M2015.9 192.8h0M2016.3 194.9h0M2116.0 136.4h0M2019.2 174.0h0M2030.8 191.4h0M2096.4 157.3h0M2020.5 175.7h0M2053.3 137.1h0M2080.3 120.7h0M2111.6 106.2h0M2046.4 175.4h0M2036.4 147.9h0M2051.7 155.1h0M2015.6 192.7h0M2016.0 191.5h0M2027.9 164.3h0M2038.0 176.2h0M2021.6 173.0h0" stroke="#e9659f" stroke-width="4.6" stroke-linecap="round" fill="none"/>
<path d="M2032.8 173.5h0M2098.9 125.0h0M2117.9 130.5h0M2015.7 200.0h0M2019.5 181.7h0M2017.3 165.7h0M2016.0 186.4h0M2015.7 187.9h0M2059.1 124.2h0M2015.7 180.2h0M2031.7 163.3h0M2042.9 166.4h0M2058.4 124.9h0M2127.1 112.7h0M2098.9 118.3h0M2019.9 184.8h0M2034.6 153.7h0M2097.1 137.1h0M2058.1 140.7h0M2067.4 148.6h0" stroke="#4512d9" stroke-width="4.6" stroke-linecap="round" fill="none"/>
<path d="M2080.5 103.3h0M2072.3 156.3h0M2062.1 128.9h0M2025.0 178.0h0M2036.3 152.7h0M2131.2 97.4h0M2016.3 169.7h0M2071.3 170.2h0M2017.8 182.8h0M2044.3 137.1h0M2117.9 114.7h0M2030.1 140.8h0M2068.9 114.2h0M2015.8 179.4h0M2129.2 93.7h0M2063.9 163.7h0M2078.4 161.1h0M2078.9 121.0h0M2087.1 159.9h0M2116.6 112.0h0" stroke="#03034f" stroke-width="4.6" stroke-linecap="round" fill="none"/>
<path d="M2016.4 187.2h0M2015.9 186.3h0M2074.7 106.9h0M2060.3 151.6h0M2045.9 181.5h0M2017.4 177.4h0M2043.7 181.3h0M2066.2 157.9h0M2044.1 150.3h0M2016.8 169.3h0M2019.3 171.2h0M2023.4 182.7h0M2016.3 199.3h0M2015.8 173.7h0M2065.0 127.9h0M2047.5 163.5h0M2020.3 195.5h0M2017.8 183.7h0M2015.7 189.0h0M2047.8 142.6h0" stroke="#9b22cc" stroke-width="4.6" stroke-linecap="round" fill="none"/>
<path d="M2025.0 179.8h0M2015.7 193.1h0M2015.7 185.3h0M2096.8 137.3h0M2073.9 128.8h0M2033.6 168.3h0M2023.4 185.3h0M2038.1 168.8h0M2133.4 123.6h0M2108.5 110.6h0M2015.7 178.2h0M2051.6 181.2h0M2015.8 186.1h0M2039.6 163.6h0M2016.7 174.6h0M2097.3 153.5h0M2022.9 162.6h0M2100.3 148.3h0M2052.3 154.1h0M2017.8 195.9h0" stroke="#e9659f" stroke-width="4.6" stroke-linecap="round" fill="none"/>
<path d="M2022.0 180.7h0M2016.1 204.1h0M2021.8 165.8h0M2032.7 178.6h0M2026.6 165.0h0M2106.5 125.5h0M2040.7 145.0h0M2018.0 174.3h0M2023.3 156.6h0M2015.7 170.2h0M2086.7 114.8h0M2036.6 174.3h0M2017.9 175.3h0M2036.0 172.3h0M2102.3 123.0h0M2021.7 193.6h0M2041.0 154.4h0M2047.0 145.5h0M2113.3 117.6h0M2017.8 175.6h0" stroke="#4512d9" stroke-width="4.6" stroke-linecap="round" fill="none"/>
<path d="M2015.6 190.8h0M2047.1 141.8h0M2015.6 178.2h0M2017.0 167.3h0M2015.8 172.9h0M2015.6 191.8h0M2015.8 192.3h0M2082.7 135.0h0M2040.6 143.4h0M2018.6 179.8h0M2015.7 177.1h0M2054.0 137.3h0M2037.9 149.8h0M2015.6 169.1h0M2015.8 191.6h0M2015.7 174.0h0M2047.7 157.8h0M2015.8 180.4h0M2132.9 122.3h0M2058.3 120.5h0" stroke="#0505c4" stroke-width="4.6" stroke-linecap="round" fill="none"/>
<path d="M1232.4 597.9C1236.0 598.0 1247.7 597.8 1254.2 598.6C1260.7 599.4 1265.8 600.9 1271.6 602.9C1277.4 604.9 1283.2 608.4 1289.0 610.6C1294.8 612.8 1300.6 615.3 1306.4 616.0C1312.2 616.7 1318.7 615.4 1323.8 614.9C1328.9 614.4 1331.7 612.3 1336.8 612.7C1341.9 613.1 1348.4 615.7 1354.2 617.1C1360.0 618.5 1365.8 620.2 1371.6 621.4C1377.4 622.6 1383.2 623.4 1389.0 624.3C1394.8 625.2 1400.6 625.6 1406.4 626.9C1412.2 628.2 1418.7 631.0 1423.8 632.3C1428.9 633.6 1432.6 634.9 1436.9 634.5C1441.2 634.1 1445.6 632.3 1449.9 630.1C1454.2 627.9 1458.7 623.6 1463.0 621.4C1467.3 619.2 1472.0 617.5 1476.0 617.1C1480.0 616.8 1483.8 618.2 1486.9 619.3C1490.0 620.4 1493.2 622.9 1494.5 623.6L1495.5 623.6L1495.5 476.3L1497.5 476.3C1499.9 477.1 1506.2 479.9 1511.9 481.0C1517.7 482.1 1525.3 482.0 1532.0 483.0C1538.7 484.0 1545.5 486.9 1552.2 487.0C1558.9 487.1 1565.7 484.8 1572.4 483.7C1579.1 482.6 1585.8 479.8 1592.5 480.3C1599.2 480.9 1607.1 485.9 1612.7 487.0C1618.3 488.1 1620.5 488.1 1626.1 487.0C1631.7 485.9 1639.6 481.8 1646.3 480.3C1653.0 478.9 1659.7 478.1 1666.4 478.3C1673.1 478.5 1679.9 480.7 1686.6 481.7C1693.3 482.7 1701.1 484.1 1706.7 484.3C1712.3 484.5 1715.7 484.3 1720.2 483.0C1724.7 481.7 1729.1 478.1 1733.6 476.3C1738.1 474.5 1743.1 473.1 1747.1 472.3C1751.1 471.5 1756.0 471.7 1757.8 471.6" fill="none" stroke="#03034f" stroke-width="2.5" stroke-linejoin="round"/>
<path d="M1232.4 603.6C1236.0 604.0 1247.7 604.5 1254.2 606.2C1260.7 607.9 1265.8 611.3 1271.6 613.8C1277.4 616.3 1283.9 619.8 1289.0 621.4C1294.1 623.0 1297.7 624.0 1302.0 623.6C1306.3 623.2 1310.0 621.0 1315.1 619.3C1320.2 617.6 1327.4 614.1 1332.5 613.2C1337.6 612.3 1340.4 612.8 1345.5 613.8C1350.6 614.8 1357.1 617.5 1362.9 619.3C1368.7 621.1 1374.5 623.4 1380.3 624.7C1386.1 626.0 1391.9 626.7 1397.7 626.9C1403.5 627.1 1409.3 626.0 1415.1 625.8C1420.9 625.6 1426.7 626.5 1432.5 625.8C1438.3 625.1 1444.1 622.7 1449.9 621.4C1455.7 620.1 1462.2 618.9 1467.3 618.2C1472.4 617.5 1475.9 616.6 1480.4 617.1C1484.9 617.6 1492.2 620.7 1494.5 621.4L1495.5 621.4L1495.5 472.3L1497.5 472.3C1499.9 472.9 1506.2 474.3 1511.9 475.6C1517.7 476.9 1525.3 478.6 1532.0 480.3C1538.7 482.0 1545.5 485.2 1552.2 485.7C1558.9 486.1 1565.7 484.1 1572.4 483.0C1579.1 481.9 1585.8 479.0 1592.5 479.0C1599.2 479.0 1606.0 483.0 1612.7 483.0C1619.4 483.0 1626.1 480.1 1632.8 479.0C1639.5 477.9 1646.3 476.6 1653.0 476.3C1659.7 476.0 1666.4 476.1 1673.1 477.0C1679.8 477.9 1686.6 480.9 1693.3 481.7C1700.0 482.5 1706.8 483.5 1713.5 481.7C1720.2 479.9 1728.0 473.9 1733.6 470.9C1739.2 467.9 1743.1 465.3 1747.1 463.5C1751.1 461.7 1756.0 460.8 1757.8 460.2" fill="none" stroke="#4512d9" stroke-width="2.5" stroke-linejoin="round"/>
<path d="M1232.4 615.3C1236.0 615.6 1247.7 616.1 1254.2 617.1C1260.7 618.1 1265.8 620.1 1271.6 621.4C1277.4 622.7 1283.9 624.5 1289.0 624.7C1294.1 624.9 1297.7 624.5 1302.0 622.5C1306.3 620.5 1310.8 616.0 1315.1 612.7C1319.4 609.4 1323.9 605.2 1328.1 602.9C1332.3 600.5 1335.8 598.6 1340.1 598.6C1344.4 598.6 1349.0 600.2 1354.2 602.9C1359.5 605.6 1366.1 611.4 1371.6 614.9C1377.0 618.4 1381.8 621.6 1386.9 623.6C1392.0 625.6 1396.7 626.9 1402.1 626.9C1407.5 626.9 1413.7 624.7 1419.5 623.6C1425.3 622.5 1430.4 621.4 1436.9 620.3C1443.4 619.2 1452.1 618.2 1458.6 617.1C1465.1 616.0 1470.0 614.7 1476.0 613.8C1482.0 612.9 1491.4 612.0 1494.5 611.6L1495.5 611.6L1495.5 461.5L1495.8 461.5C1497.3 461.4 1501.4 460.6 1505.2 460.8C1509.0 461.0 1514.1 461.5 1518.6 462.8C1523.1 464.1 1527.5 466.4 1532.0 468.9C1536.5 471.4 1541.0 475.7 1545.5 477.6C1550.0 479.5 1554.4 480.8 1558.9 480.3C1563.4 479.9 1567.9 476.3 1572.4 474.9C1576.9 473.4 1581.3 471.6 1585.8 471.6C1590.3 471.6 1594.7 473.0 1599.2 474.9C1603.7 476.8 1607.1 481.4 1612.7 483.0C1618.3 484.6 1626.1 483.9 1632.8 484.3C1639.5 484.8 1646.3 485.7 1653.0 485.7C1659.7 485.7 1666.4 484.8 1673.1 484.3C1679.8 483.9 1687.0 483.7 1693.3 483.0C1699.6 482.3 1705.2 482.5 1710.8 480.3C1716.4 478.1 1721.5 472.7 1726.9 469.6C1732.3 466.5 1737.8 463.5 1743.0 461.5C1748.2 459.5 1755.3 458.2 1757.8 457.5" fill="none" stroke="#e9659f" stroke-width="2.5" stroke-linejoin="round"/>
<path d="M1232.4 598.6C1236.0 598.8 1247.7 598.4 1254.2 599.5C1260.7 600.6 1265.8 602.8 1271.6 605.0C1277.4 607.2 1283.2 610.9 1289.0 613.0C1294.8 615.1 1300.6 617.2 1306.4 617.5C1312.2 617.8 1318.7 615.7 1323.8 615.0C1328.9 614.3 1331.7 612.9 1336.8 613.5C1341.9 614.1 1348.4 617.0 1354.2 618.5C1360.0 620.0 1365.8 621.3 1371.6 622.5C1377.4 623.7 1383.2 624.5 1389.0 625.5C1394.8 626.5 1400.6 627.2 1406.4 628.5C1412.2 629.8 1418.7 632.3 1423.8 633.5C1428.9 634.7 1432.6 635.9 1436.9 635.5C1441.2 635.1 1445.6 633.2 1449.9 631.0C1454.2 628.8 1458.7 624.2 1463.0 622.0C1467.3 619.8 1472.0 618.5 1476.0 618.0C1480.0 617.5 1483.8 618.4 1486.9 619.0C1490.0 619.6 1493.2 621.1 1494.5 621.5L1495.5 621.5L1495.5 473.6L1497.5 473.6C1502.1 474.5 1515.9 477.9 1525.0 479.0C1534.1 480.1 1543.2 480.8 1552.2 480.3C1561.2 479.9 1570.0 476.5 1579.0 476.3C1588.0 476.1 1597.0 479.0 1606.0 479.0C1615.0 479.0 1624.0 477.4 1633.0 476.3C1642.0 475.2 1651.1 472.5 1660.0 472.3C1668.9 472.1 1679.9 474.0 1686.6 475.0C1693.3 476.0 1694.4 478.1 1700.0 478.3C1705.6 478.5 1713.5 477.5 1720.2 476.3C1726.9 475.1 1733.7 472.8 1740.0 471.0C1746.3 469.2 1754.8 466.4 1757.8 465.5" fill="none" stroke="#3b3590" stroke-width="2.5" stroke-linejoin="round" stroke-dasharray="7.4 3"/>
<path d="M1232.4 608.4C1236.8 609.5 1248.6 611.1 1258.7 614.9C1268.8 618.7 1283.9 629.2 1293.3 631.2C1302.7 633.2 1307.8 628.9 1315.1 626.9C1322.3 624.9 1328.1 618.8 1336.8 619.3C1345.5 619.8 1357.9 627.1 1367.3 630.0C1376.7 632.9 1384.0 636.0 1393.4 636.7C1402.8 637.5 1415.1 635.0 1423.8 634.5C1432.5 634.0 1438.3 635.6 1445.6 633.4C1452.8 631.2 1459.1 622.3 1467.3 621.4C1475.5 620.5 1490.0 626.9 1494.5 628.0L1495.5 628.0L1495.5 464.2L1497.5 464.2C1502.1 465.1 1515.9 466.9 1525.0 469.6C1534.1 472.3 1544.3 479.4 1552.2 480.3C1560.1 481.2 1565.7 476.4 1572.4 475.0C1579.1 473.6 1584.7 472.1 1592.5 471.6C1600.3 471.2 1610.4 472.8 1619.4 472.3C1628.4 471.9 1637.3 469.3 1646.3 468.9C1655.2 468.4 1664.1 468.2 1673.1 469.6C1682.0 471.1 1693.3 476.5 1700.0 477.6C1706.7 478.7 1707.9 478.5 1713.5 476.3C1719.1 474.1 1726.9 468.1 1733.6 464.2C1740.3 460.3 1750.4 454.7 1753.8 452.8" fill="none" stroke="#7444dc" stroke-width="2.5" stroke-linejoin="round" stroke-dasharray="7.4 3"/>
<path d="M1232.4 619.3C1236.8 619.6 1248.6 619.8 1258.7 621.4C1268.8 623.0 1283.9 629.4 1293.3 629.0C1302.7 628.6 1307.3 623.5 1315.1 619.3C1322.9 615.1 1331.4 604.4 1340.1 604.0C1348.8 603.6 1358.0 613.1 1367.3 617.1C1376.5 621.1 1384.7 626.4 1395.6 628.0C1406.5 629.6 1420.5 628.1 1432.5 627.0C1444.5 625.9 1457.0 623.1 1467.3 621.4C1477.6 619.7 1490.0 617.7 1494.5 617.0L1495.5 617.0L1495.5 463.0L1497.5 463.0C1501.0 463.3 1512.8 463.8 1518.6 465.0C1524.3 466.2 1527.5 468.2 1532.0 470.5C1536.5 472.8 1541.0 476.8 1545.5 478.5C1550.0 480.2 1554.4 481.4 1558.9 481.0C1563.4 480.6 1567.9 477.4 1572.4 476.0C1576.9 474.6 1581.3 472.5 1585.8 472.5C1590.3 472.5 1594.7 474.3 1599.2 476.0C1603.7 477.7 1607.1 481.3 1612.7 482.5C1618.3 483.7 1626.1 482.7 1632.8 483.0C1639.5 483.3 1646.3 484.1 1653.0 484.3C1659.7 484.5 1666.4 484.3 1673.1 484.0C1679.8 483.7 1687.0 483.3 1693.3 482.5C1699.6 481.7 1705.2 481.4 1710.8 479.0C1716.4 476.6 1721.5 471.3 1726.9 468.0C1732.3 464.7 1737.8 461.0 1743.0 459.0C1748.2 457.0 1755.3 456.5 1757.8 456.0" fill="none" stroke="#f2a2cc" stroke-width="2.5" stroke-linejoin="round" stroke-dasharray="7.4 3"/>
<path d="M2110.8 475.1h0M2110.3 472.4h0M2113.7 472.4h0M1978.5 629.2h0M1979.1 629.2h0M1977.0 630.2h0M1981.3 619.9h0M1994.8 607.9h0M1982.4 625.1h0M1975.3 635.8h0M1985.8 618.9h0M1976.2 628.8h0M2115.7 471.1h0M1979.0 632.0h0M1985.5 621.5h0M1985.8 622.0h0M1979.7 623.0h0M1978.3 623.3h0M2112.5 476.4h0M1973.2 637.4h0M2114.4 473.1h0M1977.8 630.1h0M2114.6 469.8h0M2110.2 473.0h0M1994.3 612.3h0M2113.7 472.4h0" stroke="#4512d9" stroke-width="5.0" stroke-linecap="round" fill="none"/>
<path d="M1984.8 618.9h0M2111.0 471.3h0M2111.7 476.5h0M1986.2 615.7h0M1969.6 633.6h0M2110.8 477.8h0M1996.9 605.3h0M1995.6 604.4h0M2111.2 478.5h0M1979.5 626.1h0M2112.8 473.4h0M2108.8 480.0h0M1975.1 630.4h0M2113.3 475.2h0M1975.2 628.9h0M2112.5 477.1h0M1982.4 621.1h0M2113.9 473.3h0M2110.2 474.8h0M2111.1 473.2h0M2108.7 478.2h0M1976.0 628.5h0M2117.1 472.1h0M2112.0 476.0h0M1979.4 623.8h0M1971.0 633.6h0" stroke="#0505c4" stroke-width="5.0" stroke-linecap="round" fill="none"/>
<path d="M1979.1 627.6h0M2110.2 477.9h0M1972.4 629.8h0M2110.5 476.8h0M1975.5 632.5h0M1977.7 628.8h0M2114.3 476.3h0M2112.3 476.3h0M2123.5 466.0h0M2125.3 463.9h0M2112.4 477.2h0M1980.8 623.6h0M2111.0 477.5h0M2121.7 467.5h0M2113.1 475.5h0M1975.3 630.9h0M2131.8 455.3h0M2111.2 477.5h0M1987.4 616.4h0M2112.0 475.8h0M2110.6 475.4h0M1990.5 614.7h0M2111.4 478.6h0M2113.5 477.3h0M2114.1 476.6h0M2113.9 476.5h0" stroke="#9b22cc" stroke-width="5.0" stroke-linecap="round" fill="none"/>
<path d="M1978.7 620.9h0M2110.2 474.9h0M1984.4 617.0h0M2116.3 476.2h0M2111.2 477.1h0M2112.1 472.1h0M1975.4 627.0h0M2108.8 478.0h0M1983.6 616.5h0M1966.3 636.4h0M2000.2 599.2h0M1999.6 600.3h0M1989.7 610.8h0M1999.8 599.1h0M2114.8 477.3h0M1975.5 625.1h0M2107.7 477.7h0M2113.9 474.3h0M2109.2 477.4h0M1978.7 618.7h0M1973.2 625.9h0M1967.3 635.1h0M2113.6 471.9h0M1967.1 630.7h0M2109.3 479.2h0M1983.0 618.6h0" stroke="#03034f" stroke-width="5.0" stroke-linecap="round" fill="none"/>
<path d="M2107.5 482.3h0M2127.0 463.4h0M1977.8 622.2h0M1978.1 624.7h0M2119.5 473.0h0M2107.9 484.4h0M1978.4 621.2h0M2130.8 462.7h0M1981.4 621.9h0M2115.8 474.4h0M1977.2 626.6h0M2113.5 479.7h0M2127.4 464.2h0M2109.9 484.3h0M2114.1 480.1h0M2120.9 471.3h0M2000.0 606.7h0M2108.3 483.6h0M2109.2 483.1h0M1991.8 616.1h0M1984.4 620.0h0M1985.4 619.7h0M1972.4 626.6h0M1985.5 619.4h0M2133.2 457.8h0M2110.3 482.5h0" stroke="#e9659f" stroke-width="5.0" stroke-linecap="round" fill="none"/>
<path d="M2114.3 471.0h0M1985.1 616.9h0M2114.3 472.0h0M1983.9 619.5h0M2110.4 477.8h0M1978.7 623.5h0M2124.6 462.8h0M2113.5 474.0h0M2113.4 474.4h0M1982.1 621.5h0M1984.0 619.6h0M1981.0 620.9h0M1982.7 621.6h0M2117.3 470.0h0M1975.8 630.2h0M1983.6 618.6h0M2111.4 475.3h0M1970.1 633.9h0M1972.0 634.7h0M2113.4 474.4h0M2107.6 477.2h0M2109.0 474.3h0M2116.8 471.7h0M1997.1 602.9h0M1981.6 625.3h0M1992.2 610.9h0" stroke="#0505c4" stroke-width="5.0" stroke-linecap="round" fill="none"/>
<path d="M1985.2 620.3h0M1978.5 626.0h0M2128.3 460.2h0M1978.5 627.8h0M1982.5 621.8h0M2110.6 475.5h0M1973.9 631.0h0M1977.6 627.9h0M2110.5 478.0h0M1988.0 616.2h0M2111.7 477.0h0M1982.6 624.3h0M1981.3 622.0h0M1989.3 614.9h0M1977.9 627.6h0M2112.8 477.6h0M1991.6 616.8h0M1978.1 628.6h0M2125.5 462.4h0M2113.4 479.0h0M1984.0 621.7h0M1983.1 621.5h0M2111.9 477.6h0M1983.0 620.3h0M1975.7 629.0h0M2114.3 473.7h0" stroke="#9b22cc" stroke-width="5.0" stroke-linecap="round" fill="none"/>
<path d="M1982.3 617.3h0M1968.2 632.7h0M1967.5 633.0h0M2109.1 477.9h0M2113.1 473.3h0M1972.1 627.8h0M2112.8 478.5h0M2105.3 476.8h0M2000.1 598.9h0M2116.0 475.4h0M2112.6 474.0h0M1999.8 599.7h0M2106.8 479.4h0M1984.9 615.8h0M2108.5 477.2h0M2106.9 477.9h0M1986.2 615.2h0M2112.8 479.7h0M2114.0 473.8h0M2114.0 474.7h0M2109.6 479.6h0M2111.6 478.2h0M2108.5 480.1h0M1984.0 615.4h0M2109.7 476.7h0M2120.4 467.1h0" stroke="#03034f" stroke-width="5.0" stroke-linecap="round" fill="none"/>
<path d="M1991.4 614.0h0M1984.0 624.1h0M2131.7 464.7h0M1981.7 620.0h0M2109.7 483.7h0M2123.6 472.8h0M2113.4 480.5h0M2118.5 474.6h0M1979.2 628.8h0M1976.6 624.4h0M2118.2 475.6h0M2131.1 459.1h0M1975.2 628.5h0M2129.2 462.4h0M1982.6 619.9h0M1980.1 625.5h0M2134.3 459.4h0M1982.9 619.1h0M1981.9 619.9h0M1982.9 620.6h0M2109.4 483.0h0M1988.3 615.2h0M1979.8 627.9h0M2130.1 459.8h0M1975.2 628.7h0M2110.9 480.9h0" stroke="#e9659f" stroke-width="5.0" stroke-linecap="round" fill="none"/>
<path d="M1993.9 614.6h0M1979.2 626.2h0M1975.2 635.3h0M1973.3 631.5h0M2117.7 468.1h0M2112.7 473.0h0M2118.8 468.8h0M1992.6 614.8h0M1974.3 635.1h0M1975.6 633.6h0M1981.3 625.1h0M2110.4 476.0h0M1980.9 626.6h0M2113.8 474.4h0M2115.5 469.6h0M2111.6 471.6h0M2110.3 472.9h0M2113.8 471.5h0M2113.8 470.1h0M2129.8 455.5h0M1991.8 611.7h0M1972.9 634.7h0M2111.7 473.1h0M2112.0 474.0h0M1989.3 617.0h0M2108.8 479.3h0" stroke="#4512d9" stroke-width="5.0" stroke-linecap="round" fill="none"/>
<path d="M1973.5 631.3h0M1982.7 620.2h0M2125.9 464.5h0M1987.5 617.9h0M2115.0 475.6h0M2118.0 470.5h0M2111.5 476.2h0M1987.4 622.2h0M1972.8 632.0h0M1990.1 615.6h0M1976.1 626.3h0M2123.6 466.2h0M2111.6 478.5h0M2112.6 476.2h0M2132.4 454.9h0M2111.0 479.0h0M2114.1 474.8h0M1986.3 620.8h0M2112.7 477.6h0M1976.5 629.6h0M1982.9 619.1h0M2111.0 475.5h0M2110.7 477.6h0M2111.0 478.0h0M2111.8 475.6h0M1986.0 620.1h0" stroke="#9b22cc" stroke-width="5.0" stroke-linecap="round" fill="none"/>
<path d="M2107.6 479.1h0M1983.7 615.8h0M2113.1 477.2h0M2111.9 477.8h0M1997.7 604.1h0M2107.8 478.9h0M2107.3 478.2h0M2110.6 477.9h0M1967.5 633.1h0M1972.0 629.6h0M2115.4 476.5h0M2114.0 473.9h0M2112.3 477.4h0M1987.3 614.5h0M1980.7 619.3h0M2111.5 476.9h0M2110.9 476.3h0M1967.8 636.7h0M2118.6 467.4h0M1977.8 620.6h0M2108.2 475.9h0M1996.9 603.7h0M1973.8 627.6h0M2110.3 477.4h0M2106.2 476.2h0M2000.6 598.6h0" stroke="#03034f" stroke-width="5.0" stroke-linecap="round" fill="none"/>
<path d="M2107.2 484.5h0M2118.8 473.7h0M1980.6 622.4h0M2109.7 483.6h0M1983.0 620.7h0M1982.1 623.9h0M1991.3 613.8h0M1976.3 626.2h0M2129.8 464.7h0M1982.1 622.2h0M2117.1 475.4h0M2110.0 483.2h0M1977.7 623.8h0M2133.4 456.1h0M1975.1 627.2h0M1982.0 625.2h0M2001.4 604.3h0M2121.2 474.7h0M1985.0 618.4h0M1986.7 618.4h0M2116.7 474.8h0M1997.3 610.4h0M1982.6 625.2h0M2108.9 485.2h0M1993.7 611.6h0M2111.3 480.8h0" stroke="#e9659f" stroke-width="5.0" stroke-linecap="round" fill="none"/>
<path d="M1993.6 613.0h0M1982.0 623.9h0M1983.0 623.9h0M2113.9 473.0h0M2112.5 472.0h0M1982.6 624.7h0M1979.5 627.9h0M1978.0 632.6h0M2113.2 474.4h0M2116.1 469.7h0M2115.6 468.9h0M1976.7 633.4h0M1982.0 623.7h0M2114.2 468.3h0M2112.8 471.6h0M1978.9 628.8h0M1989.4 616.5h0M1985.5 620.5h0M2131.3 452.3h0M1979.0 624.8h0M2112.1 476.8h0M1973.5 635.5h0M2122.1 466.9h0M1986.3 620.8h0M2112.7 473.1h0M2115.1 470.4h0" stroke="#4512d9" stroke-width="5.0" stroke-linecap="round" fill="none"/>
<path d="M2112.6 473.4h0M2113.3 476.9h0M2116.4 468.8h0M2112.3 476.1h0M2116.1 468.3h0M2109.6 476.2h0M2113.2 474.1h0M2110.0 476.1h0M2112.9 471.0h0M1973.9 630.6h0M1976.3 627.8h0M1983.3 621.2h0M1978.0 628.1h0M2111.8 474.2h0M1970.2 633.4h0M1986.6 616.4h0M1979.4 624.2h0M1977.3 622.3h0M1975.8 628.5h0M1981.0 622.2h0M1973.0 633.5h0M1998.3 604.6h0M2117.8 470.8h0M1978.9 626.6h0M2108.7 479.4h0M2112.3 473.8h0" stroke="#0505c4" stroke-width="5.0" stroke-linecap="round" fill="none"/>
<path d="M1984.6 615.8h0M2115.2 474.2h0M1969.2 632.2h0M2108.6 476.0h0M2109.6 478.2h0M1973.6 627.3h0M2107.3 477.5h0M1981.6 618.5h0M1976.7 624.0h0M1972.1 630.5h0M2111.2 478.0h0M2112.7 476.4h0M1989.3 613.5h0M1992.4 608.6h0M1985.5 614.7h0M2109.0 477.3h0M1982.1 622.0h0M1984.9 614.0h0M1981.1 619.2h0M2106.3 478.3h0M2110.1 478.6h0M2111.5 476.3h0M2110.2 477.2h0M1985.9 613.1h0M2111.3 476.9h0M1967.0 633.9h0" stroke="#03034f" stroke-width="5.0" stroke-linecap="round" fill="none"/>
<path d="M2119.3 472.6h0M1982.4 620.3h0M2109.9 482.4h0M2110.7 482.1h0M1986.6 619.3h0M2125.7 468.9h0M1976.7 624.3h0M1999.0 608.0h0M2109.3 484.9h0M2128.4 466.2h0M2110.3 485.0h0M1977.4 627.4h0M2108.8 481.1h0M2118.2 476.6h0M1974.8 627.1h0M1986.7 619.8h0M1980.2 622.4h0M1998.9 606.0h0M1976.1 627.4h0M2120.3 472.6h0M1983.9 619.7h0M2108.7 483.4h0M1986.1 619.6h0M1977.1 625.2h0M2120.2 473.5h0M2129.4 464.1h0" stroke="#e9659f" stroke-width="5.0" stroke-linecap="round" fill="none"/>
<path d="M2109.2 476.9h0M2121.7 464.4h0M2110.1 476.2h0M2113.1 473.0h0M2110.9 470.4h0M2108.8 479.5h0M1993.7 609.8h0M1985.3 621.2h0M2131.0 455.2h0M1974.3 634.8h0M1984.1 623.0h0M2116.9 468.2h0M1979.7 628.5h0M1982.7 624.6h0M2111.6 476.6h0M1980.8 623.0h0M1996.2 610.5h0M2128.8 458.9h0M1981.6 624.4h0M2121.9 464.3h0M1978.0 627.5h0M2116.9 469.3h0M1978.7 627.2h0M1975.6 634.1h0M1976.3 630.3h0M1973.2 635.5h0" stroke="#4512d9" stroke-width="5.0" stroke-linecap="round" fill="none"/>
<path d="M2109.4 475.1h0M2112.7 471.1h0M1987.7 617.0h0M1984.8 616.2h0M2114.5 472.5h0M1982.0 620.9h0M2115.5 471.0h0M2124.2 464.0h0M2112.2 474.5h0M1983.5 621.1h0M1975.3 631.3h0M1978.1 625.4h0M2112.8 473.7h0M2125.4 462.3h0M1972.6 633.7h0M1981.7 623.5h0M1992.4 612.6h0M2108.3 479.5h0M2116.4 468.9h0M2113.6 469.2h0M1976.0 630.7h0M1985.7 616.5h0M2107.5 480.3h0M1970.8 633.4h0M1972.4 633.7h0M2111.6 474.8h0" stroke="#0505c4" stroke-width="5.0" stroke-linecap="round" fill="none"/>
<path d="M2112.3 474.9h0M2119.0 472.3h0M1987.4 616.3h0M1979.3 626.5h0M2111.7 479.6h0M2120.5 470.0h0M2111.1 475.9h0M2112.5 476.3h0M1985.5 622.7h0M1989.2 615.7h0M2110.4 478.2h0M1976.0 630.5h0M1981.1 625.7h0M2133.4 454.6h0M1975.2 630.8h0M1975.8 629.4h0M1976.7 627.5h0M2116.3 473.2h0M1976.2 631.6h0M2115.3 473.5h0M1983.6 618.7h0M1980.4 625.8h0M1991.6 616.3h0M1977.3 625.2h0M1991.0 614.6h0M1982.8 619.9h0" stroke="#9b22cc" stroke-width="5.0" stroke-linecap="round" fill="none"/>
<path d="M2126.4 467.8h0M2111.3 480.8h0M2110.7 482.0h0M2131.0 462.9h0M2109.6 482.6h0M2112.2 482.4h0M2132.0 462.7h0M2128.4 468.2h0M1997.4 609.5h0M2116.7 477.5h0M2110.3 483.9h0M2134.7 457.3h0M2107.5 482.1h0M1994.0 612.3h0M2111.6 481.5h0M2120.8 475.9h0M1975.5 627.0h0M1989.0 616.6h0M1975.3 628.3h0M2117.5 481.1h0M1981.2 622.4h0M1984.7 621.0h0M1983.4 619.4h0M1981.6 623.7h0M1989.1 618.5h0M1975.3 628.5h0M2108.9 482.9h0" stroke="#e9659f" stroke-width="5.0" stroke-linecap="round" fill="none"/>
<path d="M2114.1 468.4h0M2112.7 470.5h0M2108.4 478.7h0M2118.5 466.4h0M1974.0 634.8h0M1992.8 614.4h0M2112.5 471.9h0M1988.0 617.2h0M2117.1 469.6h0M2115.4 470.7h0M2116.4 469.1h0M2108.9 477.7h0M1973.7 634.1h0M2117.0 468.3h0M1972.9 634.6h0M1989.9 618.0h0M1985.6 622.5h0M1976.2 633.3h0M2109.0 474.3h0M2110.8 477.6h0M1973.1 635.3h0M1983.8 624.6h0M2111.5 475.9h0M2116.8 470.4h0M1983.5 624.1h0M1979.5 628.9h0M2115.3 469.7h0" stroke="#4512d9" stroke-width="5.0" stroke-linecap="round" fill="none"/>
<path d="M1981.2 620.3h0M2121.9 463.7h0M1995.7 605.7h0M2112.1 474.2h0M2110.8 475.4h0M1974.3 630.4h0M2111.0 478.4h0M2114.0 471.6h0M1981.9 621.9h0M2113.9 472.9h0M1983.8 617.1h0M1989.6 612.2h0M2109.0 473.5h0M2110.5 475.6h0M2114.2 471.2h0M2111.0 477.0h0M2116.3 472.8h0M1995.8 606.0h0M1970.0 634.8h0M2108.6 477.5h0M2108.5 478.1h0M2115.9 471.1h0M1973.5 633.4h0M2113.0 473.9h0M1970.1 634.0h0M2109.4 474.6h0M1978.5 628.5h0" stroke="#0505c4" stroke-width="5.0" stroke-linecap="round" fill="none"/>
<path d="M1975.6 630.1h0M1986.9 619.5h0M1973.2 632.3h0M2122.9 466.1h0M2114.7 474.1h0M1982.2 622.2h0M2112.4 474.5h0M2112.0 478.1h0M1986.8 618.2h0M1983.8 622.2h0M1980.3 627.0h0M1975.5 631.9h0M2111.5 479.1h0M1977.6 629.2h0M1990.0 618.8h0M2111.7 475.8h0M2111.8 479.6h0M1990.8 617.2h0M2123.0 465.6h0M2114.7 473.8h0M2116.2 472.5h0M1977.7 629.4h0M1990.1 618.7h0M1984.0 624.4h0M2132.4 456.5h0M1977.7 627.6h0M2112.0 477.5h0" stroke="#9b22cc" stroke-width="5.0" stroke-linecap="round" fill="none"/>
<path d="M1978.7 621.8h0M1976.4 623.2h0M1964.4 635.0h0M2106.9 479.7h0M1975.8 625.4h0M1976.3 622.2h0M2112.0 477.6h0M1978.3 620.7h0M2000.9 598.7h0M2112.1 475.9h0M1998.1 600.7h0M1971.7 628.0h0M1981.0 618.2h0M2108.8 476.9h0M2113.7 473.7h0M2109.2 479.8h0M2114.7 473.2h0M1986.5 614.5h0M1993.3 605.0h0M2106.6 476.0h0M2119.1 470.6h0M1979.6 617.0h0M2113.8 472.4h0M2115.3 473.8h0M1973.4 627.3h0M2121.1 466.7h0M1983.8 617.1h0" stroke="#03034f" stroke-width="5.0" stroke-linecap="round" fill="none"/>
<path d="M2106.0 479.5h0M2111.7 478.1h0M1981.4 627.2h0M1985.9 623.3h0M2109.1 475.4h0M2117.2 469.4h0M1974.8 636.4h0M2115.1 469.7h0M1980.2 621.2h0M1985.4 621.4h0M2110.6 475.4h0M1980.5 625.0h0M2130.8 453.0h0M2124.8 461.7h0M2113.2 474.0h0M1982.5 622.2h0M1991.1 613.7h0M1993.5 610.5h0M1979.4 626.3h0M1983.3 626.0h0M1974.9 632.3h0M1973.6 635.4h0M2112.9 471.4h0M1979.6 626.4h0M2111.6 472.4h0M2111.3 476.6h0" stroke="#4512d9" stroke-width="5.0" stroke-linecap="round" fill="none"/>
<path d="M2122.2 465.2h0M2111.6 475.2h0M1982.6 621.7h0M1982.7 620.4h0M1983.4 622.6h0M1977.2 623.0h0M2111.1 474.4h0M2113.6 473.9h0M1971.9 634.3h0M1985.9 620.7h0M1993.1 612.2h0M1983.7 620.2h0M1998.2 605.9h0M1988.4 616.8h0M2108.2 480.2h0M2113.1 476.3h0M2110.7 474.3h0M1978.9 626.7h0M2111.0 472.4h0M1978.5 624.5h0M2109.3 475.3h0M1994.9 606.7h0M2115.8 468.9h0M1972.3 632.5h0M2114.2 472.9h0M1981.8 623.1h0" stroke="#0505c4" stroke-width="5.0" stroke-linecap="round" fill="none"/>
<path d="M1973.0 631.0h0M1977.8 626.0h0M1983.0 622.0h0M1977.4 627.2h0M1988.6 614.6h0M2112.1 476.2h0M2113.1 472.1h0M2116.4 472.1h0M2115.7 475.5h0M1977.2 625.5h0M2120.0 471.0h0M2118.8 472.2h0M1975.3 630.2h0M2121.0 468.2h0M1984.8 622.1h0M2110.2 477.6h0M1981.7 623.6h0M1979.9 625.7h0M1977.6 629.4h0M1987.0 619.3h0M1992.1 614.1h0M1976.5 631.7h0M2117.8 473.4h0M2125.8 464.0h0M1974.3 632.0h0M2111.4 476.4h0" stroke="#9b22cc" stroke-width="5.0" stroke-linecap="round" fill="none"/>
<path d="M2110.2 478.1h0M1984.6 614.9h0M2107.4 480.8h0M2112.7 478.0h0M1979.5 619.4h0M1971.6 628.9h0M2109.9 477.0h0M2112.8 473.1h0M2108.4 478.7h0M1976.5 624.5h0M2112.0 477.4h0M2112.1 474.6h0M2109.3 478.3h0M2110.0 479.1h0M1999.8 599.4h0M2110.7 475.8h0M2110.7 478.9h0M1978.6 620.3h0M2111.9 478.2h0M1980.7 619.9h0M1996.0 603.8h0M1991.8 608.8h0M2112.9 477.7h0M2120.9 467.1h0M2119.7 469.8h0M1985.5 615.1h0" stroke="#03034f" stroke-width="5.0" stroke-linecap="round" fill="none"/>
<path d="M2108.9 484.6h0M2128.6 465.8h0M2129.7 465.1h0M2107.2 482.8h0M1977.6 627.5h0M2114.8 480.5h0M1974.6 628.3h0M2114.8 476.2h0M2115.9 477.6h0M2123.1 466.4h0M1988.2 616.5h0M2111.9 479.4h0M2119.6 474.4h0M1982.8 622.6h0M2115.4 481.0h0M2107.5 484.4h0M1981.6 620.2h0M2120.0 474.5h0M2118.8 473.7h0M2108.7 485.1h0M1982.4 621.7h0M2121.2 474.2h0M1976.3 626.0h0M2108.9 483.8h0M1994.1 612.2h0M1991.2 615.3h0" stroke="#e9659f" stroke-width="5.0" stroke-linecap="round" fill="none"/>
<path d="M1983.8 619.3h0M1983.4 620.4h0M1979.9 623.4h0M2126.3 459.9h0M1991.8 612.7h0M2106.9 480.3h0M2111.5 475.6h0M2112.3 472.3h0M2119.7 467.8h0M2114.0 474.6h0M1988.0 614.7h0M1968.4 634.4h0M2109.7 479.3h0M1972.3 630.6h0M2113.0 476.0h0M2109.4 476.7h0M2113.8 475.3h0M1984.2 619.8h0M1981.2 622.4h0M1981.4 623.1h0M1986.1 615.9h0M2125.8 461.1h0M2120.8 465.8h0M2113.4 474.7h0M1971.9 632.4h0M1980.9 624.9h0" stroke="#0505c4" stroke-width="5.0" stroke-linecap="round" fill="none"/>
<path d="M2112.7 479.4h0M2113.2 475.7h0M1977.9 627.1h0M1992.4 612.3h0M2112.9 475.7h0M1981.4 623.9h0M2123.8 462.7h0M2115.0 473.1h0M1975.6 632.2h0M1991.0 614.1h0M1983.2 623.1h0M2115.0 473.0h0M1991.1 616.3h0M1987.7 616.7h0M2125.2 464.8h0M1977.5 629.7h0M2112.5 477.4h0M1984.0 622.1h0M2109.9 480.4h0M1980.8 620.7h0M2113.3 475.5h0M1982.1 623.7h0M1983.5 623.5h0M1973.4 631.9h0M1978.9 626.3h0M2116.2 474.4h0" stroke="#9b22cc" stroke-width="5.0" stroke-linecap="round" fill="none"/>
<path d="M2108.4 479.6h0M2110.8 478.1h0M2114.4 473.2h0M1985.6 615.7h0M2110.3 478.1h0M2114.6 473.4h0M1971.0 630.6h0M2108.5 480.4h0M2111.9 479.4h0M1977.2 625.5h0M2107.4 480.3h0M1992.1 607.7h0M1975.9 624.2h0M2117.8 473.1h0M1994.6 604.5h0M2113.2 474.0h0M2117.8 473.4h0M1967.5 633.9h0M1967.1 635.0h0M2118.8 472.6h0M2107.4 477.0h0M2109.3 477.2h0M1969.4 631.3h0M1969.3 630.5h0M1972.3 627.0h0M2119.1 469.9h0" stroke="#03034f" stroke-width="5.0" stroke-linecap="round" fill="none"/>
<path d="M2108.3 482.2h0M2108.9 483.1h0M2130.7 464.2h0M2110.3 485.0h0M2116.4 477.4h0M2113.4 478.6h0M2118.6 474.0h0M2113.8 481.6h0M1981.7 622.1h0M1984.4 620.7h0M2111.4 481.5h0M1974.6 628.9h0M1977.6 627.5h0M1978.9 623.1h0M1981.3 624.4h0M2133.2 456.4h0M2112.0 479.2h0M2110.3 481.8h0M2108.1 482.2h0M1977.1 625.0h0M2114.3 478.4h0M1992.3 612.2h0M2124.7 470.5h0M1974.8 627.7h0M1978.2 627.7h0M1976.2 628.0h0" stroke="#e9659f" stroke-width="5.0" stroke-linecap="round" fill="none"/>
<path d="M2116.5 467.8h0M2114.2 470.5h0M2114.3 470.3h0M1974.6 635.8h0M1984.5 622.1h0M2115.5 468.8h0M2112.8 471.5h0M1978.2 629.2h0M2112.6 470.6h0M2118.1 468.4h0M1987.4 617.5h0M1984.4 619.4h0M1984.0 625.8h0M2118.1 464.5h0M1979.0 628.7h0M2108.2 481.0h0M2117.7 469.1h0M2113.7 471.1h0M2113.4 474.3h0M1980.8 624.2h0M2110.2 477.5h0M2116.5 469.1h0M1972.9 634.6h0M1994.3 609.0h0M2115.1 470.0h0M2115.7 470.7h0" stroke="#4512d9" stroke-width="5.0" stroke-linecap="round" fill="none"/>
<path d="M2109.5 478.8h0M2119.6 468.8h0M1990.4 612.4h0M2111.6 477.5h0M1977.5 631.5h0M2112.4 475.8h0M1988.0 617.9h0M1984.2 619.9h0M2117.8 473.1h0M2110.6 478.0h0M2112.2 477.7h0M2124.1 462.6h0M1991.1 612.7h0M1979.5 623.5h0M2112.6 475.2h0M2120.1 470.4h0M1974.6 631.5h0M1982.4 621.1h0M1984.1 619.8h0M1989.1 618.3h0M1990.5 619.8h0M2116.5 472.2h0M1988.0 618.3h0M2112.0 476.2h0M2113.6 476.1h0M1975.9 631.3h0" stroke="#9b22cc" stroke-width="5.0" stroke-linecap="round" fill="none"/>
<path d="M2111.4 475.2h0M1979.0 622.1h0M1981.4 621.2h0M2000.3 599.2h0M1988.7 612.9h0M2113.3 471.6h0M1964.5 636.7h0M2120.6 465.8h0M1968.1 633.0h0M2107.5 479.8h0M2111.0 476.6h0M1980.8 619.5h0M2107.9 477.8h0M2111.8 474.8h0M1984.1 616.9h0M1980.8 621.9h0M1970.6 632.9h0M1999.1 600.4h0M2001.2 600.7h0M1985.7 614.9h0M2113.5 472.1h0M2109.8 477.5h0M2108.2 477.1h0M2120.3 468.5h0M2110.1 479.8h0M1975.4 626.7h0" stroke="#03034f" stroke-width="5.0" stroke-linecap="round" fill="none"/>
<path d="M2122.2 467.4h0M2133.0 459.1h0M1981.3 623.0h0M2112.6 480.4h0M1973.9 627.8h0M2132.1 463.9h0M1982.8 623.9h0M1987.2 618.2h0M1981.0 622.8h0M1978.1 623.9h0M1988.2 617.5h0M1977.1 627.0h0M1983.1 619.8h0M2122.1 469.5h0M1999.1 606.0h0M2118.4 477.7h0M2117.8 476.5h0M2109.4 483.5h0M1982.5 621.9h0M1980.2 626.9h0M1998.5 608.8h0M2108.1 485.4h0M1974.5 628.2h0M2126.3 462.9h0M1983.5 619.4h0M2115.5 477.4h0" stroke="#e9659f" stroke-width="5.0" stroke-linecap="round" fill="none"/>
<path d="M1978.8 626.5h0M1974.3 634.6h0M1978.4 630.8h0M1978.0 632.3h0M2117.1 464.5h0M1980.6 630.5h0M2120.7 466.3h0M1978.2 630.3h0M2113.3 475.6h0M1978.5 629.2h0M1975.3 636.9h0M2116.8 470.2h0M2115.7 468.7h0M2113.8 469.1h0M1980.7 629.7h0M1976.3 630.0h0M2111.3 477.3h0M2111.4 472.3h0M1974.9 633.3h0M2108.5 478.1h0M1975.6 633.5h0M1982.5 624.6h0M1973.4 636.5h0M2113.7 472.7h0M1984.6 624.0h0M2111.1 473.3h0" stroke="#4512d9" stroke-width="5.0" stroke-linecap="round" fill="none"/>
<path d="M1994.0 606.9h0M1983.4 617.7h0M2115.1 470.1h0M1984.0 619.4h0M1975.0 633.3h0M1986.7 617.3h0M1998.3 603.7h0M1969.3 635.2h0M2113.3 472.0h0M1984.0 620.7h0M2114.5 471.2h0M2111.3 474.0h0M1979.1 624.6h0M1981.4 624.2h0M1982.8 621.7h0M2111.6 473.9h0M1979.4 621.4h0M2109.1 477.0h0M2107.5 479.6h0M1981.8 622.6h0M2109.1 473.0h0M1980.7 620.9h0M1992.5 609.9h0M2114.7 473.1h0M1974.2 630.8h0M1973.6 632.5h0" stroke="#0505c4" stroke-width="5.0" stroke-linecap="round" fill="none"/>
<path d="M2111.0 476.3h0M1975.6 626.3h0M2116.1 475.0h0M2108.5 477.4h0M1982.8 617.4h0M1986.5 616.6h0M2113.9 472.3h0M2112.7 473.7h0M1976.2 624.8h0M1975.8 625.8h0M1995.2 603.3h0M2108.4 480.0h0M1967.1 632.4h0M2121.1 468.3h0M1983.1 617.5h0M1975.9 624.9h0M1983.2 616.7h0M1983.8 616.9h0M2111.9 475.3h0M1983.1 615.8h0M2110.0 478.9h0M2111.5 478.3h0M2112.7 474.7h0M1987.1 613.2h0M1985.9 615.5h0M2110.3 476.4h0" stroke="#03034f" stroke-width="5.0" stroke-linecap="round" fill="none"/>
<path d="M2109.0 483.6h0M1997.2 609.9h0M1992.7 615.7h0M1981.2 621.7h0M1977.9 627.3h0M1981.2 624.2h0M1974.0 625.7h0M1976.9 625.6h0M2112.3 480.1h0M2119.4 472.1h0M2124.0 465.2h0M2123.4 466.1h0M2108.3 484.2h0M1985.3 618.5h0M1976.0 626.6h0M2114.1 478.6h0M1976.5 626.6h0M1982.1 620.3h0M1987.2 616.2h0M2119.6 469.9h0M2110.7 482.3h0M1985.9 619.1h0M2132.1 458.2h0M1973.4 626.9h0M1973.5 626.9h0M1997.5 606.8h0" stroke="#e9659f" stroke-width="5.0" stroke-linecap="round" fill="none"/>
<path d="M2128.3 459.8h0M2118.6 465.6h0M1974.4 632.5h0M2110.9 473.7h0M2111.6 475.7h0M2112.3 476.0h0M2108.8 479.4h0M1982.1 625.0h0M2122.9 462.9h0M2111.4 474.1h0M2114.5 471.5h0M1985.4 621.3h0M2116.2 469.8h0M1974.9 634.9h0M2111.7 472.9h0M2123.4 463.2h0M1975.3 635.6h0M1979.4 628.9h0M1975.6 632.5h0M1973.4 634.0h0M2118.5 463.7h0M1995.2 609.7h0M2113.2 472.0h0M1980.1 623.8h0M2120.9 465.7h0M1973.1 636.4h0" stroke="#4512d9" stroke-width="5.0" stroke-linecap="round" fill="none"/>
<path d="M1995.9 605.9h0M2114.7 471.0h0M2110.6 475.6h0M1993.2 610.0h0M2110.5 476.6h0M1984.2 621.4h0M2116.9 471.1h0M2108.7 480.1h0M2110.6 476.0h0M1971.8 633.8h0M2110.4 476.0h0M1998.2 604.6h0M2125.2 464.9h0M1981.5 622.6h0M2111.4 476.3h0M2107.6 474.1h0M2109.2 475.4h0M1978.1 626.7h0M1980.4 622.9h0M2113.6 473.7h0M2108.5 477.7h0M2124.8 462.9h0M1982.1 622.5h0M1973.2 630.8h0M1980.1 624.8h0M1974.5 631.7h0" stroke="#0505c4" stroke-width="5.0" stroke-linecap="round" fill="none"/>
<path d="M1979.4 625.7h0M2114.1 477.4h0M2120.0 466.6h0M2112.0 477.0h0M2130.5 457.5h0M2113.3 479.5h0M1979.9 624.3h0M2123.4 466.2h0M1973.8 631.1h0M2124.8 464.1h0M1976.2 627.3h0M1975.7 630.7h0M2130.7 454.7h0M1976.6 629.3h0M1987.7 616.4h0M2112.5 474.6h0M2109.8 478.8h0M2119.5 469.0h0M2121.9 468.1h0M2114.6 476.2h0M2110.9 476.3h0M1987.7 618.1h0M2119.8 466.8h0M2112.0 475.3h0M1974.5 631.4h0M2113.8 478.2h0" stroke="#9b22cc" stroke-width="5.0" stroke-linecap="round" fill="none"/>
<path d="M2000.0 604.1h0M2110.6 484.0h0M1975.2 629.3h0M1985.9 621.2h0M1979.4 627.7h0M1980.8 622.4h0M1983.9 619.2h0M2117.3 476.0h0M2131.1 464.4h0M1982.3 620.6h0M1980.6 622.9h0M1998.2 608.5h0M2130.3 465.4h0M2117.4 477.7h0M2108.6 483.9h0M1979.1 624.7h0M1977.5 624.2h0M2112.1 478.3h0M2114.4 479.4h0M2110.3 481.0h0M1974.6 627.7h0M1972.5 625.7h0M1975.1 628.4h0M1995.2 610.9h0M2112.9 481.2h0M2108.9 483.4h0M1983.9 621.5h0" stroke="#e9659f" stroke-width="5.0" stroke-linecap="round" fill="none"/>
<path d="M1974.4 630.2h0M1977.1 631.9h0M2112.0 471.1h0M1979.7 627.3h0M1987.0 619.1h0M2108.6 476.9h0M2112.9 471.4h0M2115.2 468.1h0M2113.8 471.4h0M2131.1 451.7h0M1977.6 627.9h0M2114.2 470.8h0M2111.8 471.7h0M1978.4 633.1h0M2112.0 476.3h0M2115.7 471.6h0M2111.7 474.2h0M1984.3 622.2h0M1974.5 633.4h0M2107.2 480.0h0M1973.5 635.8h0M1977.2 632.4h0M2111.7 471.7h0M2128.7 458.3h0M1980.6 625.4h0M1984.1 623.6h0M2125.5 460.6h0" stroke="#4512d9" stroke-width="5.0" stroke-linecap="round" fill="none"/>
<path d="M1979.6 622.0h0M2118.1 469.9h0M1974.2 630.1h0M1970.5 634.0h0M2114.1 473.3h0M2112.3 475.3h0M2106.8 480.0h0M1999.6 604.1h0M2116.0 471.6h0M2113.2 475.5h0M2112.2 474.8h0M1972.0 631.1h0M1972.6 632.2h0M1976.7 628.6h0M1972.4 633.8h0M2110.5 477.5h0M1981.6 622.1h0M1980.5 622.1h0M2109.5 475.8h0M2114.5 471.5h0M2114.4 472.6h0M2108.8 474.5h0M2112.8 476.3h0M2115.7 472.3h0M2109.5 478.1h0M2126.7 460.5h0M1994.4 608.9h0" stroke="#0505c4" stroke-width="5.0" stroke-linecap="round" fill="none"/>
<path d="M1983.0 621.8h0M2115.8 473.1h0M1981.0 622.6h0M2116.2 475.7h0M2112.5 475.7h0M2130.1 458.4h0M1980.7 624.6h0M1988.7 619.4h0M1982.2 623.2h0M2112.2 476.7h0M1981.8 620.2h0M2124.7 465.9h0M2112.6 479.0h0M2127.3 461.1h0M2113.1 476.1h0M1983.5 624.4h0M2114.1 478.2h0M2110.8 478.2h0M1980.6 625.1h0M1975.2 631.1h0M1983.3 622.8h0M1975.2 630.2h0M1985.9 617.4h0M2112.2 476.6h0M2116.2 474.0h0M2124.8 464.6h0M2111.5 479.0h0" stroke="#9b22cc" stroke-width="5.0" stroke-linecap="round" fill="none"/>
<path d="M2111.2 478.7h0M1979.4 618.6h0M2108.6 477.3h0M1982.8 616.4h0M1999.6 598.7h0M1978.7 622.9h0M2000.7 601.0h0M1991.7 608.5h0M1972.2 630.9h0M1982.1 618.6h0M2113.8 472.4h0M2113.1 475.9h0M1977.3 622.8h0M2114.8 474.1h0M2111.8 473.2h0M1985.0 615.7h0M1984.2 616.9h0M1996.0 605.1h0M1988.1 613.3h0M1985.1 615.6h0M1980.3 618.1h0M2113.8 473.1h0M2000.6 598.5h0M1984.2 618.2h0M2105.7 478.8h0M2108.2 476.0h0M1975.9 620.4h0" stroke="#03034f" stroke-width="5.0" stroke-linecap="round" fill="none"/>
<path d="M1232.4 983.6C1236.0 983.8 1247.7 983.5 1254.2 984.4C1260.7 985.2 1265.8 986.6 1271.6 988.6C1277.4 990.6 1283.2 994.2 1289.0 996.4C1294.8 998.5 1300.6 1001.0 1306.4 1001.8C1312.2 1002.5 1318.7 1001.2 1323.8 1000.6C1328.9 1000.1 1331.7 998.1 1336.8 998.5C1341.9 998.8 1348.4 1001.4 1354.2 1002.9C1360.0 1004.3 1365.8 1006.0 1371.6 1007.1C1377.4 1008.3 1383.2 1009.1 1389.0 1010.0C1394.8 1011.0 1400.6 1011.3 1406.4 1012.6C1412.2 1014.0 1418.7 1016.8 1423.8 1018.0C1428.9 1019.3 1432.6 1020.6 1436.9 1020.2C1441.2 1019.9 1445.6 1018.0 1449.9 1015.9C1454.2 1013.7 1458.7 1009.3 1463.0 1007.1C1467.3 1005.0 1472.0 1003.2 1476.0 1002.9C1480.0 1002.5 1483.8 1004.0 1486.9 1005.0C1490.0 1006.1 1493.2 1008.6 1494.5 1009.4L1495.5 1009.4L1495.5 862.0L1497.5 862.0C1499.9 862.8 1506.2 865.6 1511.9 866.8C1517.7 867.9 1525.3 867.8 1532.0 868.8C1538.7 869.8 1545.5 872.6 1552.2 872.8C1558.9 872.9 1565.7 870.6 1572.4 869.5C1579.1 868.3 1585.8 865.5 1592.5 866.0C1599.2 866.6 1607.1 871.6 1612.7 872.8C1618.3 873.9 1620.5 873.9 1626.1 872.8C1631.7 871.6 1639.6 867.5 1646.3 866.0C1653.0 864.6 1659.7 863.8 1666.4 864.0C1673.1 864.3 1679.9 866.5 1686.6 867.5C1693.3 868.5 1701.1 869.8 1706.7 870.0C1712.3 870.3 1715.7 870.1 1720.2 868.8C1724.7 867.4 1729.1 863.8 1733.6 862.0C1738.1 860.3 1743.1 858.8 1747.1 858.0C1751.1 857.3 1756.0 857.5 1757.8 857.4" fill="none" stroke="#03034f" stroke-width="2.5" stroke-linejoin="round"/>
<path d="M1232.4 989.4C1236.0 989.8 1247.7 990.2 1254.2 992.0C1260.7 993.7 1265.8 997.0 1271.6 999.5C1277.4 1002.1 1283.9 1005.5 1289.0 1007.1C1294.1 1008.8 1297.7 1009.7 1302.0 1009.4C1306.3 1009.0 1310.0 1006.8 1315.1 1005.0C1320.2 1003.3 1327.4 999.9 1332.5 999.0C1337.6 998.0 1340.4 998.5 1345.5 999.5C1350.6 1000.6 1357.1 1003.2 1362.9 1005.0C1368.7 1006.9 1374.5 1009.2 1380.3 1010.5C1386.1 1011.7 1391.9 1012.5 1397.7 1012.6C1403.5 1012.8 1409.3 1011.7 1415.1 1011.5C1420.9 1011.4 1426.7 1012.3 1432.5 1011.5C1438.3 1010.8 1444.1 1008.4 1449.9 1007.1C1455.7 1005.9 1462.2 1004.7 1467.3 1004.0C1472.4 1003.2 1475.9 1002.3 1480.4 1002.9C1484.9 1003.4 1492.2 1006.4 1494.5 1007.1L1495.5 1007.1L1495.5 858.0L1497.5 858.0C1499.9 858.6 1506.2 860.0 1511.9 861.4C1517.7 862.7 1525.3 864.4 1532.0 866.0C1538.7 867.7 1545.5 871.0 1552.2 871.5C1558.9 871.9 1565.7 869.9 1572.4 868.8C1579.1 867.6 1585.8 864.8 1592.5 864.8C1599.2 864.8 1606.0 868.8 1612.7 868.8C1619.4 868.8 1626.1 865.9 1632.8 864.8C1639.5 863.6 1646.3 862.4 1653.0 862.0C1659.7 861.7 1666.4 861.9 1673.1 862.8C1679.8 863.6 1686.6 866.7 1693.3 867.5C1700.0 868.2 1706.8 869.2 1713.5 867.5C1720.2 865.7 1728.0 859.7 1733.6 856.6C1739.2 853.6 1743.1 851.0 1747.1 849.2C1751.1 847.5 1756.0 846.5 1757.8 846.0" fill="none" stroke="#4512d9" stroke-width="2.5" stroke-linejoin="round"/>
<path d="M1232.4 1001.0C1236.0 1001.3 1247.7 1001.8 1254.2 1002.9C1260.7 1003.9 1265.8 1005.9 1271.6 1007.1C1277.4 1008.4 1283.9 1010.3 1289.0 1010.5C1294.1 1010.6 1297.7 1010.2 1302.0 1008.2C1306.3 1006.2 1310.8 1001.7 1315.1 998.5C1319.4 995.2 1323.9 991.0 1328.1 988.6C1332.3 986.3 1335.8 984.4 1340.1 984.4C1344.4 984.4 1349.0 985.9 1354.2 988.6C1359.5 991.4 1366.1 997.2 1371.6 1000.6C1377.0 1004.1 1381.8 1007.4 1386.9 1009.4C1392.0 1011.4 1396.7 1012.6 1402.1 1012.6C1407.5 1012.6 1413.7 1010.5 1419.5 1009.4C1425.3 1008.2 1430.4 1007.1 1436.9 1006.0C1443.4 1005.0 1452.1 1003.9 1458.6 1002.9C1465.1 1001.8 1470.0 1000.5 1476.0 999.5C1482.0 998.6 1491.4 997.7 1494.5 997.4L1495.5 997.4L1495.5 847.2L1495.8 847.2C1497.3 847.1 1501.4 846.3 1505.2 846.5C1509.0 846.8 1514.1 847.2 1518.6 848.5C1523.1 849.9 1527.5 852.2 1532.0 854.6C1536.5 857.1 1541.0 861.5 1545.5 863.4C1550.0 865.2 1554.4 866.5 1558.9 866.0C1563.4 865.6 1567.9 862.1 1572.4 860.6C1576.9 859.2 1581.3 857.4 1585.8 857.4C1590.3 857.4 1594.7 858.8 1599.2 860.6C1603.7 862.5 1607.1 867.2 1612.7 868.8C1618.3 870.3 1626.1 869.6 1632.8 870.0C1639.5 870.5 1646.3 871.5 1653.0 871.5C1659.7 871.5 1666.4 870.5 1673.1 870.0C1679.8 869.6 1687.0 869.4 1693.3 868.8C1699.6 868.1 1705.2 868.3 1710.8 866.0C1716.4 863.8 1721.5 858.5 1726.9 855.4C1732.3 852.2 1737.8 849.3 1743.0 847.2C1748.2 845.2 1755.3 843.9 1757.8 843.2" fill="none" stroke="#e9659f" stroke-width="2.5" stroke-linejoin="round"/>
<path d="M1232.4 984.1C1236.0 984.2 1247.7 983.9 1254.2 984.9C1260.7 985.9 1265.8 987.8 1271.6 989.9C1277.4 992.1 1283.2 995.7 1289.0 997.8C1294.8 999.9 1300.6 1002.2 1306.4 1002.6C1312.2 1003.1 1318.7 1001.3 1323.8 1000.7C1328.9 1000.1 1331.7 998.4 1336.8 998.9C1341.9 999.4 1348.4 1002.2 1354.2 1003.7C1360.0 1005.2 1365.8 1006.6 1371.6 1007.8C1377.4 1009.0 1383.2 1009.8 1389.0 1010.8C1394.8 1011.7 1400.6 1012.3 1406.4 1013.6C1412.2 1014.9 1418.7 1017.6 1423.8 1018.8C1428.9 1020.0 1432.6 1021.2 1436.9 1020.8C1441.2 1020.5 1445.6 1018.6 1449.9 1016.4C1454.2 1014.2 1458.7 1009.7 1463.0 1007.5C1467.3 1005.3 1472.0 1003.8 1476.0 1003.4C1480.0 1003.0 1483.8 1004.1 1486.9 1004.9C1490.0 1005.7 1493.2 1007.6 1494.5 1008.1L1495.5 1008.1L1495.5 860.4L1497.5 860.4C1502.1 861.4 1515.9 864.7 1525.0 866.1C1534.1 867.5 1543.2 869.0 1552.2 868.7C1561.2 868.5 1570.0 864.8 1579.0 864.6C1588.0 864.3 1597.0 866.9 1606.0 867.1C1615.0 867.2 1624.0 866.5 1633.0 865.4C1642.0 864.4 1651.1 861.0 1660.0 860.7C1668.9 860.4 1679.9 862.5 1686.6 863.4C1693.3 864.3 1694.4 865.9 1700.0 866.1C1705.6 866.3 1713.5 866.1 1720.2 864.7C1726.9 863.4 1733.7 860.0 1740.0 858.1C1746.3 856.3 1754.8 854.4 1757.8 853.7" fill="none" stroke="#3b3590" stroke-width="2.5" stroke-linejoin="round" stroke-dasharray="7.4 3"/>
<path d="M1232.4 992.2C1236.8 993.2 1248.6 994.4 1258.7 998.0C1268.8 1001.5 1283.9 1011.4 1293.3 1013.3C1302.7 1015.3 1307.8 1011.4 1315.1 1009.6C1322.3 1007.8 1328.1 1002.3 1336.8 1002.7C1345.5 1003.1 1357.9 1009.4 1367.3 1012.0C1376.7 1014.6 1384.0 1017.5 1393.4 1018.3C1402.8 1019.1 1415.1 1017.4 1423.8 1016.8C1432.5 1016.2 1438.3 1016.6 1445.6 1014.8C1452.8 1013.0 1459.1 1006.5 1467.3 1005.9C1475.5 1005.3 1490.0 1010.2 1494.5 1011.1L1495.5 1011.1L1495.5 853.2L1497.5 853.2C1502.1 854.2 1515.9 856.5 1525.0 859.0C1534.1 861.5 1544.3 867.4 1552.2 868.2C1560.1 869.0 1565.7 865.3 1572.4 864.0C1579.1 862.6 1584.7 860.7 1592.5 860.3C1600.3 860.0 1610.4 862.2 1619.4 861.8C1628.4 861.4 1637.3 858.5 1646.3 858.0C1655.2 857.4 1664.1 857.1 1673.1 858.3C1682.0 859.5 1693.3 864.0 1700.0 865.0C1706.7 866.0 1707.9 866.3 1713.5 864.2C1719.1 862.2 1726.9 856.3 1733.6 852.6C1740.3 848.9 1750.4 843.8 1753.8 842.0" fill="none" stroke="#7444dc" stroke-width="2.5" stroke-linejoin="round" stroke-dasharray="7.4 3"/>
<path d="M1232.4 1003.5C1236.8 1003.9 1248.6 1004.3 1258.7 1005.9C1268.8 1007.4 1283.9 1013.3 1293.3 1012.7C1302.7 1012.2 1307.3 1006.6 1315.1 1002.4C1322.9 998.2 1331.4 987.9 1340.1 987.6C1348.8 987.3 1358.0 996.6 1367.3 1000.8C1376.5 1005.0 1384.7 1011.1 1395.6 1012.7C1406.5 1014.3 1420.5 1011.7 1432.5 1010.4C1444.5 1009.1 1457.0 1006.4 1467.3 1004.8C1477.6 1003.1 1490.0 1001.3 1494.5 1000.6L1495.5 1000.6L1495.5 848.1L1497.5 848.1C1501.0 848.4 1512.8 848.6 1518.6 849.9C1524.3 851.1 1527.5 853.3 1532.0 855.6C1536.5 857.9 1541.0 862.1 1545.5 863.9C1550.0 865.7 1554.4 866.9 1558.9 866.5C1563.4 866.0 1567.9 862.7 1572.4 861.3C1576.9 859.9 1581.3 857.9 1585.8 857.9C1590.3 857.9 1594.7 859.5 1599.2 861.3C1603.7 863.1 1607.1 867.1 1612.7 868.4C1618.3 869.8 1626.1 868.9 1632.8 869.3C1639.5 869.6 1646.3 870.5 1653.0 870.6C1659.7 870.7 1666.4 870.2 1673.1 869.9C1679.8 869.5 1687.0 869.2 1693.3 868.5C1699.6 867.7 1705.2 867.6 1710.8 865.3C1716.4 862.9 1721.5 857.6 1726.9 854.4C1732.3 851.1 1737.8 847.8 1743.0 845.8C1748.2 843.7 1755.3 842.9 1757.8 842.4" fill="none" stroke="#f2a2cc" stroke-width="2.5" stroke-linejoin="round" stroke-dasharray="7.4 3"/>
<path d="M2118.0 858.4h0M1989.4 998.0h0M2113.0 861.1h0M1981.2 1006.2h0M1993.2 993.3h0M1980.4 1007.6h0M2115.6 857.0h0M2115.3 860.1h0M2111.3 863.8h0M2109.8 862.2h0M2112.4 862.3h0M2113.2 861.6h0M1989.6 997.0h0M2112.8 863.2h0M2109.6 864.8h0M2107.8 869.1h0M2108.5 867.0h0M1976.7 1010.8h0M1998.2 988.9h0M1979.7 1008.7h0M1996.3 991.6h0M1981.9 1004.9h0M1982.7 1004.0h0M1972.0 1017.2h0M2112.0 862.8h0M2112.9 863.3h0" stroke="#0505c4" stroke-width="5.0" stroke-linecap="round" fill="none"/>
<path d="M2113.9 866.6h0M1986.9 1002.8h0M2122.4 857.2h0M2112.0 866.2h0M2109.2 868.7h0M2120.7 857.0h0M2123.5 854.9h0M1987.2 1000.9h0M2135.0 845.1h0M2126.1 854.4h0M1978.7 1011.3h0M2109.5 868.8h0M2115.7 863.8h0M1979.6 1011.2h0M1974.7 1009.3h0M2109.6 869.1h0M1977.0 1012.8h0M2108.0 872.7h0M1977.8 1010.2h0M2112.6 865.9h0M1985.5 1002.7h0M1986.4 1002.7h0M2129.8 845.1h0M1978.8 1006.5h0M1983.2 1005.3h0M1984.4 1004.7h0" stroke="#e9659f" stroke-width="5.0" stroke-linecap="round" fill="none"/>
<path d="M1982.1 1002.5h0M2107.4 865.0h0M1980.9 1004.0h0M2111.8 863.3h0M1983.8 999.7h0M2108.5 866.8h0M2109.1 865.3h0M1985.6 998.7h0M2106.6 866.0h0M1974.6 1014.0h0M1999.2 984.4h0M2000.8 982.8h0M2110.1 867.4h0M1982.0 1003.2h0M2109.1 865.0h0M2107.8 865.6h0M1983.4 1001.9h0M2117.7 861.0h0M1975.5 1012.5h0M2110.9 865.6h0M2111.3 863.1h0M1985.1 1002.7h0M2121.1 856.2h0M1974.1 1014.1h0M1995.8 988.2h0M2113.4 863.1h0" stroke="#03034f" stroke-width="5.0" stroke-linecap="round" fill="none"/>
<path d="M2111.3 862.8h0M1989.1 1000.4h0M1981.2 1008.7h0M1987.1 1005.6h0M2108.5 867.2h0M1975.0 1017.2h0M1978.7 1012.9h0M1973.2 1017.2h0M2121.0 853.7h0M1973.4 1017.4h0M2108.8 867.7h0M1982.3 1006.5h0M2112.8 860.4h0M1994.8 993.5h0M2112.6 862.6h0M1976.1 1014.0h0M1978.2 1010.5h0M2111.0 862.9h0M2111.1 859.5h0M2133.1 841.7h0M2118.5 854.2h0M1981.8 1006.7h0M1983.5 1007.0h0M2112.9 860.4h0M1981.9 1004.9h0M1985.7 1003.4h0" stroke="#4512d9" stroke-width="5.0" stroke-linecap="round" fill="none"/>
<path d="M2112.6 864.9h0M1976.9 1013.4h0M2112.8 863.8h0M2112.1 865.0h0M1978.1 1010.3h0M2111.2 864.4h0M2112.8 863.9h0M2115.9 860.0h0M2123.0 852.9h0M1984.4 1005.6h0M2113.1 865.4h0M1979.5 1012.9h0M2124.5 851.1h0M1990.3 999.1h0M1977.2 1009.9h0M2129.5 847.0h0M1976.8 1013.6h0M1988.0 1001.2h0M1981.9 1006.3h0M2111.7 864.6h0M2115.1 859.9h0M1983.9 1006.2h0M1977.3 1012.6h0M2124.0 853.5h0M1987.8 1001.5h0M2110.7 865.4h0" stroke="#9b22cc" stroke-width="5.0" stroke-linecap="round" fill="none"/>
<path d="M2134.3 841.3h0M1982.8 1004.0h0M1975.3 1012.6h0M2119.4 859.7h0M2109.4 868.0h0M2107.6 869.3h0M2000.9 988.9h0M1980.3 1009.4h0M1980.2 1009.0h0M2123.2 852.2h0M1978.6 1007.8h0M1973.2 1014.2h0M2115.7 863.3h0M2109.0 868.9h0M1975.5 1011.9h0M2111.1 867.8h0M2114.3 865.1h0M1988.1 1001.2h0M1999.0 991.5h0M1982.3 1003.3h0M1998.8 989.9h0M1980.1 1009.2h0M1984.2 1003.8h0M1975.8 1012.2h0M2118.9 859.9h0M2119.4 857.2h0" stroke="#e9659f" stroke-width="5.0" stroke-linecap="round" fill="none"/>
<path d="M1992.6 994.2h0M1967.4 1019.6h0M1976.5 1005.7h0M2110.4 867.0h0M1999.3 985.4h0M2113.6 862.4h0M2120.7 857.3h0M2116.2 861.3h0M2112.7 862.9h0M2110.0 867.3h0M1981.1 1002.7h0M1979.7 1004.6h0M2107.1 866.4h0M1972.8 1012.5h0M1974.1 1011.0h0M2112.1 867.5h0M2113.8 861.2h0M2106.3 865.2h0M1978.4 1006.9h0M2116.8 861.2h0M1977.6 1006.9h0M1994.6 992.2h0M1990.2 996.1h0M1983.4 1002.8h0M1997.1 988.2h0M2110.2 863.0h0" stroke="#03034f" stroke-width="5.0" stroke-linecap="round" fill="none"/>
<path d="M1989.4 999.4h0M1981.1 1007.0h0M2112.8 864.5h0M1978.3 1008.7h0M2115.3 858.0h0M2117.6 858.2h0M2116.2 857.5h0M1985.6 1002.5h0M1977.4 1016.1h0M2111.4 865.0h0M1981.5 1008.0h0M1980.6 1009.6h0M2129.9 841.5h0M1979.9 1011.6h0M1992.4 994.8h0M2117.7 857.5h0M2112.8 864.0h0M1973.3 1015.4h0M1995.1 992.4h0M1973.4 1018.8h0M1982.6 1008.5h0M1973.7 1017.0h0M1974.1 1014.9h0M2111.5 859.4h0M1981.8 1008.5h0M1974.0 1017.4h0" stroke="#4512d9" stroke-width="5.0" stroke-linecap="round" fill="none"/>
<path d="M1987.0 1003.1h0M1978.5 1009.3h0M2113.1 863.9h0M1977.6 1012.3h0M2115.5 862.2h0M2122.4 852.8h0M2110.2 865.0h0M2120.8 856.4h0M2115.2 860.4h0M1984.0 1005.8h0M2117.3 861.1h0M1978.6 1007.9h0M1980.5 1008.1h0M2115.8 861.6h0M1978.5 1011.1h0M2113.5 863.9h0M1977.5 1013.5h0M1984.7 1005.7h0M2132.0 842.1h0M1980.6 1008.0h0M1974.9 1016.1h0M2113.7 863.1h0M2123.1 852.2h0M2110.4 863.9h0M1992.2 997.5h0M2111.6 861.8h0" stroke="#9b22cc" stroke-width="5.0" stroke-linecap="round" fill="none"/>
<path d="M1974.1 1015.4h0M1982.9 1007.0h0M2115.5 858.7h0M2116.8 858.0h0M1976.7 1011.6h0M2114.8 863.2h0M2123.3 851.8h0M1983.7 1004.6h0M2111.0 863.1h0M1979.9 1007.8h0M1983.0 1005.3h0M2108.6 867.8h0M2114.7 863.7h0M2113.5 863.8h0M2111.8 864.6h0M1981.2 1004.3h0M2113.6 860.8h0M1988.8 998.6h0M2127.0 848.7h0M1977.8 1011.6h0M1969.8 1016.7h0M2115.5 858.5h0M1978.7 1007.5h0M1998.8 989.2h0M1984.8 1003.4h0M1977.8 1013.2h0" stroke="#0505c4" stroke-width="5.0" stroke-linecap="round" fill="none"/>
<path d="M1999.9 985.0h0M1976.0 1011.2h0M1971.4 1013.6h0M2113.5 862.8h0M1999.3 985.3h0M2113.4 863.5h0M1995.0 992.2h0M1999.7 986.4h0M1975.5 1010.4h0M2120.8 852.8h0M2110.7 865.4h0M1978.6 1008.2h0M1984.8 1000.7h0M1986.0 999.2h0M1968.3 1018.4h0M1993.4 991.8h0M1997.7 988.1h0M1998.5 985.1h0M1985.6 1002.8h0M2109.0 867.1h0M1982.0 1005.6h0M2112.4 862.7h0M2107.2 866.6h0M1989.3 996.4h0M1983.5 1001.0h0M2111.7 862.5h0" stroke="#03034f" stroke-width="5.0" stroke-linecap="round" fill="none"/>
<path d="M1980.9 1008.6h0M2112.4 860.6h0M2110.4 863.7h0M1983.7 1009.1h0M2112.2 860.2h0M1986.3 1002.2h0M1982.4 1007.3h0M1982.9 1006.0h0M1980.8 1009.2h0M2109.5 865.2h0M2112.1 865.4h0M2117.2 859.0h0M2112.8 864.0h0M1974.8 1017.5h0M2111.6 861.1h0M2113.0 860.9h0M1972.5 1018.0h0M2112.3 860.2h0M1983.8 1006.8h0M2118.3 854.1h0M2120.2 853.7h0M1973.5 1015.5h0M1975.3 1014.4h0M2110.1 864.3h0M1993.6 995.2h0M1985.9 1004.0h0" stroke="#4512d9" stroke-width="5.0" stroke-linecap="round" fill="none"/>
<path d="M2116.5 860.4h0M2112.1 864.9h0M2119.0 858.1h0M1984.2 1007.6h0M2114.7 862.4h0M2111.8 863.8h0M1980.9 1009.8h0M1984.2 1004.9h0M1979.8 1009.8h0M1978.5 1010.4h0M1978.2 1012.9h0M1975.0 1016.1h0M1983.8 1006.8h0M1989.9 1002.2h0M1974.5 1012.7h0M1973.2 1013.7h0M2121.8 853.3h0M1976.8 1013.7h0M2123.2 852.9h0M1989.5 999.8h0M1983.9 1005.5h0M1988.0 998.1h0M1990.1 998.9h0M1988.0 1000.2h0M2112.6 862.3h0M2116.6 858.7h0" stroke="#9b22cc" stroke-width="5.0" stroke-linecap="round" fill="none"/>
<path d="M2112.2 864.5h0M1978.9 1011.2h0M1994.8 990.9h0M1971.3 1017.8h0M1980.4 1008.6h0M1983.7 1004.8h0M2113.1 860.3h0M1984.9 1001.7h0M1985.2 1001.8h0M2111.9 863.9h0M2112.3 864.0h0M1973.5 1015.7h0M1993.9 992.8h0M1987.9 999.3h0M2109.4 862.8h0M2109.6 865.0h0M1979.8 1008.9h0M2107.2 866.1h0M1997.1 989.6h0M2110.2 865.5h0M1985.2 1004.0h0M1971.2 1015.6h0M1997.6 990.5h0M2111.3 863.8h0M2111.4 865.8h0M1970.4 1016.5h0" stroke="#0505c4" stroke-width="5.0" stroke-linecap="round" fill="none"/>
<path d="M2120.2 858.0h0M1979.8 1008.2h0M1986.4 1001.8h0M2132.0 845.6h0M1972.1 1010.8h0M1987.4 1002.6h0M2126.6 852.5h0M2126.6 851.6h0M1982.8 1008.2h0M2117.8 860.4h0M2115.2 863.2h0M1999.3 990.9h0M2108.3 868.9h0M1994.3 994.0h0M1977.5 1010.9h0M1984.0 1004.7h0M2109.0 867.7h0M1973.1 1012.1h0M1988.1 1000.9h0M1977.8 1009.6h0M2110.6 868.4h0M2106.0 870.9h0M1975.2 1012.3h0M1976.8 1008.3h0M1985.1 1004.0h0M2109.6 871.0h0" stroke="#e9659f" stroke-width="5.0" stroke-linecap="round" fill="none"/>
<path d="M1978.8 1010.6h0M2113.0 860.9h0M2112.5 862.6h0M2115.2 859.9h0M2116.6 857.8h0M1975.2 1015.8h0M2109.8 864.5h0M1973.9 1017.9h0M1973.0 1015.1h0M1976.3 1010.6h0M1992.7 997.2h0M2114.7 859.2h0M1977.6 1010.6h0M2115.5 858.4h0M2109.2 867.2h0M1975.0 1016.0h0M2113.0 864.8h0M1978.5 1011.9h0M2114.8 859.8h0M1994.8 994.0h0M2122.1 850.3h0M2119.6 856.5h0M1972.1 1015.9h0M1974.4 1017.5h0M2129.4 846.4h0M1991.9 997.7h0" stroke="#4512d9" stroke-width="5.0" stroke-linecap="round" fill="none"/>
<path d="M1992.3 999.9h0M2111.6 864.4h0M1979.3 1006.8h0M1988.6 1000.3h0M2112.0 863.3h0M1978.0 1010.9h0M1990.7 999.4h0M1974.0 1012.6h0M2111.2 865.7h0M1982.5 1007.1h0M2128.2 849.3h0M2115.2 863.1h0M1974.3 1012.3h0M2110.9 864.6h0M1982.0 1005.5h0M2111.1 863.9h0M2111.8 866.7h0M2116.0 860.4h0M2111.9 865.0h0M1988.2 1003.6h0M2118.8 855.8h0M1977.4 1009.6h0M1976.6 1012.3h0M2112.7 863.8h0M1983.6 1007.6h0M2116.1 860.4h0" stroke="#9b22cc" stroke-width="5.0" stroke-linecap="round" fill="none"/>
<path d="M1984.7 1004.0h0M2110.5 864.4h0M2110.5 861.9h0M1976.7 1008.9h0M2109.0 865.4h0M1983.2 1005.8h0M1970.5 1017.8h0M1984.0 1004.5h0M2107.4 864.2h0M1981.9 1006.3h0M2110.7 865.7h0M2110.4 863.5h0M2108.7 866.0h0M1975.1 1015.3h0M1996.3 992.8h0M2112.3 865.2h0M1980.8 1006.1h0M2111.4 864.4h0M1982.9 1006.7h0M1971.7 1017.0h0M2110.4 863.5h0M2106.8 868.6h0M2111.9 862.4h0M1972.6 1018.6h0M2113.0 862.9h0M2114.0 860.4h0" stroke="#0505c4" stroke-width="5.0" stroke-linecap="round" fill="none"/>
<path d="M1978.7 1011.3h0M2113.7 863.4h0M1991.4 997.0h0M1983.6 1006.8h0M1989.4 1000.5h0M2107.9 871.2h0M2107.3 869.5h0M2119.4 860.4h0M2107.2 869.8h0M1974.4 1011.2h0M1998.2 992.3h0M1985.0 1004.8h0M1994.6 998.0h0M2123.4 853.9h0M2111.3 865.2h0M2120.2 859.6h0M2107.3 870.9h0M2114.8 862.2h0M2121.3 858.0h0M2115.8 862.3h0M2125.7 853.8h0M1995.7 991.8h0M2112.4 867.8h0M1987.6 1001.6h0M2124.2 852.3h0M2129.9 848.1h0" stroke="#e9659f" stroke-width="5.0" stroke-linecap="round" fill="none"/>
<path d="M2112.6 864.2h0M1978.8 1008.1h0M1979.7 1006.3h0M1966.0 1021.5h0M2120.1 857.5h0M1983.7 1000.8h0M2110.4 863.3h0M1986.5 1000.5h0M1975.6 1010.0h0M2112.6 865.8h0M2106.9 868.6h0M1987.2 997.8h0M1998.9 986.5h0M2109.4 868.1h0M1975.2 1010.4h0M2111.3 865.5h0M2107.2 868.3h0M2111.1 865.8h0M2111.4 865.4h0M1972.8 1014.3h0M2108.7 866.3h0M2113.7 861.9h0M1970.3 1016.7h0M2111.5 863.3h0M2107.2 866.5h0M2114.6 860.8h0" stroke="#03034f" stroke-width="5.0" stroke-linecap="round" fill="none"/>
<path d="M1980.2 1006.0h0M2112.4 863.4h0M1973.6 1013.7h0M2111.4 865.2h0M1978.3 1012.3h0M2123.6 851.5h0M1981.3 1007.0h0M2112.0 864.8h0M1987.6 1003.9h0M1978.2 1012.7h0M1975.5 1013.7h0M2115.6 861.0h0M1987.5 998.7h0M2120.3 856.7h0M1973.9 1016.0h0M1976.0 1013.5h0M1975.6 1014.0h0M1979.0 1011.4h0M1973.9 1015.6h0M2111.0 865.2h0M1984.9 1001.0h0M2124.1 851.3h0M2117.0 859.8h0M1975.3 1013.4h0M2112.8 864.9h0M1988.3 1000.8h0M2112.6 866.0h0" stroke="#9b22cc" stroke-width="5.0" stroke-linecap="round" fill="none"/>
<path d="M1981.6 1006.4h0M2107.5 866.4h0M1997.8 989.8h0M2113.7 860.8h0M1982.9 1004.7h0M2112.6 861.5h0M2112.9 863.1h0M1973.3 1016.1h0M1983.5 1004.6h0M1981.9 1007.3h0M2125.0 849.3h0M2114.1 862.7h0M1981.6 1006.5h0M1973.8 1016.0h0M2112.9 860.7h0M1986.2 1003.5h0M2119.9 856.1h0M2113.2 861.9h0M2113.1 861.7h0M2106.9 868.5h0M2111.9 862.7h0M2111.2 864.5h0M2111.2 860.9h0M2113.9 861.5h0M1993.7 992.9h0M2112.7 865.3h0M1981.1 1005.7h0" stroke="#0505c4" stroke-width="5.0" stroke-linecap="round" fill="none"/>
<path d="M2130.3 849.6h0M2108.4 869.4h0M1997.0 993.6h0M2132.7 842.1h0M2121.0 857.5h0M2113.0 865.3h0M1981.7 1007.5h0M2110.7 865.1h0M1986.0 1001.9h0M1979.9 1006.6h0M1983.2 1003.4h0M1976.9 1009.5h0M1993.1 994.3h0M1977.8 1009.4h0M1976.1 1010.1h0M2132.2 848.9h0M2124.0 851.1h0M2131.6 846.0h0M2109.2 867.6h0M1974.5 1011.9h0M1984.3 1003.6h0M2110.4 867.9h0M1992.2 996.4h0M1992.8 996.4h0M2120.2 859.3h0M1976.9 1011.9h0M1979.7 1004.5h0" stroke="#e9659f" stroke-width="5.0" stroke-linecap="round" fill="none"/>
<path d="M2112.4 862.8h0M1975.8 1011.1h0M2109.3 866.9h0M1977.7 1008.7h0M1994.7 989.9h0M2109.0 866.2h0M1991.2 993.2h0M2107.8 864.8h0M2111.8 862.9h0M2108.9 866.7h0M2115.6 860.5h0M2107.1 866.9h0M1968.5 1016.9h0M2114.9 860.6h0M2115.8 862.1h0M2112.7 864.7h0M2000.5 985.2h0M1981.6 1003.9h0M1986.7 999.7h0M2113.1 865.3h0M1980.2 1006.8h0M2113.1 862.3h0M1967.2 1018.6h0M1990.5 994.2h0M2112.9 861.8h0M1970.8 1015.7h0M1983.0 1003.0h0" stroke="#03034f" stroke-width="5.0" stroke-linecap="round" fill="none"/>
<path d="M1983.7 1007.1h0M2124.8 849.4h0M1984.8 1006.4h0M2109.1 865.7h0M2117.5 855.4h0M1980.8 1006.3h0M2115.0 857.9h0M1979.1 1013.7h0M1982.7 1008.3h0M2116.2 859.5h0M2125.7 849.3h0M1972.6 1016.5h0M2111.9 860.4h0M2112.0 863.4h0M2114.6 858.6h0M1986.7 1001.7h0M2109.9 866.1h0M1985.1 1004.6h0M2107.5 866.3h0M2129.2 845.5h0M2112.2 862.1h0M1979.6 1010.7h0M1990.9 999.3h0M1974.5 1016.4h0M1973.2 1018.4h0M1976.0 1013.8h0M2112.6 859.9h0" stroke="#4512d9" stroke-width="5.0" stroke-linecap="round" fill="none"/>
<path d="M1973.9 1014.6h0M1972.9 1015.3h0M1974.9 1015.8h0M1982.1 1005.3h0M1984.3 1004.0h0M2110.3 865.4h0M1971.8 1017.8h0M1983.8 1005.1h0M2112.9 863.2h0M1970.3 1019.5h0M1973.4 1016.2h0M2112.1 863.9h0M1982.1 1006.6h0M1995.6 990.3h0M1981.0 1007.2h0M2116.0 861.5h0M1978.1 1010.8h0M1980.1 1005.0h0M2109.9 863.8h0M2118.5 858.2h0M1980.1 1008.4h0M1975.1 1010.6h0M1981.0 1006.9h0M1986.5 999.2h0M2114.2 860.3h0M2122.8 851.9h0" stroke="#0505c4" stroke-width="5.0" stroke-linecap="round" fill="none"/>
<path d="M2132.7 847.8h0M2131.7 848.5h0M2111.4 866.6h0M2114.4 864.7h0M1982.3 1007.1h0M1989.7 1000.3h0M2119.8 858.2h0M1976.5 1010.8h0M2113.1 868.2h0M1992.3 997.2h0M2107.9 869.7h0M1981.0 1006.5h0M1979.7 1006.2h0M2110.8 867.6h0M1984.3 1002.7h0M2111.1 868.0h0M2124.2 856.9h0M1981.6 1004.6h0M2118.2 859.6h0M2116.8 861.7h0M2128.5 847.6h0M2108.9 870.4h0M2127.3 852.1h0M1982.9 1009.3h0M1973.5 1011.3h0M2110.2 867.8h0" stroke="#e9659f" stroke-width="5.0" stroke-linecap="round" fill="none"/>
<path d="M1971.5 1011.6h0M1971.0 1016.1h0M2109.7 864.7h0M1981.4 1004.5h0M2113.9 862.4h0M2109.9 866.8h0M1985.9 1000.9h0M2114.5 863.0h0M2117.4 857.0h0M2121.1 855.0h0M2111.8 866.0h0M2121.7 856.1h0M2110.7 865.5h0M1965.9 1019.3h0M2112.3 862.9h0M2112.5 864.3h0M1968.9 1016.8h0M1975.8 1006.4h0M2105.4 866.4h0M1970.3 1014.9h0M2111.8 865.4h0M2111.8 865.7h0M2107.2 869.0h0M2106.4 867.7h0M2111.6 865.4h0M1966.7 1020.1h0" stroke="#03034f" stroke-width="5.0" stroke-linecap="round" fill="none"/>
<path d="M2110.0 858.7h0M1979.8 1009.3h0M2107.6 865.4h0M1975.7 1016.6h0M2116.8 856.7h0M1977.9 1010.2h0M1978.0 1014.1h0M1973.8 1018.0h0M1978.6 1012.9h0M2115.7 857.0h0M2111.9 863.7h0M1979.0 1009.4h0M2115.2 858.6h0M2111.8 862.2h0M1978.7 1010.0h0M2114.0 861.5h0M2112.5 862.3h0M1978.1 1012.4h0M2116.1 857.2h0M2113.5 862.6h0M2110.5 864.3h0M1993.4 996.9h0M1986.3 1004.0h0M1982.0 1007.8h0M1986.3 1001.5h0M1981.9 1009.0h0" stroke="#4512d9" stroke-width="5.0" stroke-linecap="round" fill="none"/>
<path d="M1991.3 998.1h0M2112.0 864.1h0M1989.8 1000.6h0M2110.7 865.9h0M2114.7 863.7h0M1981.8 1005.2h0M2111.2 865.1h0M1987.9 999.7h0M1991.2 996.2h0M2115.6 863.4h0M1987.1 1002.6h0M1977.0 1009.3h0M1976.5 1014.5h0M2111.0 864.6h0M2112.8 863.9h0M1978.0 1013.1h0M2111.9 860.7h0M2111.3 863.7h0M1985.6 1000.3h0M2112.8 864.4h0M2126.1 850.5h0M2130.0 846.2h0M2111.5 864.5h0M1980.6 1008.5h0M1980.2 1008.7h0M2134.1 843.3h0" stroke="#9b22cc" stroke-width="5.0" stroke-linecap="round" fill="none"/>
<path d="M1985.4 1003.3h0M2118.9 860.4h0M2132.3 848.7h0M1986.7 1002.6h0M1994.2 997.1h0M1979.2 1006.1h0M1995.2 995.3h0M2116.0 862.7h0M1982.1 1004.6h0M2114.1 865.1h0M1973.2 1012.8h0M2110.5 865.8h0M1996.8 991.0h0M1996.4 992.4h0M2108.2 869.6h0M1981.1 1004.3h0M2117.5 860.1h0M2109.2 868.4h0M2118.0 860.5h0M1979.3 1005.5h0M2127.5 850.2h0M1981.7 1004.8h0M2109.7 867.7h0M1978.0 1008.6h0M2110.7 867.4h0M2133.4 845.4h0" stroke="#e9659f" stroke-width="5.0" stroke-linecap="round" fill="none"/>
<path d="M2109.1 867.9h0M2113.6 861.4h0M2108.9 863.8h0M1976.5 1011.4h0M2113.8 860.9h0M1981.3 1005.5h0M2110.9 865.7h0M1984.1 1001.2h0M1969.7 1016.4h0M2108.2 867.5h0M1969.1 1019.0h0M1974.7 1010.2h0M2114.5 862.0h0M1983.6 1001.6h0M2001.0 984.0h0M2109.5 867.0h0M1984.0 1001.8h0M1975.4 1012.4h0M1988.6 999.0h0M1979.1 1006.2h0M2113.4 860.9h0M2113.0 866.3h0M2111.5 865.1h0M1964.9 1021.1h0M2112.6 863.1h0M2111.0 863.0h0" stroke="#03034f" stroke-width="5.0" stroke-linecap="round" fill="none"/>
<path d="M2117.7 853.2h0M2114.4 859.8h0M2119.1 855.5h0M1979.3 1009.8h0M2110.7 863.2h0M1985.3 1004.8h0M1980.8 1006.1h0M2110.7 863.4h0M2116.0 858.4h0M2124.6 848.6h0M1975.9 1015.5h0M1974.0 1017.3h0M2120.1 854.6h0M2116.3 856.4h0M1986.3 1006.0h0M2110.8 863.4h0M1975.3 1014.8h0M1977.2 1012.1h0M1974.4 1016.4h0M2132.8 841.5h0M1974.2 1016.4h0M2115.4 857.7h0M1982.0 1009.7h0M2108.4 867.4h0M1978.7 1012.0h0M1982.4 1005.8h0" stroke="#4512d9" stroke-width="5.0" stroke-linecap="round" fill="none"/>
<path d="M1982.2 1008.8h0M2115.8 858.0h0M2114.3 864.5h0M1980.0 1009.1h0M2112.5 863.3h0M1980.2 1008.0h0M2112.2 864.9h0M1981.7 1005.0h0M1983.2 1004.4h0M2112.6 865.2h0M1988.9 1000.6h0M1984.4 1007.1h0M1985.2 1005.1h0M2122.4 854.9h0M1980.6 1008.7h0M1976.5 1009.6h0M1977.8 1012.3h0M2111.5 865.6h0M2110.8 868.9h0M1984.3 1006.0h0M1981.9 1006.9h0M2113.7 865.5h0M2112.8 862.8h0M1991.4 998.9h0M1974.1 1014.8h0M1988.9 996.9h0" stroke="#9b22cc" stroke-width="5.0" stroke-linecap="round" fill="none"/>
<path d="M2116.0 861.3h0M1984.4 1002.9h0M1974.3 1013.8h0M1986.1 1002.2h0M1997.9 988.4h0M2110.0 865.7h0M1985.9 1002.9h0M2109.4 864.6h0M1979.2 1007.6h0M1981.3 1006.3h0M1978.7 1009.7h0M2114.1 859.3h0M2122.6 852.7h0M1994.8 990.8h0M2113.2 860.3h0M1975.9 1015.3h0M2111.7 863.2h0M2110.1 864.3h0M1971.2 1019.1h0M2114.7 860.9h0M2111.9 865.6h0M2117.6 857.9h0M2117.0 860.0h0M1982.8 1005.3h0M2110.4 864.5h0M1975.1 1014.7h0" stroke="#0505c4" stroke-width="5.0" stroke-linecap="round" fill="none"/>
<path d="M1967.4 1019.9h0M2111.3 867.3h0M2001.1 985.3h0M2109.0 865.8h0M2121.2 854.8h0M1984.9 1000.1h0M2109.3 866.9h0M1986.6 998.7h0M2110.2 866.2h0M2109.4 864.4h0M2107.7 868.3h0M2117.9 857.5h0M2107.3 868.2h0M1977.8 1008.2h0M2112.5 864.9h0M2116.2 859.6h0M1984.8 1002.2h0M2110.7 867.3h0M1968.1 1020.0h0M1974.6 1015.7h0M2107.1 867.8h0M2118.4 858.3h0M2117.1 860.9h0M2109.8 865.8h0M2106.3 867.6h0M1999.2 984.2h0" stroke="#03034f" stroke-width="5.0" stroke-linecap="round" fill="none"/>
<path d="M2116.4 859.5h0M2127.0 845.7h0M2113.4 864.2h0M2115.8 858.5h0M1977.5 1012.1h0M2115.5 860.3h0M2114.4 860.9h0M2115.1 859.3h0M2112.1 863.5h0M1972.1 1017.0h0M2115.4 859.0h0M1981.9 1011.7h0M2130.3 842.6h0M2112.9 859.6h0M1995.4 994.1h0M1993.7 993.0h0M2122.4 853.6h0M1977.5 1010.8h0M2108.1 865.1h0M2114.8 857.9h0M2117.6 857.3h0M2111.9 862.7h0M1974.8 1012.3h0M1980.4 1009.1h0M1974.8 1014.9h0M2110.0 860.4h0" stroke="#4512d9" stroke-width="5.0" stroke-linecap="round" fill="none"/>
<path d="M2112.9 863.5h0M1983.0 1007.0h0M2111.4 864.0h0M1985.1 1003.7h0M1980.6 1009.1h0M2111.1 864.2h0M2116.8 856.6h0M2111.9 864.9h0M1984.4 1005.3h0M2111.5 865.9h0M2111.2 866.2h0M1987.0 1004.3h0M1982.0 1006.8h0M2116.9 857.2h0M2122.3 852.6h0M1976.6 1012.5h0M2126.0 851.4h0M1979.8 1007.1h0M2113.2 863.7h0M2116.8 861.9h0M1979.2 1009.9h0M2109.2 865.7h0M2111.9 864.7h0M2117.3 860.4h0M2113.5 865.5h0M2117.2 859.7h0" stroke="#9b22cc" stroke-width="5.0" stroke-linecap="round" fill="none"/>
<path d="M1971.5 1014.6h0M2109.0 868.1h0M2110.3 866.4h0M1991.5 996.5h0M2112.0 865.3h0M2127.5 847.4h0M2113.7 859.7h0M1978.0 1009.6h0M2109.1 863.0h0M2116.3 861.7h0M1972.0 1017.0h0M2108.4 867.3h0M1996.8 989.2h0M2109.6 863.2h0M1982.5 1005.6h0M2106.8 864.4h0M1973.1 1013.5h0M2114.6 859.0h0M1970.7 1018.7h0M2112.5 864.0h0M2000.1 987.9h0M2111.5 865.0h0M2113.6 860.5h0M1981.9 1004.6h0M2111.5 863.6h0M1983.2 1003.4h0" stroke="#0505c4" stroke-width="5.0" stroke-linecap="round" fill="none"/>
<path d="M2110.6 866.0h0M1986.4 1003.9h0M2107.7 870.8h0M1975.7 1010.8h0M1981.1 1006.9h0M1973.9 1011.3h0M1986.4 1001.1h0M2119.9 856.8h0M2107.0 873.6h0M1985.1 1006.3h0M1982.6 1004.1h0M2131.5 847.5h0M1999.6 988.9h0M2131.1 849.0h0M2129.9 845.6h0M1975.3 1009.1h0M2110.5 869.4h0M1974.8 1011.2h0M2131.0 849.6h0M1977.4 1010.0h0M1982.6 1006.3h0M1997.7 989.3h0M1976.4 1010.7h0M1985.8 1004.0h0M2121.1 858.9h0M1981.0 1006.3h0" stroke="#e9659f" stroke-width="5.0" stroke-linecap="round" fill="none"/>
<path d="M2111.2 864.6h0M2109.8 862.1h0M1977.2 1010.1h0M1973.6 1016.6h0M2112.5 862.9h0M1978.9 1011.0h0M2114.8 857.8h0M2116.1 858.4h0M1976.5 1013.5h0M2110.2 867.2h0M2112.6 860.7h0M2111.0 863.8h0M1983.6 1007.8h0M1975.5 1016.4h0M2111.2 863.2h0M1976.6 1014.2h0M2113.3 860.8h0M1980.2 1010.9h0M1983.1 1005.8h0M1995.4 991.6h0M1990.4 997.1h0M1994.1 992.8h0M2111.5 861.3h0M2112.9 861.0h0M1982.1 1007.7h0M1987.9 998.9h0" stroke="#4512d9" stroke-width="5.0" stroke-linecap="round" fill="none"/>
<path d="M1985.8 1001.9h0M1979.0 1008.3h0M1984.7 1003.7h0M2113.1 863.2h0M2111.8 866.1h0M2112.2 865.2h0M1992.6 1000.1h0M2124.7 854.6h0M1989.4 999.8h0M1980.3 1007.8h0M2134.1 843.2h0M1974.6 1014.2h0M1977.4 1012.4h0M2123.1 855.5h0M2113.9 864.0h0M1993.7 996.6h0M1989.7 998.3h0M1982.9 1004.5h0M2128.2 848.9h0M2121.5 854.2h0M1977.9 1010.1h0M2113.6 865.4h0M1983.7 1006.1h0M2125.8 852.6h0M2115.2 860.6h0M1978.2 1010.2h0" stroke="#9b22cc" stroke-width="5.0" stroke-linecap="round" fill="none"/>
<path d="M2126.8 850.8h0M1985.3 999.7h0M2119.0 854.8h0M2109.3 865.4h0M2108.0 865.6h0M2112.1 863.6h0M1976.0 1012.7h0M2110.8 863.7h0M2110.8 862.5h0M2110.4 863.8h0M2110.4 866.8h0M1978.5 1010.0h0M1982.6 1002.6h0M2113.6 860.6h0M2121.0 855.9h0M2114.7 858.7h0M2113.8 863.5h0M2116.4 859.8h0M1973.4 1015.8h0M1995.9 990.0h0M2126.2 852.7h0M1986.1 1001.7h0M1981.9 1004.4h0M2111.8 862.2h0M1985.2 1001.2h0M1985.6 1001.4h0" stroke="#0505c4" stroke-width="5.0" stroke-linecap="round" fill="none"/>
<path d="M2113.1 866.1h0M2108.6 870.4h0M2128.0 851.5h0M2111.9 865.9h0M1997.7 994.5h0M1978.7 1006.7h0M1973.2 1011.2h0M2109.3 868.9h0M1981.7 1006.0h0M2120.3 858.5h0M1973.9 1012.9h0M2116.6 863.1h0M2108.6 870.2h0M2109.1 871.2h0M2119.7 861.6h0M1977.9 1011.0h0M1983.7 1004.7h0M1981.3 1006.6h0M2129.4 847.9h0M1973.2 1013.3h0M2132.1 844.7h0M1978.1 1010.2h0M2107.7 868.2h0M2110.1 867.9h0M1977.5 1008.8h0M2118.5 862.2h0" stroke="#e9659f" stroke-width="5.0" stroke-linecap="round" fill="none"/>
<path d="M2111.0 867.4h0M1980.5 1003.9h0M1985.8 999.4h0M2113.6 862.5h0M2111.7 864.9h0M1983.9 1002.4h0M2106.4 866.1h0M1967.5 1018.2h0M1985.7 999.4h0M2113.9 861.5h0M1984.4 1001.6h0M2111.9 863.4h0M2114.3 865.9h0M2110.8 864.8h0M1975.7 1009.3h0M2002.2 983.9h0M2108.6 867.2h0M2109.3 866.8h0M1982.0 1004.3h0M2106.6 866.0h0M1977.7 1007.6h0M1982.2 1003.1h0M1986.5 1001.3h0M2114.2 862.6h0M2107.3 866.9h0M1968.9 1016.5h0" stroke="#03034f" stroke-width="5.0" stroke-linecap="round" fill="none"/>
<path d="M2126.1 851.6h0M2111.2 863.7h0M1988.7 998.4h0M1974.5 1016.1h0M2113.0 865.2h0M1988.7 1000.9h0M2126.6 849.2h0M2120.7 854.9h0M2110.9 866.5h0M2111.6 862.7h0M2117.7 858.8h0M2120.8 855.1h0M2113.2 863.6h0M2111.3 866.8h0M2112.6 865.0h0M2110.7 865.6h0M1977.4 1009.9h0M1985.0 1004.5h0M1984.4 1004.7h0M2132.5 844.2h0M1974.3 1015.1h0M2113.9 863.1h0M2116.6 861.7h0M1982.5 1006.6h0M2129.9 845.0h0M1982.8 1005.9h0M1976.1 1012.5h0" stroke="#9b22cc" stroke-width="5.0" stroke-linecap="round" fill="none"/>
<path d="M2116.3 860.6h0M1979.5 1008.2h0M1983.5 1004.4h0M2127.5 846.0h0M2118.7 857.5h0M1970.8 1015.9h0M2110.9 863.5h0M2109.9 864.0h0M2111.7 862.2h0M1978.9 1008.0h0M2109.0 865.8h0M1975.7 1016.2h0M2107.8 863.9h0M2117.9 857.6h0M1978.8 1009.7h0M1975.5 1012.1h0M1992.6 994.5h0M1970.5 1017.0h0M1971.5 1018.2h0M2115.1 859.8h0M2113.9 860.6h0M1971.0 1018.9h0M1977.3 1011.1h0M1982.4 1005.2h0M2110.5 864.1h0M2121.0 852.5h0M1973.1 1014.8h0" stroke="#0505c4" stroke-width="5.0" stroke-linecap="round" fill="none"/>
<path d="M2113.7 865.4h0M1986.9 1001.9h0M1984.8 1001.9h0M2114.2 864.4h0M1979.6 1005.6h0M1978.5 1008.7h0M2117.7 861.4h0M1975.6 1010.8h0M1983.2 1004.0h0M2107.6 870.0h0M2108.3 870.2h0M1983.9 1005.0h0M1982.6 1004.0h0M2108.0 868.7h0M2117.5 861.2h0M2113.4 864.1h0M1974.7 1012.9h0M1977.7 1009.8h0M1981.7 1004.8h0M2111.1 870.2h0M1978.2 1012.0h0M1974.7 1013.0h0M2129.1 849.5h0M1988.0 1000.9h0M2128.1 849.7h0M2110.0 869.0h0M2111.5 867.6h0" stroke="#e9659f" stroke-width="5.0" stroke-linecap="round" fill="none"/>
<path d="M1980.4 1005.0h0M2109.7 865.2h0M1998.6 984.9h0M1975.7 1010.9h0M1971.0 1012.6h0M2000.3 984.0h0M2121.1 855.0h0M1984.3 1001.9h0M1972.5 1012.9h0M1986.0 998.5h0M2111.8 864.2h0M2109.4 865.0h0M2111.0 865.5h0M1979.7 1005.7h0M1980.4 1005.5h0M1980.5 1004.5h0M1965.9 1021.1h0M1981.7 1002.6h0M2115.1 860.7h0M1997.5 989.0h0M2109.7 866.8h0M1985.6 1001.0h0M1984.1 1002.1h0M1976.2 1010.8h0M2109.8 865.3h0M2108.1 866.6h0M1978.2 1006.7h0" stroke="#03034f" stroke-width="5.0" stroke-linecap="round" fill="none"/>
<path d="M2109.0 866.0h0M1981.6 1009.2h0M2112.8 860.1h0M2110.5 862.9h0M2115.8 859.0h0M2115.3 856.6h0M1983.3 1004.7h0M1976.3 1012.2h0M2112.1 864.0h0M2113.7 863.6h0M1979.8 1008.4h0M1973.2 1016.6h0M1978.0 1012.7h0M2115.2 858.1h0M2112.1 861.2h0M1982.8 1004.8h0M2116.9 857.9h0M2114.8 859.5h0M2115.0 859.1h0M2115.7 856.9h0M2127.7 847.2h0M1979.7 1010.0h0M2115.5 860.2h0M1980.0 1007.8h0M2111.6 863.0h0M1977.3 1014.3h0M2117.9 858.9h0" stroke="#4512d9" stroke-width="5.0" stroke-linecap="round" fill="none"/>
<path d="M101.7 52.2V273.2H680.8" fill="none" stroke="#000" stroke-width="1.8"/>
<line x1="127.6" y1="273.2" x2="127.6" y2="280.2" stroke="#000" stroke-width="1.8"/>
<text transform="translate(127.6 308.4) scale(1.0 1.07)" font-size="29" text-anchor="middle">0</text>
<line x1="303.1" y1="273.2" x2="303.1" y2="280.2" stroke="#000" stroke-width="1.8"/>
<text transform="translate(303.1 308.4) scale(1.0 1.07)" font-size="29" text-anchor="middle">15</text>
<line x1="478.6" y1="273.2" x2="478.6" y2="280.2" stroke="#000" stroke-width="1.8"/>
<text transform="translate(478.6 308.4) scale(1.0 1.07)" font-size="29" text-anchor="middle">30</text>
<line x1="654.1" y1="273.2" x2="654.1" y2="280.2" stroke="#000" stroke-width="1.8"/>
<text transform="translate(654.1 308.4) scale(1.0 1.07)" font-size="29" text-anchor="middle">45</text>
<line x1="94.7" y1="62.8" x2="101.7" y2="62.8" stroke="#000" stroke-width="1.8"/>
<text transform="translate(87.7 73.8) scale(1.0 1.07)" font-size="29" text-anchor="end">20</text>
<line x1="94.7" y1="162.8" x2="101.7" y2="162.8" stroke="#000" stroke-width="1.8"/>
<text transform="translate(87.7 173.8) scale(1.0 1.07)" font-size="29" text-anchor="end">0</text>
<line x1="94.7" y1="262.8" x2="101.7" y2="262.8" stroke="#000" stroke-width="1.8"/>
<text transform="translate(87.7 273.8) scale(1.0 1.07)" font-size="29" text-anchor="end">−20</text>
<path d="M838.0 52.2V273.2H1048.9" fill="none" stroke="#000" stroke-width="1.8"/>
<line x1="847.4" y1="273.2" x2="847.4" y2="280.2" stroke="#000" stroke-width="1.8"/>
<text transform="translate(847.4 308.4) scale(1.0 1.07)" font-size="29" text-anchor="middle">−20</text>
<line x1="942.9" y1="273.2" x2="942.9" y2="280.2" stroke="#000" stroke-width="1.8"/>
<text transform="translate(942.9 308.4) scale(1.0 1.07)" font-size="29" text-anchor="middle">0</text>
<line x1="1038.4" y1="273.2" x2="1038.4" y2="280.2" stroke="#000" stroke-width="1.8"/>
<text transform="translate(1038.4 308.4) scale(1.0 1.07)" font-size="29" text-anchor="middle">20</text>
<line x1="831.0" y1="62.8" x2="838.0" y2="62.8" stroke="#000" stroke-width="1.8"/>
<text transform="translate(824.0 73.8) scale(1.0 1.07)" font-size="29" text-anchor="end">20</text>
<line x1="831.0" y1="162.8" x2="838.0" y2="162.8" stroke="#000" stroke-width="1.8"/>
<text transform="translate(824.0 173.8) scale(1.0 1.07)" font-size="29" text-anchor="end">0</text>
<line x1="831.0" y1="262.8" x2="838.0" y2="262.8" stroke="#000" stroke-width="1.8"/>
<text transform="translate(824.0 273.8) scale(1.0 1.07)" font-size="29" text-anchor="end">−20</text>
<text transform="translate(4.0 31.0) scale(0.875 0.96)" font-size="44" font-weight="bold">a</text>
<text transform="translate(101.7 41.3)" font-size="35">no drift</text>
<text transform="translate(941.0 41.2)" font-size="29.8" text-anchor="middle">MSE = 0.04 <tspan font-style="italic" style="font-size:108%">μ</tspan>m</text>
<g fill="#9a9a9a">
<rect x="620.1" y="176.8" width="3.9" height="68.7"/>
<rect x="671.6" y="176.8" width="3.9" height="68.7"/>
<rect x="639.2" y="188.0" width="7.5" height="7.5"/>
<rect x="659.9" y="188.0" width="7.5" height="7.5"/>
<rect x="629.0" y="200.8" width="7.5" height="7.5"/>
<rect x="649.5" y="200.8" width="7.5" height="7.5"/>
<rect x="639.2" y="213.6" width="7.5" height="7.5"/>
<rect x="659.9" y="213.6" width="7.5" height="7.5"/>
<rect x="629.0" y="226.4" width="7.5" height="7.5"/>
<rect x="649.5" y="226.4" width="7.5" height="7.5"/>
</g>
<circle cx="647.8" cy="156.5" r="2.1" fill="#8f8f8f"/>
<circle cx="647.8" cy="164.3" r="2.1" fill="#8f8f8f"/>
<circle cx="647.8" cy="172.1" r="2.1" fill="#8f8f8f"/>
<circle cx="647.8" cy="249.4" r="2.1" fill="#8f8f8f"/>
<circle cx="647.8" cy="257.2" r="2.1" fill="#8f8f8f"/>
<circle cx="647.8" cy="264.9" r="2.1" fill="#8f8f8f"/>
<path d="M101.7 437.9V659.0H680.8" fill="none" stroke="#000" stroke-width="1.8"/>
<line x1="127.6" y1="659.0" x2="127.6" y2="666.0" stroke="#000" stroke-width="1.8"/>
<text transform="translate(127.6 694.2) scale(1.0 1.07)" font-size="29" text-anchor="middle">0</text>
<line x1="303.1" y1="659.0" x2="303.1" y2="666.0" stroke="#000" stroke-width="1.8"/>
<text transform="translate(303.1 694.2) scale(1.0 1.07)" font-size="29" text-anchor="middle">15</text>
<line x1="478.6" y1="659.0" x2="478.6" y2="666.0" stroke="#000" stroke-width="1.8"/>
<text transform="translate(478.6 694.2) scale(1.0 1.07)" font-size="29" text-anchor="middle">30</text>
<line x1="654.1" y1="659.0" x2="654.1" y2="666.0" stroke="#000" stroke-width="1.8"/>
<text transform="translate(654.1 694.2) scale(1.0 1.07)" font-size="29" text-anchor="middle">45</text>
<line x1="94.7" y1="448.5" x2="101.7" y2="448.5" stroke="#000" stroke-width="1.8"/>
<text transform="translate(87.7 459.5) scale(1.0 1.07)" font-size="29" text-anchor="end">20</text>
<line x1="94.7" y1="548.5" x2="101.7" y2="548.5" stroke="#000" stroke-width="1.8"/>
<text transform="translate(87.7 559.5) scale(1.0 1.07)" font-size="29" text-anchor="end">0</text>
<line x1="94.7" y1="648.5" x2="101.7" y2="648.5" stroke="#000" stroke-width="1.8"/>
<text transform="translate(87.7 659.5) scale(1.0 1.07)" font-size="29" text-anchor="end">−20</text>
<path d="M838.0 437.9V659.0H1048.9" fill="none" stroke="#000" stroke-width="1.8"/>
<line x1="847.4" y1="659.0" x2="847.4" y2="666.0" stroke="#000" stroke-width="1.8"/>
<text transform="translate(847.4 694.2) scale(1.0 1.07)" font-size="29" text-anchor="middle">−20</text>
<line x1="942.9" y1="659.0" x2="942.9" y2="666.0" stroke="#000" stroke-width="1.8"/>
<text transform="translate(942.9 694.2) scale(1.0 1.07)" font-size="29" text-anchor="middle">0</text>
<line x1="1038.4" y1="659.0" x2="1038.4" y2="666.0" stroke="#000" stroke-width="1.8"/>
<text transform="translate(1038.4 694.2) scale(1.0 1.07)" font-size="29" text-anchor="middle">20</text>
<line x1="831.0" y1="448.5" x2="838.0" y2="448.5" stroke="#000" stroke-width="1.8"/>
<text transform="translate(824.0 459.5) scale(1.0 1.07)" font-size="29" text-anchor="end">20</text>
<line x1="831.0" y1="548.5" x2="838.0" y2="548.5" stroke="#000" stroke-width="1.8"/>
<text transform="translate(824.0 559.5) scale(1.0 1.07)" font-size="29" text-anchor="end">0</text>
<line x1="831.0" y1="648.5" x2="838.0" y2="648.5" stroke="#000" stroke-width="1.8"/>
<text transform="translate(824.0 659.5) scale(1.0 1.07)" font-size="29" text-anchor="end">−20</text>
<text transform="translate(4.0 416.8)" font-size="44" font-weight="bold">b</text>
<text transform="translate(101.7 427.1)" font-size="35">medium drift</text>
<text transform="translate(941.0 426.9)" font-size="29.8" text-anchor="middle">MSE = 0.19 <tspan font-style="italic" style="font-size:108%">μ</tspan>m</text>
<g fill="#9a9a9a">
<rect x="620.1" y="562.5" width="3.9" height="68.7"/>
<rect x="671.6" y="562.5" width="3.9" height="68.7"/>
<rect x="639.2" y="573.7" width="7.5" height="7.5"/>
<rect x="659.9" y="573.7" width="7.5" height="7.5"/>
<rect x="629.0" y="586.5" width="7.5" height="7.5"/>
<rect x="649.5" y="586.5" width="7.5" height="7.5"/>
<rect x="639.2" y="599.3" width="7.5" height="7.5"/>
<rect x="659.9" y="599.3" width="7.5" height="7.5"/>
<rect x="629.0" y="612.1" width="7.5" height="7.5"/>
<rect x="649.5" y="612.1" width="7.5" height="7.5"/>
</g>
<circle cx="647.8" cy="542.2" r="2.1" fill="#8f8f8f"/>
<circle cx="647.8" cy="550.0" r="2.1" fill="#8f8f8f"/>
<circle cx="647.8" cy="557.8" r="2.1" fill="#8f8f8f"/>
<circle cx="647.8" cy="635.1" r="2.1" fill="#8f8f8f"/>
<circle cx="647.8" cy="642.9" r="2.1" fill="#8f8f8f"/>
<circle cx="647.8" cy="650.6" r="2.1" fill="#8f8f8f"/>
<path d="M101.7 823.7V1044.7H680.8" fill="none" stroke="#000" stroke-width="1.8"/>
<line x1="127.6" y1="1044.7" x2="127.6" y2="1051.7" stroke="#000" stroke-width="1.8"/>
<text transform="translate(127.6 1079.9) scale(1.0 1.07)" font-size="29" text-anchor="middle">0</text>
<line x1="303.1" y1="1044.7" x2="303.1" y2="1051.7" stroke="#000" stroke-width="1.8"/>
<text transform="translate(303.1 1079.9) scale(1.0 1.07)" font-size="29" text-anchor="middle">15</text>
<line x1="478.6" y1="1044.7" x2="478.6" y2="1051.7" stroke="#000" stroke-width="1.8"/>
<text transform="translate(478.6 1079.9) scale(1.0 1.07)" font-size="29" text-anchor="middle">30</text>
<line x1="654.1" y1="1044.7" x2="654.1" y2="1051.7" stroke="#000" stroke-width="1.8"/>
<text transform="translate(654.1 1079.9) scale(1.0 1.07)" font-size="29" text-anchor="middle">45</text>
<line x1="94.7" y1="834.3" x2="101.7" y2="834.3" stroke="#000" stroke-width="1.8"/>
<text transform="translate(87.7 845.3) scale(1.0 1.07)" font-size="29" text-anchor="end">20</text>
<line x1="94.7" y1="934.3" x2="101.7" y2="934.3" stroke="#000" stroke-width="1.8"/>
<text transform="translate(87.7 945.3) scale(1.0 1.07)" font-size="29" text-anchor="end">0</text>
<line x1="94.7" y1="1034.3" x2="101.7" y2="1034.3" stroke="#000" stroke-width="1.8"/>
<text transform="translate(87.7 1045.3) scale(1.0 1.07)" font-size="29" text-anchor="end">−20</text>
<path d="M838.0 823.7V1044.7H1048.9" fill="none" stroke="#000" stroke-width="1.8"/>
<line x1="847.4" y1="1044.7" x2="847.4" y2="1051.7" stroke="#000" stroke-width="1.8"/>
<text transform="translate(847.4 1079.9) scale(1.0 1.07)" font-size="29" text-anchor="middle">−20</text>
<line x1="942.9" y1="1044.7" x2="942.9" y2="1051.7" stroke="#000" stroke-width="1.8"/>
<text transform="translate(942.9 1079.9) scale(1.0 1.07)" font-size="29" text-anchor="middle">0</text>
<line x1="1038.4" y1="1044.7" x2="1038.4" y2="1051.7" stroke="#000" stroke-width="1.8"/>
<text transform="translate(1038.4 1079.9) scale(1.0 1.07)" font-size="29" text-anchor="middle">20</text>
<line x1="831.0" y1="834.3" x2="838.0" y2="834.3" stroke="#000" stroke-width="1.8"/>
<text transform="translate(824.0 845.3) scale(1.0 1.07)" font-size="29" text-anchor="end">20</text>
<line x1="831.0" y1="934.3" x2="838.0" y2="934.3" stroke="#000" stroke-width="1.8"/>
<text transform="translate(824.0 945.3) scale(1.0 1.07)" font-size="29" text-anchor="end">0</text>
<line x1="831.0" y1="1034.3" x2="838.0" y2="1034.3" stroke="#000" stroke-width="1.8"/>
<text transform="translate(824.0 1045.3) scale(1.0 1.07)" font-size="29" text-anchor="end">−20</text>
<text transform="translate(4.0 802.5)" font-size="44" font-weight="bold">c</text>
<text transform="translate(101.7 812.8)" font-size="35">high drift</text>
<text transform="translate(941.0 812.7)" font-size="29.8" text-anchor="middle">MSE = 3.21 <tspan font-style="italic" style="font-size:108%">μ</tspan>m</text>
<g fill="#9a9a9a">
<rect x="620.1" y="948.3" width="3.9" height="68.7"/>
<rect x="671.6" y="948.3" width="3.9" height="68.7"/>
<rect x="639.2" y="959.4" width="7.5" height="7.5"/>
<rect x="659.9" y="959.4" width="7.5" height="7.5"/>
<rect x="629.0" y="972.2" width="7.5" height="7.5"/>
<rect x="649.5" y="972.2" width="7.5" height="7.5"/>
<rect x="639.2" y="985.0" width="7.5" height="7.5"/>
<rect x="659.9" y="985.0" width="7.5" height="7.5"/>
<rect x="629.0" y="997.8" width="7.5" height="7.5"/>
<rect x="649.5" y="997.8" width="7.5" height="7.5"/>
</g>
<circle cx="647.8" cy="928.0" r="2.1" fill="#8f8f8f"/>
<circle cx="647.8" cy="935.8" r="2.1" fill="#8f8f8f"/>
<circle cx="647.8" cy="943.6" r="2.1" fill="#8f8f8f"/>
<circle cx="647.8" cy="1020.9" r="2.1" fill="#8f8f8f"/>
<circle cx="647.8" cy="1028.7" r="2.1" fill="#8f8f8f"/>
<circle cx="647.8" cy="1036.4" r="2.1" fill="#8f8f8f"/>
<path d="M1206.5 52.2V273.2H1785.6" fill="none" stroke="#000" stroke-width="1.8"/>
<line x1="1232.8" y1="273.2" x2="1232.8" y2="280.2" stroke="#000" stroke-width="1.8"/>
<text transform="translate(1232.8 308.4) scale(1.0 1.07)" font-size="29" text-anchor="middle">0</text>
<line x1="1337.9" y1="273.2" x2="1337.9" y2="280.2" stroke="#000" stroke-width="1.8"/>
<text transform="translate(1337.9 308.4) scale(1.0 1.07)" font-size="29" text-anchor="middle">2</text>
<line x1="1443.0" y1="273.2" x2="1443.0" y2="280.2" stroke="#000" stroke-width="1.8"/>
<text transform="translate(1443.0 308.4) scale(1.0 1.07)" font-size="29" text-anchor="middle">4</text>
<line x1="1548.1" y1="273.2" x2="1548.1" y2="280.2" stroke="#000" stroke-width="1.8"/>
<text transform="translate(1548.1 308.4) scale(1.0 1.07)" font-size="29" text-anchor="middle">6</text>
<line x1="1653.2" y1="273.2" x2="1653.2" y2="280.2" stroke="#000" stroke-width="1.8"/>
<text transform="translate(1653.2 308.4) scale(1.0 1.07)" font-size="29" text-anchor="middle">8</text>
<line x1="1758.3" y1="273.2" x2="1758.3" y2="280.2" stroke="#000" stroke-width="1.8"/>
<text transform="translate(1758.3 308.4) scale(1.0 1.07)" font-size="29" text-anchor="middle">10</text>
<line x1="1199.5" y1="62.8" x2="1206.5" y2="62.8" stroke="#000" stroke-width="1.8"/>
<text transform="translate(1192.5 73.8) scale(1.0 1.07)" font-size="29" text-anchor="end">20</text>
<line x1="1199.5" y1="162.8" x2="1206.5" y2="162.8" stroke="#000" stroke-width="1.8"/>
<text transform="translate(1192.5 173.8) scale(1.0 1.07)" font-size="29" text-anchor="end">0</text>
<line x1="1199.5" y1="262.8" x2="1206.5" y2="262.8" stroke="#000" stroke-width="1.8"/>
<text transform="translate(1192.5 273.8) scale(1.0 1.07)" font-size="29" text-anchor="end">−20</text>
<path d="M1942.8 52.2V273.2H2153.7" fill="none" stroke="#000" stroke-width="1.8"/>
<line x1="1952.2" y1="273.2" x2="1952.2" y2="280.2" stroke="#000" stroke-width="1.8"/>
<text transform="translate(1952.2 308.4) scale(1.0 1.07)" font-size="29" text-anchor="middle">−20</text>
<line x1="2047.7" y1="273.2" x2="2047.7" y2="280.2" stroke="#000" stroke-width="1.8"/>
<text transform="translate(2047.7 308.4) scale(1.0 1.07)" font-size="29" text-anchor="middle">0</text>
<line x1="2143.2" y1="273.2" x2="2143.2" y2="280.2" stroke="#000" stroke-width="1.8"/>
<text transform="translate(2143.2 308.4) scale(1.0 1.07)" font-size="29" text-anchor="middle">20</text>
<line x1="1935.8" y1="62.8" x2="1942.8" y2="62.8" stroke="#000" stroke-width="1.8"/>
<text transform="translate(1928.8 73.8) scale(1.0 1.07)" font-size="29" text-anchor="end">20</text>
<line x1="1935.8" y1="162.8" x2="1942.8" y2="162.8" stroke="#000" stroke-width="1.8"/>
<text transform="translate(1928.8 173.8) scale(1.0 1.07)" font-size="29" text-anchor="end">0</text>
<line x1="1935.8" y1="262.8" x2="1942.8" y2="262.8" stroke="#000" stroke-width="1.8"/>
<text transform="translate(1928.8 273.8) scale(1.0 1.07)" font-size="29" text-anchor="end">−20</text>
<text transform="translate(1108.8 31.0)" font-size="44" font-weight="bold">d</text>
<text transform="translate(1206.5 41.3)" font-size="35">fast drift</text>
<text transform="translate(2045.8 41.2)" font-size="29.8" text-anchor="middle">MSE = 5.29 <tspan font-style="italic" style="font-size:108%">μ</tspan>m</text>
<g fill="#9a9a9a">
<rect x="1724.9" y="176.8" width="3.9" height="68.7"/>
<rect x="1776.4" y="176.8" width="3.9" height="68.7"/>
<rect x="1744.0" y="188.0" width="7.5" height="7.5"/>
<rect x="1764.8" y="188.0" width="7.5" height="7.5"/>
<rect x="1733.8" y="200.8" width="7.5" height="7.5"/>
<rect x="1754.3" y="200.8" width="7.5" height="7.5"/>
<rect x="1744.0" y="213.6" width="7.5" height="7.5"/>
<rect x="1764.8" y="213.6" width="7.5" height="7.5"/>
<rect x="1733.8" y="226.4" width="7.5" height="7.5"/>
<rect x="1754.3" y="226.4" width="7.5" height="7.5"/>
</g>
<circle cx="1752.6" cy="156.5" r="2.1" fill="#8f8f8f"/>
<circle cx="1752.6" cy="164.3" r="2.1" fill="#8f8f8f"/>
<circle cx="1752.6" cy="172.1" r="2.1" fill="#8f8f8f"/>
<circle cx="1752.6" cy="249.4" r="2.1" fill="#8f8f8f"/>
<circle cx="1752.6" cy="257.2" r="2.1" fill="#8f8f8f"/>
<circle cx="1752.6" cy="264.9" r="2.1" fill="#8f8f8f"/>
<path d="M1206.5 437.9V659.0H1785.6" fill="none" stroke="#000" stroke-width="1.8"/>
<line x1="1232.4" y1="659.0" x2="1232.4" y2="666.0" stroke="#000" stroke-width="1.8"/>
<text transform="translate(1232.4 694.2) scale(1.0 1.07)" font-size="29" text-anchor="middle">0</text>
<line x1="1407.9" y1="659.0" x2="1407.9" y2="666.0" stroke="#000" stroke-width="1.8"/>
<text transform="translate(1407.9 694.2) scale(1.0 1.07)" font-size="29" text-anchor="middle">15</text>
<line x1="1583.4" y1="659.0" x2="1583.4" y2="666.0" stroke="#000" stroke-width="1.8"/>
<text transform="translate(1583.4 694.2) scale(1.0 1.07)" font-size="29" text-anchor="middle">30</text>
<line x1="1758.9" y1="659.0" x2="1758.9" y2="666.0" stroke="#000" stroke-width="1.8"/>
<text transform="translate(1758.9 694.2) scale(1.0 1.07)" font-size="29" text-anchor="middle">45</text>
<line x1="1199.5" y1="448.5" x2="1206.5" y2="448.5" stroke="#000" stroke-width="1.8"/>
<text transform="translate(1192.5 459.5) scale(1.0 1.07)" font-size="29" text-anchor="end">20</text>
<line x1="1199.5" y1="548.5" x2="1206.5" y2="548.5" stroke="#000" stroke-width="1.8"/>
<text transform="translate(1192.5 559.5) scale(1.0 1.07)" font-size="29" text-anchor="end">0</text>
<line x1="1199.5" y1="648.5" x2="1206.5" y2="648.5" stroke="#000" stroke-width="1.8"/>
<text transform="translate(1192.5 659.5) scale(1.0 1.07)" font-size="29" text-anchor="end">−20</text>
<path d="M1942.8 437.9V659.0H2153.7" fill="none" stroke="#000" stroke-width="1.8"/>
<line x1="1952.2" y1="659.0" x2="1952.2" y2="666.0" stroke="#000" stroke-width="1.8"/>
<text transform="translate(1952.2 694.2) scale(1.0 1.07)" font-size="29" text-anchor="middle">−20</text>
<line x1="2047.7" y1="659.0" x2="2047.7" y2="666.0" stroke="#000" stroke-width="1.8"/>
<text transform="translate(2047.7 694.2) scale(1.0 1.07)" font-size="29" text-anchor="middle">0</text>
<line x1="2143.2" y1="659.0" x2="2143.2" y2="666.0" stroke="#000" stroke-width="1.8"/>
<text transform="translate(2143.2 694.2) scale(1.0 1.07)" font-size="29" text-anchor="middle">20</text>
<line x1="1935.8" y1="448.5" x2="1942.8" y2="448.5" stroke="#000" stroke-width="1.8"/>
<text transform="translate(1928.8 459.5) scale(1.0 1.07)" font-size="29" text-anchor="end">20</text>
<line x1="1935.8" y1="548.5" x2="1942.8" y2="548.5" stroke="#000" stroke-width="1.8"/>
<text transform="translate(1928.8 559.5) scale(1.0 1.07)" font-size="29" text-anchor="end">0</text>
<line x1="1935.8" y1="648.5" x2="1942.8" y2="648.5" stroke="#000" stroke-width="1.8"/>
<text transform="translate(1928.8 659.5) scale(1.0 1.07)" font-size="29" text-anchor="end">−20</text>
<text transform="translate(1108.8 416.8)" font-size="44" font-weight="bold">e</text>
<text transform="translate(1206.5 427.1)" font-size="35">step drift</text>
<text transform="translate(2045.8 426.9)" font-size="29.8" text-anchor="middle">MSE = 0.93 <tspan font-style="italic" style="font-size:108%">μ</tspan>m</text>
<g fill="#9a9a9a">
<rect x="1724.9" y="562.5" width="3.9" height="68.7"/>
<rect x="1776.4" y="562.5" width="3.9" height="68.7"/>
<rect x="1744.0" y="573.7" width="7.5" height="7.5"/>
<rect x="1764.8" y="573.7" width="7.5" height="7.5"/>
<rect x="1733.8" y="586.5" width="7.5" height="7.5"/>
<rect x="1754.3" y="586.5" width="7.5" height="7.5"/>
<rect x="1744.0" y="599.3" width="7.5" height="7.5"/>
<rect x="1764.8" y="599.3" width="7.5" height="7.5"/>
<rect x="1733.8" y="612.1" width="7.5" height="7.5"/>
<rect x="1754.3" y="612.1" width="7.5" height="7.5"/>
</g>
<circle cx="1752.6" cy="542.2" r="2.1" fill="#8f8f8f"/>
<circle cx="1752.6" cy="550.0" r="2.1" fill="#8f8f8f"/>
<circle cx="1752.6" cy="557.8" r="2.1" fill="#8f8f8f"/>
<circle cx="1752.6" cy="635.1" r="2.1" fill="#8f8f8f"/>
<circle cx="1752.6" cy="642.9" r="2.1" fill="#8f8f8f"/>
<circle cx="1752.6" cy="650.6" r="2.1" fill="#8f8f8f"/>
<path d="M1206.5 823.7V1044.7H1785.6" fill="none" stroke="#000" stroke-width="1.8"/>
<line x1="1232.4" y1="1044.7" x2="1232.4" y2="1051.7" stroke="#000" stroke-width="1.8"/>
<text transform="translate(1232.4 1079.9) scale(1.0 1.07)" font-size="29" text-anchor="middle">0</text>
<line x1="1407.9" y1="1044.7" x2="1407.9" y2="1051.7" stroke="#000" stroke-width="1.8"/>
<text transform="translate(1407.9 1079.9) scale(1.0 1.07)" font-size="29" text-anchor="middle">15</text>
<line x1="1583.4" y1="1044.7" x2="1583.4" y2="1051.7" stroke="#000" stroke-width="1.8"/>
<text transform="translate(1583.4 1079.9) scale(1.0 1.07)" font-size="29" text-anchor="middle">30</text>
<line x1="1758.9" y1="1044.7" x2="1758.9" y2="1051.7" stroke="#000" stroke-width="1.8"/>
<text transform="translate(1758.9 1079.9) scale(1.0 1.07)" font-size="29" text-anchor="middle">45</text>
<line x1="1199.5" y1="834.3" x2="1206.5" y2="834.3" stroke="#000" stroke-width="1.8"/>
<text transform="translate(1192.5 845.3) scale(1.0 1.07)" font-size="29" text-anchor="end">20</text>
<line x1="1199.5" y1="934.3" x2="1206.5" y2="934.3" stroke="#000" stroke-width="1.8"/>
<text transform="translate(1192.5 945.3) scale(1.0 1.07)" font-size="29" text-anchor="end">0</text>
<line x1="1199.5" y1="1034.3" x2="1206.5" y2="1034.3" stroke="#000" stroke-width="1.8"/>
<text transform="translate(1192.5 1045.3) scale(1.0 1.07)" font-size="29" text-anchor="end">−20</text>
<path d="M1942.8 823.7V1044.7H2153.7" fill="none" stroke="#000" stroke-width="1.8"/>
<line x1="1952.2" y1="1044.7" x2="1952.2" y2="1051.7" stroke="#000" stroke-width="1.8"/>
<text transform="translate(1952.2 1079.9) scale(1.0 1.07)" font-size="29" text-anchor="middle">−20</text>
<line x1="2047.7" y1="1044.7" x2="2047.7" y2="1051.7" stroke="#000" stroke-width="1.8"/>
<text transform="translate(2047.7 1079.9) scale(1.0 1.07)" font-size="29" text-anchor="middle">0</text>
<line x1="2143.2" y1="1044.7" x2="2143.2" y2="1051.7" stroke="#000" stroke-width="1.8"/>
<text transform="translate(2143.2 1079.9) scale(1.0 1.07)" font-size="29" text-anchor="middle">20</text>
<line x1="1935.8" y1="834.3" x2="1942.8" y2="834.3" stroke="#000" stroke-width="1.8"/>
<text transform="translate(1928.8 845.3) scale(1.0 1.07)" font-size="29" text-anchor="end">20</text>
<line x1="1935.8" y1="934.3" x2="1942.8" y2="934.3" stroke="#000" stroke-width="1.8"/>
<text transform="translate(1928.8 945.3) scale(1.0 1.07)" font-size="29" text-anchor="end">0</text>
<line x1="1935.8" y1="1034.3" x2="1942.8" y2="1034.3" stroke="#000" stroke-width="1.8"/>
<text transform="translate(1928.8 1045.3) scale(1.0 1.07)" font-size="29" text-anchor="end">−20</text>
<text transform="translate(1108.8 802.5)" font-size="44" font-weight="bold">f</text>
<text transform="translate(1206.5 812.8)" font-size="35">step drift, aligned</text>
<text transform="translate(2045.8 812.7)" font-size="29.8" text-anchor="middle">MSE = 0.60 <tspan font-style="italic" style="font-size:108%">μ</tspan>m</text>
<g fill="#9a9a9a">
<rect x="1724.9" y="948.3" width="3.9" height="68.7"/>
<rect x="1776.4" y="948.3" width="3.9" height="68.7"/>
<rect x="1738.2" y="959.4" width="7.5" height="7.5"/>
<rect x="1758.9" y="959.4" width="7.5" height="7.5"/>
<rect x="1738.2" y="972.2" width="7.5" height="7.5"/>
<rect x="1758.9" y="972.2" width="7.5" height="7.5"/>
<rect x="1738.2" y="985.0" width="7.5" height="7.5"/>
<rect x="1758.9" y="985.0" width="7.5" height="7.5"/>
<rect x="1738.2" y="997.8" width="7.5" height="7.5"/>
<rect x="1758.9" y="997.8" width="7.5" height="7.5"/>
</g>
<circle cx="1752.6" cy="928.0" r="2.1" fill="#8f8f8f"/>
<circle cx="1752.6" cy="935.8" r="2.1" fill="#8f8f8f"/>
<circle cx="1752.6" cy="943.6" r="2.1" fill="#8f8f8f"/>
<circle cx="1752.6" cy="1020.9" r="2.1" fill="#8f8f8f"/>
<circle cx="1752.6" cy="1028.7" r="2.1" fill="#8f8f8f"/>
<circle cx="1752.6" cy="1036.4" r="2.1" fill="#8f8f8f"/>
<text transform="translate(22.5 163.9) rotate(-90)" font-size="29.8" text-anchor="middle">sim depth (<tspan font-style="italic" style="font-size:108%">μ</tspan>m)</text>
<text transform="translate(391.0 343.0)" font-size="29.5" text-anchor="middle">time (min)</text>
<text transform="translate(759.0 164.2) rotate(-90)" font-size="29.8" text-anchor="middle">estimated (<tspan font-style="italic" style="font-size:108%">μ</tspan>m)</text>
<text transform="translate(942.0 343.0)" font-size="29.5" text-anchor="middle">ground truth (<tspan font-style="italic" style="font-size:108%">μ</tspan>m)</text>
<line x1="456.9" y1="83.4" x2="507.6" y2="83.4" stroke="#000" stroke-width="2.1"/>
<line x1="457.8" y1="117.9" x2="506.8" y2="117.9" stroke="#000" stroke-width="2.1" stroke-dasharray="7.4 2.8"/>
<text transform="translate(526.0 92.3)" font-size="24.5">ground truth</text>
<text transform="translate(526.0 126.2)" font-size="24.5">estimated</text>
<text transform="translate(160.0 197.5)" font-size="24.5" fill="#03034f">380 <tspan font-style="italic" style="font-size:108%">μ</tspan>m</text>
<text transform="translate(160.0 223.9)" font-size="24.5" fill="#4512d9">1900 <tspan font-style="italic" style="font-size:108%">μ</tspan>m</text>
<text transform="translate(160.0 250.4)" font-size="24.5" fill="#e9659f">3440 <tspan font-style="italic" style="font-size:108%">μ</tspan>m</text>
<text transform="translate(955.0 153.8)" font-size="24.5" fill="#03034f">380 <tspan font-style="italic" style="font-size:108%">μ</tspan>m</text>
<text transform="translate(955.0 180.1)" font-size="24.5" fill="#0505c4">1140 <tspan font-style="italic" style="font-size:108%">μ</tspan>m</text>
<text transform="translate(955.0 206.3)" font-size="24.5" fill="#4512d9">1900 <tspan font-style="italic" style="font-size:108%">μ</tspan>m</text>
<text transform="translate(955.0 232.6)" font-size="24.5" fill="#9b22cc">2680 <tspan font-style="italic" style="font-size:108%">μ</tspan>m</text>
<text transform="translate(955.0 258.8)" font-size="24.5" fill="#e9659f">3440 <tspan font-style="italic" style="font-size:108%">μ</tspan>m</text>
</svg>
</body></html>
